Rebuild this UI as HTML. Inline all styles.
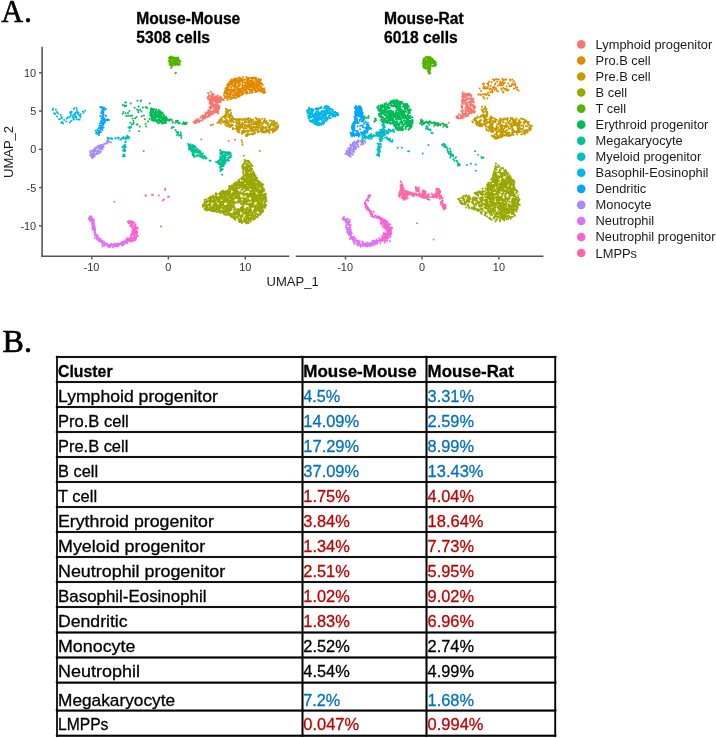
<!DOCTYPE html>
<html><head><meta charset="utf-8"><style>
html,body{margin:0;padding:0;background:#fff;}
body{width:716px;height:738px;overflow:hidden;}
svg{display:block;font-family:"Liberation Sans",sans-serif;filter:blur(0.35px);}
.ser{font-family:"Liberation Serif",serif;}
</style></head><body>
<svg width="716" height="738" viewBox="0 0 716 738">
<text class="ser" transform="translate(1.2,21.8) scale(0.95,1)" x="0" y="0" font-size="32" stroke="#000" stroke-width="0.6">A</text>
<text class="ser" x="24.0" y="21.8" font-size="32" stroke="#000" stroke-width="0.6">.</text>
<text class="ser" x="2.6" y="352.0" font-size="32" stroke="#000" stroke-width="0.7">B.</text>
<line x1="42.1" y1="46.8" x2="42.1" y2="257" stroke="#555555" stroke-width="1.6"/>
<line x1="41.3" y1="256.3" x2="289.3" y2="256.3" stroke="#555555" stroke-width="1.6"/>
<line x1="295.7" y1="256.3" x2="543.4" y2="256.3" stroke="#555555" stroke-width="1.6"/>
<line x1="39" y1="72.8" x2="42" y2="72.8" stroke="#555555" stroke-width="1.4"/>
<text x="36.2" y="76.7" text-anchor="end" fill="#333333" font-size="10.9">10</text>
<line x1="39" y1="111.1" x2="42" y2="111.1" stroke="#555555" stroke-width="1.4"/>
<text x="36.2" y="115.0" text-anchor="end" fill="#333333" font-size="10.9">5</text>
<line x1="39" y1="149.4" x2="42" y2="149.4" stroke="#555555" stroke-width="1.4"/>
<text x="36.2" y="153.3" text-anchor="end" fill="#333333" font-size="10.9">0</text>
<line x1="39" y1="187.6" x2="42" y2="187.6" stroke="#555555" stroke-width="1.4"/>
<text x="36.2" y="191.5" text-anchor="end" fill="#333333" font-size="10.9">-5</text>
<line x1="39" y1="225.8" x2="42" y2="225.8" stroke="#555555" stroke-width="1.4"/>
<text x="36.2" y="229.7" text-anchor="end" fill="#333333" font-size="10.9">-10</text>
<line x1="91.9" y1="256.5" x2="91.9" y2="259.5" stroke="#555555" stroke-width="1.4"/>
<text x="91.5" y="271.1" text-anchor="middle" fill="#333333" font-size="10.9">-10</text>
<line x1="168.4" y1="256.5" x2="168.4" y2="259.5" stroke="#555555" stroke-width="1.4"/>
<text x="168.4" y="271.1" text-anchor="middle" fill="#333333" font-size="10.9">0</text>
<line x1="245.3" y1="256.5" x2="245.3" y2="259.5" stroke="#555555" stroke-width="1.4"/>
<text x="245.3" y="271.1" text-anchor="middle" fill="#333333" font-size="10.9">10</text>
<line x1="345.5" y1="256.5" x2="345.5" y2="259.5" stroke="#555555" stroke-width="1.4"/>
<text x="345.1" y="271.1" text-anchor="middle" fill="#333333" font-size="10.9">-10</text>
<line x1="422.0" y1="256.5" x2="422.0" y2="259.5" stroke="#555555" stroke-width="1.4"/>
<text x="422.0" y="271.1" text-anchor="middle" fill="#333333" font-size="10.9">0</text>
<line x1="498.9" y1="256.5" x2="498.9" y2="259.5" stroke="#555555" stroke-width="1.4"/>
<text x="498.9" y="271.1" text-anchor="middle" fill="#333333" font-size="10.9">10</text>
<text x="266.6" y="285.8" font-size="13" fill="#1a1a1a">UMAP_1</text>
<text transform="translate(13.3,178) rotate(-90)" font-size="13" fill="#1a1a1a">UMAP_2</text>
<text x="136.3" y="24.0" font-weight="bold" font-size="15.6" stroke="#000" stroke-width="0.3">Mouse-Mouse</text>
<text x="136.3" y="42.5" font-weight="bold" font-size="15.6" stroke="#000" stroke-width="0.3">5308 cells</text>
<text x="384.0" y="24.0" font-weight="bold" font-size="15.6" stroke="#000" stroke-width="0.3">Mouse-Rat</text>
<text x="384.0" y="42.5" font-weight="bold" font-size="15.6" stroke="#000" stroke-width="0.3">6018 cells</text>
<g fill="none" stroke-width="2.00" stroke-linecap="round">
<path stroke="#00BC56" d="M130.7 103.4h0M140.5 101.1h0M137.1 109.6h0M122.7 113.7h0M133.7 123.0h0M124.7 105.5h0M139.8 126.5h0M138.3 110.5h0M146.8 107.4h0M125.3 102.4h0M130.3 122.7h0M126.4 115.9h0M140.2 109.8h0M137.4 100.8h0M122.8 105.0h0M141.4 111.4h0M130.4 116.0h0M134.6 107.7h0M144.8 119.3h0M128.3 115.7h0M136.8 124.4h0M142.9 107.4h0M133.5 121.0h0M125.6 113.2h0M143.9 115.6h0M147.3 108.1h0M141.9 116.2h0M138.4 112.2h0M146.2 126.4h0M135.2 118.3h0M145.7 107.3h0M132.6 118.4h0M126.0 102.4h0M124.9 106.2h0M132.7 124.3h0M123.4 112.0h0M137.5 124.6h0M145.6 124.1h0M129.4 111.0h0M131.8 124.6h0M149.7 103.4h0M126.3 105.7h0M128.0 113.1h0M138.7 106.6h0M132.1 115.4h0M149.6 119.0h0M136.5 116.9h0M141.3 100.6h0M148.0 121.6h0M154.3 112.4h0M164.2 119.2h0M159.6 121.2h0M152.7 116.6h0M154.7 114.3h0M153.3 119.4h0M160.0 120.6h0M161.0 117.6h0M166.1 121.2h0M159.9 113.0h0M151.8 113.2h0M162.4 123.2h0M161.3 118.7h0M166.4 120.6h0M157.8 115.3h0M151.9 117.9h0M162.0 122.5h0M152.2 109.9h0M158.6 113.2h0M157.8 120.8h0M151.3 115.2h0M150.3 115.6h0M157.2 121.8h0M163.6 117.4h0M154.2 112.7h0M158.6 114.2h0M161.3 116.0h0M155.7 117.7h0M151.6 108.5h0M157.4 121.6h0M162.2 123.7h0M164.6 117.4h0M156.7 112.0h0M159.5 113.9h0M158.6 114.4h0M151.8 119.8h0M164.0 117.6h0M152.0 117.6h0M165.4 118.7h0M164.5 122.5h0M154.3 117.2h0M156.6 112.5h0M163.3 117.9h0M155.8 116.7h0M166.2 117.1h0M166.0 117.1h0M158.0 116.8h0M160.9 115.6h0M161.1 116.5h0M162.3 123.4h0M150.2 113.0h0M161.3 121.0h0M154.2 114.0h0M154.0 119.4h0M159.3 117.7h0M155.7 117.4h0M159.0 114.0h0M156.1 121.0h0M153.1 116.9h0M163.5 123.2h0M150.3 112.1h0M158.6 123.2h0M157.0 116.7h0M155.8 110.2h0M152.3 112.7h0M162.3 117.3h0M158.9 110.0h0M164.4 121.3h0M163.4 120.5h0M161.1 121.5h0M164.6 123.0h0M155.5 119.0h0M162.0 121.8h0M159.9 112.2h0M154.4 116.7h0M162.2 118.8h0M151.7 112.3h0M163.5 115.4h0M151.9 113.4h0M151.6 118.8h0M151.5 111.7h0M161.6 122.2h0M157.2 115.1h0M150.5 113.3h0M154.2 120.8h0M162.5 120.7h0M159.3 119.3h0M152.2 114.0h0M155.1 112.3h0M155.7 112.3h0M165.1 118.3h0M158.4 113.9h0M157.9 117.1h0M154.5 109.3h0M158.8 120.4h0M152.7 114.8h0M156.7 121.6h0M152.2 118.2h0M163.0 123.0h0M161.6 112.7h0M159.0 112.4h0M157.8 115.4h0M166.0 122.7h0M166.1 118.3h0M164.8 121.3h0M156.5 121.4h0M153.7 120.2h0M158.2 114.5h0M153.4 121.0h0M156.6 114.5h0M160.1 122.5h0M166.5 118.2h0M156.4 109.4h0M151.2 116.3h0M160.2 115.1h0M156.1 114.6h0M160.3 116.7h0M157.5 111.8h0M155.5 115.8h0M159.9 111.1h0M150.9 110.3h0M156.1 120.7h0M163.7 115.0h0M159.4 116.5h0M150.7 108.7h0M161.7 119.1h0M151.2 116.8h0M150.8 115.7h0M160.9 112.3h0M157.8 111.5h0M153.3 110.6h0M164.3 115.2h0M162.5 113.4h0M164.1 117.6h0M161.4 114.2h0M159.8 110.8h0M167.0 118.8h0M159.3 118.3h0M151.8 113.2h0M150.2 115.0h0M165.2 120.7h0M162.6 112.6h0M154.1 119.4h0M155.2 119.7h0M156.1 120.3h0M160.0 121.2h0M159.5 114.1h0M153.6 120.7h0M159.6 120.2h0M154.5 118.7h0M163.4 118.2h0M157.8 119.8h0M159.4 117.6h0M155.4 113.3h0M151.7 113.4h0M162.8 117.2h0M153.0 119.8h0M152.0 120.1h0M152.6 109.2h0M154.4 116.2h0M163.1 119.2h0M159.8 111.9h0M150.2 113.1h0M155.6 110.9h0M157.5 122.6h0M153.7 109.5h0M156.4 109.6h0M153.1 111.8h0M160.1 115.1h0M155.3 116.4h0M163.5 119.7h0M172.9 122.0h0M178.0 120.8h0M176.0 121.0h0M184.5 123.5h0M178.4 123.5h0M184.4 124.3h0M166.8 119.0h0M177.4 120.8h0M183.7 122.2h0M179.8 122.9h0M170.2 119.2h0M186.8 122.8h0M170.0 119.8h0M171.8 120.0h0M168.3 120.2h0M169.5 120.7h0M182.5 123.7h0M183.9 123.7h0M168.6 119.9h0M175.5 122.7h0M185.7 122.8h0M185.9 124.2h0M172.8 122.5h0M170.3 119.5h0M177.4 122.0h0"/>
<path stroke="#F8766D" d="M211.2 96.2h0M217.7 96.6h0M193.5 121.9h0M208.6 96.1h0M208.8 116.4h0M218.0 106.8h0M215.3 106.7h0M202.8 117.1h0M214.5 96.9h0M217.6 98.2h0M196.7 120.6h0M214.6 109.3h0M216.0 107.7h0M209.7 115.8h0M211.2 107.6h0M208.2 113.6h0M221.1 99.7h0M218.0 95.8h0M212.6 96.0h0M199.4 122.0h0M211.5 107.8h0M194.7 123.0h0M217.4 99.7h0M197.3 120.9h0M209.9 113.9h0M213.4 105.1h0M195.0 121.5h0M208.6 99.1h0M215.6 100.7h0M207.8 97.1h0M214.8 109.1h0M217.4 105.3h0M203.1 118.1h0M214.0 111.8h0M210.4 108.4h0M215.3 112.5h0M214.5 112.0h0M213.3 113.7h0M209.6 111.6h0M211.6 113.2h0M212.6 93.5h0M214.9 99.5h0M214.7 98.0h0M207.2 113.3h0M215.8 111.2h0M212.1 93.9h0M215.1 101.2h0M213.0 113.6h0M213.1 100.7h0M219.6 97.8h0M199.1 121.8h0M217.4 107.7h0M199.7 120.2h0M202.3 118.4h0M219.8 100.7h0M208.1 97.5h0M214.8 105.9h0M215.4 112.1h0M212.5 101.1h0M199.0 120.5h0M207.7 98.5h0M215.3 104.7h0M207.9 111.6h0M218.7 98.3h0M219.7 106.6h0M222.0 99.4h0M208.5 113.3h0M199.8 120.9h0M212.2 101.2h0M211.9 113.8h0M208.5 110.1h0M210.8 91.7h0M219.3 106.7h0M207.7 113.1h0M213.3 97.8h0M207.9 98.0h0M217.4 98.8h0M207.7 97.4h0M220.7 102.0h0M198.4 121.4h0M212.7 103.6h0M221.7 98.1h0M203.5 117.8h0M217.5 105.3h0M205.1 117.5h0M220.4 99.7h0M220.6 97.3h0M211.0 101.9h0M214.1 105.7h0M211.4 113.0h0M212.7 95.3h0M218.0 100.8h0M209.8 103.4h0M214.9 97.8h0M197.4 119.8h0M210.1 101.9h0M208.0 98.8h0M217.1 112.4h0M218.8 105.8h0M210.7 111.3h0M212.3 97.9h0M213.1 97.3h0M216.7 109.0h0M212.0 94.3h0M214.6 97.9h0M205.5 117.7h0M217.5 96.5h0M216.4 98.5h0M204.9 118.6h0M217.7 97.3h0M210.8 109.1h0M211.6 101.2h0M205.6 112.5h0M211.9 94.0h0M208.1 93.1h0M220.3 96.7h0M215.5 96.5h0M219.7 100.2h0M217.3 96.0h0M197.6 121.5h0M211.9 102.9h0M219.0 109.2h0M211.7 104.1h0M216.7 99.9h0M203.6 115.9h0M217.4 99.5h0M210.4 112.7h0M211.3 105.3h0M210.5 98.0h0M211.5 106.6h0M196.8 121.5h0M209.7 102.6h0M212.2 105.6h0M200.3 120.4h0M208.0 112.0h0M217.2 97.0h0M215.2 106.3h0M215.1 105.9h0M202.9 115.5h0M214.2 99.9h0M216.5 108.2h0M221.8 98.4h0M215.2 101.9h0M219.2 101.9h0M200.0 120.5h0M211.7 113.6h0M205.9 114.7h0M209.9 101.3h0M195.1 120.6h0M196.0 121.2h0M213.6 111.7h0M203.7 117.6h0M211.7 100.6h0M215.5 98.0h0M218.3 111.2h0M205.9 116.2h0M208.9 98.4h0M217.4 96.9h0M207.5 117.0h0M203.2 118.1h0M213.8 107.4h0M211.6 102.8h0M208.7 115.6h0M215.4 112.1h0M216.0 110.0h0M219.4 99.0h0M208.5 96.6h0M195.9 122.3h0M214.8 105.4h0M204.8 116.8h0M213.6 107.5h0M211.8 106.3h0M204.9 115.2h0M210.0 115.4h0M218.4 113.2h0M212.0 106.0h0M211.7 99.4h0M211.4 104.5h0M216.1 103.9h0M209.0 114.4h0M208.2 111.9h0M217.7 108.1h0M204.6 115.9h0M205.4 113.8h0M217.1 111.8h0M209.2 95.4h0M217.8 102.8h0M218.3 100.0h0M212.6 103.0h0M212.5 99.4h0M197.8 120.0h0M208.7 115.2h0M209.5 99.9h0M211.9 111.8h0M214.3 111.5h0M203.0 119.1h0M208.6 116.1h0M217.6 100.8h0M217.6 104.4h0M211.3 111.5h0M213.7 110.5h0M213.2 98.2h0M212.8 106.1h0M212.5 103.2h0M209.7 99.7h0M217.1 109.9h0M212.1 98.2h0M196.5 122.4h0M214.4 99.2h0M214.8 97.4h0M211.7 114.2h0M197.8 119.0h0M206.0 113.1h0M211.7 104.8h0M204.4 116.6h0M209.8 100.8h0M194.6 122.7h0M210.8 101.3h0M217.0 100.5h0M210.0 100.2h0M220.8 98.9h0M211.0 113.2h0M216.5 106.2h0M216.0 98.9h0M219.4 108.2h0M216.4 96.4h0M210.7 102.5h0M218.8 107.0h0M209.8 99.8h0M216.2 105.1h0M210.7 104.2h0M196.4 122.2h0M212.9 104.0h0M213.1 101.0h0M214.3 97.7h0M199.4 121.4h0M195.7 121.2h0M218.1 111.6h0M217.5 106.7h0M211.6 96.0h0M214.2 109.2h0M197.1 119.4h0M218.0 102.1h0M202.3 120.4h0M196.2 122.8h0M212.8 98.2h0M214.6 100.8h0M217.0 102.3h0M217.8 108.3h0M220.2 98.4h0M209.9 95.8h0M214.1 97.7h0M211.1 107.3h0M211.2 114.1h0M217.1 110.1h0M214.8 104.5h0M217.1 102.2h0M219.0 99.9h0M204.2 115.5h0M221.8 98.6h0M200.3 117.6h0M213.8 97.7h0M210.1 108.2h0M213.9 94.7h0M215.2 96.7h0M218.0 108.3h0M216.1 102.3h0M211.8 103.1h0M208.7 93.6h0M212.0 99.9h0M213.2 100.2h0M211.4 99.4h0M221.3 100.6h0M208.8 96.2h0M218.0 111.0h0M209.9 112.3h0M211.2 106.5h0M218.7 99.1h0M209.5 107.2h0M201.7 116.2h0M210.8 125.0h0M211.5 125.3h0"/>
<path stroke="#E38900" d="M260.5 87.2h0M241.8 94.2h0M229.5 84.8h0M238.1 92.8h0M258.4 89.1h0M255.7 88.1h0M256.0 90.7h0M247.6 86.7h0M249.1 85.8h0M242.4 87.7h0M254.1 83.7h0M239.7 90.0h0M239.4 84.4h0M244.4 87.3h0M230.8 84.0h0M229.1 90.4h0M248.0 78.9h0M262.6 84.5h0M247.3 88.6h0M245.2 89.1h0M252.5 86.0h0M238.3 90.9h0M252.1 89.2h0M227.1 85.7h0M240.2 90.1h0M241.9 91.6h0M230.2 84.3h0M245.0 79.4h0M261.3 86.8h0M229.6 83.7h0M245.0 88.8h0M230.9 81.1h0M250.1 91.1h0M250.4 77.8h0M240.6 95.5h0M236.1 93.2h0M259.3 90.7h0M251.7 81.5h0M244.4 89.9h0M234.3 92.1h0M247.7 86.5h0M255.7 79.3h0M256.2 84.5h0M253.8 85.2h0M230.1 83.1h0M227.1 98.2h0M248.0 85.1h0M242.3 85.9h0M225.2 97.9h0M241.8 91.5h0M258.1 84.0h0M233.3 86.0h0M253.9 82.0h0M236.2 97.5h0M233.3 80.9h0M238.3 81.2h0M247.1 79.5h0M245.9 85.9h0M240.3 78.4h0M228.1 96.4h0M238.0 82.6h0M231.1 83.5h0M251.6 84.9h0M229.6 93.5h0M259.0 79.8h0M257.7 80.6h0M238.1 93.9h0M244.7 82.2h0M242.4 79.9h0M253.4 83.0h0M261.8 90.7h0M238.7 82.6h0M249.1 81.8h0M260.6 79.7h0M245.0 89.7h0M234.5 95.1h0M239.5 92.4h0M247.4 84.2h0M239.7 78.8h0M230.5 97.0h0M236.7 92.5h0M227.5 90.1h0M238.5 88.7h0M235.7 78.4h0M236.3 82.2h0M228.3 93.8h0M235.0 86.4h0M228.5 83.4h0M224.1 92.9h0M251.5 85.1h0M240.7 92.4h0M253.1 82.7h0M259.5 85.1h0M250.0 81.1h0M227.8 98.4h0M229.8 81.5h0M235.9 85.8h0M250.4 81.1h0M259.1 90.3h0M253.8 82.8h0M241.6 93.0h0M259.8 91.2h0M227.6 95.6h0M231.9 98.5h0M255.3 78.8h0M252.9 86.1h0M235.0 78.9h0M250.0 87.5h0M225.2 93.3h0M241.3 88.9h0M255.8 77.8h0M234.1 89.7h0M264.8 91.9h0M246.4 82.7h0M240.6 81.6h0M236.2 80.0h0M233.1 82.5h0M245.1 87.3h0M235.8 97.8h0M228.9 90.1h0M237.2 96.1h0M230.1 92.6h0M248.7 87.7h0M227.8 83.7h0M238.4 81.7h0M231.3 93.4h0M242.2 79.5h0M236.8 87.9h0M238.5 80.8h0M226.4 93.8h0M227.5 88.4h0M241.6 81.3h0M246.3 77.0h0M262.6 92.1h0M251.1 82.8h0M233.5 80.1h0M224.0 95.2h0M259.2 83.8h0M230.8 91.9h0M230.1 95.4h0M236.9 81.2h0M258.5 84.4h0M238.8 89.9h0M238.8 96.5h0M247.3 91.7h0M244.2 88.6h0M229.6 83.9h0M248.0 78.7h0M252.6 80.7h0M241.8 81.3h0M256.9 86.9h0M235.1 92.5h0M245.1 86.8h0M237.5 87.2h0M235.6 87.3h0M247.2 85.1h0M236.8 87.7h0M264.4 91.5h0M252.1 91.2h0M235.7 90.3h0M264.1 88.2h0M250.8 83.9h0M252.2 87.4h0M226.5 92.5h0M238.9 90.6h0M240.8 89.4h0M247.3 86.2h0M261.3 89.8h0M227.7 97.2h0M233.8 79.1h0M245.8 82.8h0M244.0 89.9h0M232.6 90.4h0M227.7 89.0h0M248.3 78.7h0M240.5 78.5h0M246.6 93.7h0M255.6 79.5h0M227.2 96.5h0M239.8 80.9h0M264.4 90.1h0M256.4 80.0h0M256.4 78.2h0M233.1 85.6h0M232.0 83.9h0M253.4 86.9h0M261.3 91.5h0M260.6 90.1h0M230.1 94.5h0M237.6 94.9h0M228.1 85.6h0M254.1 77.8h0M248.9 79.2h0M227.7 98.7h0M252.0 82.8h0M231.2 87.4h0M259.1 90.6h0M227.6 95.8h0M230.8 89.9h0M235.4 93.1h0M239.3 80.2h0M260.7 89.6h0M237.6 80.4h0M230.7 96.2h0M252.2 86.1h0M243.4 80.6h0M259.4 86.1h0M260.6 91.3h0M232.2 98.0h0M248.3 77.8h0M230.1 85.4h0M243.1 90.5h0M239.6 85.2h0M251.9 83.3h0M234.6 88.7h0M234.1 90.3h0M250.2 91.8h0M238.5 83.5h0M263.4 92.9h0M236.0 94.9h0M254.8 88.9h0M250.3 85.1h0M246.6 86.4h0M243.6 85.5h0M233.3 82.4h0M237.9 80.0h0M242.4 87.4h0M247.4 84.0h0M235.9 84.1h0M254.3 89.9h0M262.7 90.6h0M238.3 95.2h0M225.7 88.3h0M261.7 83.3h0M229.9 83.2h0M253.3 82.0h0M240.1 81.5h0M250.9 81.5h0M248.8 78.7h0M237.6 80.0h0M230.9 89.5h0M236.9 94.6h0M250.9 86.4h0M252.2 84.8h0M224.8 91.6h0M237.3 88.5h0M248.7 82.9h0M242.9 77.1h0M262.9 90.2h0M237.1 79.0h0M256.0 78.9h0M258.0 86.8h0M246.1 90.7h0M246.8 92.4h0M248.8 84.6h0M254.9 82.9h0M256.4 84.1h0M242.4 83.4h0M243.4 92.3h0M256.3 85.4h0M255.6 78.9h0M225.4 88.7h0M246.8 81.1h0M256.5 82.5h0M250.3 85.0h0M257.5 87.7h0M227.5 94.2h0M225.6 92.1h0M225.4 90.2h0M263.7 91.7h0M232.5 82.8h0M234.2 87.1h0M232.8 81.6h0M255.7 92.0h0M232.2 90.3h0M229.6 97.3h0M260.4 83.1h0M235.0 84.7h0M229.8 93.0h0M248.7 87.5h0M231.9 97.7h0M238.4 95.3h0M260.2 81.1h0M227.6 99.9h0M229.3 94.2h0M252.4 78.9h0M233.0 95.6h0M252.7 77.7h0M244.7 82.3h0M241.4 79.3h0M223.7 100.3h0M228.0 88.4h0M228.7 87.0h0M230.5 93.0h0M229.2 94.3h0M244.5 79.5h0M238.1 88.6h0M262.6 85.1h0M234.6 81.0h0M240.5 90.0h0M252.6 92.3h0M246.4 89.8h0M240.1 84.3h0M239.6 85.9h0M240.6 80.2h0M233.8 91.3h0M239.1 82.5h0M231.4 79.6h0M252.9 84.5h0M250.8 89.8h0M259.8 88.9h0M233.0 91.7h0M255.0 85.8h0M253.6 86.1h0M245.6 91.3h0M252.1 84.4h0M250.0 89.7h0M232.5 91.3h0M243.3 93.9h0M245.4 88.1h0M232.4 80.2h0M263.0 89.3h0M245.5 89.3h0M258.0 82.5h0M230.3 96.3h0M242.7 92.0h0M239.3 96.5h0M258.2 79.7h0M229.5 82.8h0M227.3 85.3h0M257.6 89.2h0M242.4 78.9h0M252.9 87.4h0M255.7 80.4h0M252.3 85.5h0M245.3 82.4h0M238.9 84.9h0M231.5 90.3h0M253.9 83.3h0M236.8 82.5h0M258.9 79.0h0M231.5 86.8h0M257.1 91.4h0M238.9 77.8h0M242.0 85.5h0M253.7 83.8h0M240.5 92.2h0M257.9 85.2h0M239.5 90.5h0M238.9 92.6h0M237.1 78.5h0M255.5 85.8h0M245.6 88.6h0M242.8 87.8h0M259.2 86.6h0M241.8 88.4h0M240.2 77.8h0M252.2 89.9h0M226.1 96.2h0M255.4 90.2h0M225.2 92.9h0M253.6 88.2h0M225.2 93.2h0M240.9 90.6h0M260.6 80.2h0M237.3 89.1h0M234.7 83.0h0M236.4 82.8h0M260.0 90.0h0M244.9 86.8h0M259.9 82.9h0M246.0 85.7h0M242.9 88.4h0M248.1 85.5h0M257.5 81.5h0M262.6 90.0h0M245.9 86.5h0M247.3 84.5h0M234.6 95.7h0M235.4 93.6h0M257.5 90.8h0M250.5 78.0h0M248.6 81.1h0M262.7 90.1h0M257.5 88.6h0M252.0 92.8h0M235.6 81.8h0M259.1 80.3h0M240.8 92.4h0M252.5 80.5h0M225.3 93.3h0M224.6 96.6h0M235.5 82.3h0M248.0 84.4h0M247.1 80.4h0M262.3 84.5h0M259.2 80.4h0M239.8 77.6h0M239.3 92.0h0M232.5 89.7h0M226.9 87.8h0M254.3 87.0h0M252.2 79.5h0M258.7 79.7h0M263.5 89.3h0M235.4 85.0h0M255.3 88.6h0M248.7 89.6h0M234.5 98.0h0M259.4 82.2h0M251.2 78.0h0M237.2 87.5h0M233.5 94.4h0M230.5 95.5h0M235.7 78.4h0M247.0 79.1h0M248.6 87.7h0M227.0 92.1h0M228.5 90.5h0M238.1 85.7h0M251.5 80.7h0M230.1 99.1h0M237.2 96.8h0M260.6 88.2h0M260.9 79.6h0M244.3 89.5h0M227.9 87.9h0M229.9 89.5h0M244.7 85.5h0M231.4 86.4h0M231.6 79.8h0M233.2 97.5h0M223.5 99.2h0M247.5 93.1h0M232.7 94.6h0M229.5 83.1h0M245.2 83.7h0M247.8 82.3h0M253.6 78.3h0M233.4 91.0h0M249.6 93.2h0M258.1 84.9h0M257.9 87.7h0M240.4 78.9h0M233.4 94.2h0M252.2 80.4h0M237.7 80.1h0M231.4 82.0h0M243.6 88.6h0M255.3 91.9h0M231.4 91.6h0M226.8 93.8h0M237.9 80.6h0M264.6 92.7h0M255.1 80.0h0M248.4 87.1h0M260.5 83.9h0M264.4 89.4h0M233.7 96.7h0M232.8 81.5h0M242.6 82.4h0M239.8 95.4h0M240.4 78.9h0M237.5 90.9h0M258.0 86.7h0M249.0 87.6h0M237.3 81.9h0M238.1 96.8h0M249.6 83.7h0M253.2 87.3h0M228.0 93.0h0M224.6 96.3h0M230.8 83.2h0M232.5 97.9h0M239.9 88.6h0M264.2 88.8h0M258.8 80.6h0M230.4 99.2h0M233.7 85.1h0M227.2 89.9h0M260.1 89.0h0M226.1 91.6h0M238.5 92.5h0M250.2 85.7h0M245.4 92.8h0M262.1 88.6h0M225.3 96.6h0M252.4 90.0h0M242.2 94.6h0M255.3 77.6h0M236.9 80.0h0M229.1 90.7h0M247.8 77.9h0M239.8 94.5h0M250.6 83.5h0M255.8 83.7h0M246.4 86.8h0M265.2 92.2h0M234.8 80.6h0M257.2 85.0h0"/>
<path stroke="#C49A00" d="M225.2 122.6h0M235.0 118.9h0M228.1 116.8h0M236.5 120.4h0M241.0 119.0h0M244.5 131.6h0M256.1 129.9h0M263.6 121.3h0M251.3 126.9h0M267.9 124.0h0M220.8 123.5h0M263.4 127.1h0M242.2 130.7h0M223.4 116.8h0M255.9 127.5h0M264.7 119.2h0M275.0 128.9h0M237.8 119.2h0M249.6 122.7h0M224.8 117.7h0M220.6 119.7h0M247.7 132.0h0M258.0 124.3h0M241.6 124.2h0M265.5 131.6h0M263.4 122.2h0M262.7 131.1h0M260.3 125.3h0M254.0 131.2h0M230.4 110.8h0M225.1 115.9h0M220.2 120.6h0M251.0 130.7h0M255.7 117.7h0M237.1 124.1h0M266.8 123.2h0M218.3 122.3h0M255.7 128.4h0M252.9 119.4h0M248.4 124.6h0M244.7 127.2h0M260.6 120.9h0M248.6 120.4h0M228.7 115.6h0M251.3 127.8h0M277.0 129.1h0M261.4 128.3h0M261.4 125.8h0M232.9 118.1h0M226.7 125.8h0M266.5 120.9h0M245.8 135.8h0M273.2 130.4h0M246.1 131.1h0M251.5 122.4h0M229.5 115.2h0M262.1 118.9h0M267.0 131.7h0M229.8 124.5h0M268.1 130.1h0M271.8 123.1h0M255.3 132.9h0M246.6 126.0h0M229.3 115.0h0M244.9 124.5h0M256.1 127.9h0M245.8 119.4h0M258.4 128.1h0M231.4 126.3h0M259.5 121.4h0M230.7 119.1h0M265.5 131.2h0M255.9 128.9h0M230.2 126.9h0M274.4 126.0h0M226.0 108.7h0M277.0 128.0h0M226.6 122.5h0M251.1 131.1h0M247.8 125.5h0M253.5 130.5h0M268.1 130.8h0M277.2 123.4h0M261.9 131.9h0M259.6 124.9h0M248.9 120.9h0M241.8 125.2h0M262.1 130.4h0M273.3 131.6h0M258.8 131.9h0M243.3 132.7h0M244.0 127.9h0M232.2 116.6h0M222.4 120.6h0M277.5 126.4h0M274.5 129.5h0M232.0 119.7h0M236.9 129.7h0M265.9 123.0h0M236.0 125.7h0M239.3 123.2h0M249.5 126.3h0M250.0 134.4h0M241.8 133.7h0M227.5 120.4h0M259.2 127.5h0M262.9 129.2h0M229.5 115.4h0M276.5 126.1h0M253.3 126.5h0M253.7 127.6h0M223.5 122.0h0M276.8 127.4h0M227.6 111.0h0M235.4 119.6h0M259.4 120.6h0M269.7 130.6h0M257.5 124.6h0M257.1 124.1h0M230.4 110.0h0M239.1 128.4h0M232.2 118.4h0M234.2 118.8h0M228.6 114.3h0M256.4 121.4h0M257.8 131.5h0M245.1 128.1h0M230.9 120.5h0M239.0 121.3h0M274.8 123.7h0M262.8 123.9h0M275.2 122.8h0M274.0 121.1h0M229.3 126.7h0M257.1 122.6h0M262.6 123.2h0M231.1 122.1h0M254.1 126.4h0M275.3 128.9h0M230.6 124.9h0M252.8 134.4h0M241.5 127.1h0M231.0 121.5h0M248.3 134.7h0M247.1 135.9h0M236.5 119.6h0M237.8 126.9h0M232.5 120.9h0M251.4 128.1h0M225.1 114.9h0M225.8 112.0h0M249.0 124.4h0M231.1 112.9h0M252.9 120.8h0M241.9 133.0h0M257.7 132.2h0M242.6 123.0h0M269.3 130.7h0M257.1 122.5h0M257.4 124.6h0M231.2 118.4h0M249.1 127.1h0M255.3 121.4h0M258.3 130.5h0M258.7 128.0h0M276.1 130.1h0M231.0 120.2h0M257.8 129.6h0M229.9 115.6h0M241.8 119.9h0M275.1 124.3h0M238.6 127.9h0M264.2 131.5h0M256.4 125.9h0M267.6 125.0h0M269.3 132.6h0M217.4 123.1h0M233.0 128.0h0M237.4 122.8h0M236.4 119.8h0M226.6 110.7h0M255.3 127.6h0M274.3 123.8h0M259.6 118.9h0M266.1 130.6h0M266.5 130.3h0M257.8 124.0h0M232.6 120.0h0M249.7 128.4h0M230.2 116.3h0M256.3 127.5h0M254.7 133.4h0M229.2 116.9h0M226.3 114.5h0M264.5 131.3h0M236.1 128.3h0M223.9 122.3h0M248.9 118.3h0M261.1 123.0h0M220.9 119.0h0M236.3 121.5h0M260.8 129.7h0M239.6 120.7h0M244.8 126.0h0M224.5 121.2h0M264.4 120.4h0M221.8 119.2h0M226.7 123.0h0M232.6 128.9h0M245.9 134.9h0M245.4 128.2h0M232.4 121.3h0M242.5 131.1h0M270.2 124.2h0M254.2 133.3h0M269.3 131.0h0M233.0 118.4h0M242.0 125.9h0M271.7 129.3h0M261.8 129.3h0M257.3 118.8h0M269.0 131.9h0M274.9 129.0h0M258.6 126.4h0M250.6 120.9h0M237.6 130.0h0M265.2 132.5h0M229.8 117.7h0M245.2 119.4h0M235.8 125.8h0M272.2 121.3h0M272.5 128.7h0M253.0 131.3h0M248.8 121.7h0M242.4 132.8h0M276.1 127.6h0M243.4 128.2h0M249.1 131.1h0M243.5 118.8h0M229.0 116.6h0M237.0 128.6h0M228.1 123.5h0M247.6 126.8h0M273.1 123.6h0M263.7 132.4h0M247.7 133.3h0M248.3 134.2h0M255.8 130.6h0M242.9 125.0h0M242.6 122.5h0M261.1 129.1h0M231.2 115.3h0M254.0 133.4h0M229.1 124.5h0M261.3 129.1h0M260.8 128.0h0M266.1 127.1h0M225.3 121.0h0M237.4 129.6h0M226.5 119.6h0M226.6 114.3h0M236.1 122.3h0M227.9 121.6h0M246.7 134.6h0M227.0 110.2h0M259.5 119.1h0M269.3 128.5h0M238.5 125.8h0M251.0 126.7h0M225.5 118.4h0M269.5 130.3h0M253.2 127.1h0M250.7 119.4h0M227.8 111.4h0M272.3 130.5h0M246.3 122.0h0M238.3 123.0h0M274.3 126.0h0M240.6 125.2h0M239.5 119.0h0M237.2 131.1h0M225.6 114.6h0M262.1 128.3h0M250.8 133.9h0M263.0 132.2h0M270.8 129.2h0M260.6 125.8h0M227.8 125.2h0M243.5 119.1h0M227.7 112.4h0M238.3 128.8h0M220.2 123.0h0M243.8 130.3h0M252.3 120.8h0M271.3 125.0h0M237.5 119.2h0M273.4 123.8h0M240.3 127.5h0M265.4 122.6h0M242.3 126.9h0M251.9 128.5h0M272.7 130.3h0M265.5 131.1h0M278.1 127.4h0M236.3 129.3h0M232.8 125.2h0M274.4 129.3h0M252.2 133.5h0M253.0 120.1h0M270.7 120.5h0M261.9 126.3h0M222.6 122.0h0M243.0 124.2h0M266.8 129.4h0M244.9 132.3h0M256.1 118.7h0M218.6 121.5h0M245.4 121.3h0M261.2 128.5h0M228.0 112.0h0M228.1 122.2h0M274.3 121.4h0M272.9 125.3h0M255.7 123.1h0M269.7 120.6h0M266.6 127.2h0M245.3 131.2h0M251.0 119.5h0M226.9 112.0h0M245.8 122.0h0M233.2 118.5h0M251.0 129.5h0M225.2 124.4h0M224.2 116.1h0M255.7 123.9h0M275.5 127.3h0M255.9 123.4h0M270.2 126.9h0M238.9 125.1h0M268.6 126.9h0M278.2 127.1h0M219.6 120.1h0M242.4 133.4h0M253.2 131.2h0M239.2 126.7h0M278.3 125.6h0M261.7 123.6h0M226.3 112.4h0M253.1 130.5h0M226.5 122.2h0M252.2 123.8h0M242.2 123.4h0M222.3 121.5h0M258.2 131.5h0M244.7 122.2h0M274.0 125.1h0M227.8 110.1h0M221.6 117.5h0M248.4 134.3h0M273.1 127.9h0M269.2 126.3h0M226.2 125.6h0M220.1 122.3h0M262.7 128.2h0M258.1 120.3h0M230.4 119.3h0M228.8 110.6h0M241.4 127.4h0M220.9 123.4h0M222.7 122.2h0M258.2 122.0h0M274.6 130.9h0M259.2 127.7h0M252.8 128.4h0M238.1 127.6h0M239.3 128.1h0M270.3 126.0h0M240.2 126.9h0M238.5 132.6h0M273.0 130.1h0M270.3 124.6h0M276.8 126.2h0M275.5 124.0h0M228.7 122.7h0M239.7 122.4h0M233.8 122.2h0M247.8 119.9h0M264.4 127.8h0M265.1 122.6h0M248.3 118.7h0M234.6 119.4h0M260.6 131.0h0M246.5 128.6h0M229.7 120.8h0M238.9 129.3h0M257.2 127.1h0M256.0 127.5h0M276.3 122.8h0M266.0 128.8h0M246.8 118.5h0M233.3 121.8h0M269.3 132.4h0M243.8 120.0h0M227.9 112.6h0M269.5 133.1h0M264.6 118.7h0M243.8 119.3h0M239.6 129.4h0M237.2 127.2h0M252.9 124.2h0M236.7 126.2h0M253.9 122.4h0M235.9 119.8h0M231.7 124.6h0M266.0 130.8h0M246.3 135.7h0M230.7 125.6h0M264.9 131.7h0M250.6 119.0h0M222.2 121.1h0M239.4 120.3h0M260.2 122.6h0M248.3 122.0h0M239.6 132.2h0M254.7 123.9h0M237.6 119.8h0M257.7 126.7h0M244.3 119.5h0M244.9 131.4h0M239.8 128.7h0M276.2 127.2h0M258.5 122.1h0M227.3 126.2h0M246.6 125.4h0M224.9 116.8h0M258.7 123.4h0M254.9 130.0h0M244.0 131.4h0M251.7 129.2h0M239.1 120.7h0M268.0 122.7h0M243.9 131.4h0M259.3 123.1h0M226.4 116.4h0M272.8 132.5h0M274.1 130.8h0M250.8 125.3h0M260.0 121.1h0M265.4 120.9h0M234.0 129.0h0M259.7 119.3h0M230.4 114.3h0M248.2 122.2h0M238.1 128.6h0M257.4 119.5h0M273.6 121.4h0M248.0 130.2h0M238.5 130.9h0M256.0 121.7h0M239.9 124.3h0M230.0 120.4h0M250.8 125.0h0M241.7 140.5h0M242.2 142.5h0M242.4 144.7h0M259.8 151.0h0M213.0 124.5h0"/>
<path stroke="#53B400" d="M177.0 57.7h0M179.0 59.8h0M174.5 64.5h0M170.0 61.2h0M175.4 58.0h0M171.6 66.9h0M173.8 58.0h0M171.1 63.3h0M171.2 62.0h0M175.8 61.6h0M171.3 56.6h0M178.8 63.2h0M175.8 58.8h0M179.0 59.9h0M178.3 59.0h0M176.3 64.2h0M173.6 62.1h0M169.6 64.1h0M177.8 58.0h0M172.0 57.2h0M172.0 57.2h0M175.2 59.2h0M172.7 61.9h0M178.2 57.5h0M173.0 57.5h0M173.9 60.0h0M175.5 61.6h0M179.7 62.0h0M171.1 61.2h0M180.5 61.2h0M177.4 63.1h0M174.8 63.3h0M171.9 63.1h0M177.0 64.0h0M179.8 62.0h0M170.4 59.9h0M171.4 64.1h0M177.4 64.3h0M169.0 61.6h0M173.0 63.6h0M173.1 57.7h0M177.5 59.7h0M179.1 59.9h0M170.2 65.2h0M173.6 58.3h0M173.9 62.4h0M174.2 57.6h0M175.6 59.9h0M174.4 59.0h0M172.4 57.5h0M169.3 61.7h0M172.3 58.0h0M175.6 61.4h0M171.8 63.1h0M172.7 63.4h0M172.7 65.0h0M169.0 60.8h0M170.4 62.0h0M168.9 58.0h0M171.6 57.1h0M169.9 58.5h0M175.5 57.8h0M179.5 61.3h0M172.0 59.1h0M170.0 56.9h0M177.9 63.4h0M178.2 59.6h0M175.3 58.4h0M174.5 59.6h0M176.4 59.8h0M172.3 64.1h0M175.2 59.0h0M170.2 62.5h0M175.4 65.1h0M173.6 61.3h0M172.1 66.3h0M176.8 58.6h0M179.4 63.1h0M171.0 59.3h0M176.8 58.5h0M174.8 65.0h0M170.0 64.4h0M170.1 62.0h0M177.3 64.7h0M169.3 58.5h0M174.3 60.8h0M177.3 61.1h0M176.2 62.5h0M171.2 68.0h0M178.5 65.0h0M179.1 62.0h0M172.8 60.7h0M179.8 64.5h0M170.9 58.0h0M176.2 58.8h0M173.1 57.4h0M170.7 65.1h0M171.7 66.7h0M172.7 59.4h0M174.4 60.8h0M170.0 65.0h0M176.4 62.4h0M175.4 73.2h0M175.9 72.8h0"/>
<path stroke="#00C094" d="M181.3 135.9h0M180.3 135.2h0M173.7 127.2h0M181.4 138.1h0M179.1 135.4h0M175.5 130.1h0M180.7 134.3h0M171.6 128.2h0M180.9 135.2h0M176.8 132.2h0M178.3 132.2h0M172.2 127.1h0M181.2 136.1h0M180.8 132.5h0M181.4 137.9h0M181.4 138.1h0M179.3 135.2h0M177.0 134.9h0M176.5 131.8h0M178.1 133.5h0M200.0 152.1h0M189.2 149.2h0M196.9 155.9h0M195.0 146.6h0M191.4 150.0h0M199.6 151.9h0M193.2 147.4h0M189.0 149.2h0M200.7 154.6h0M197.8 152.3h0M193.5 156.3h0M188.9 145.6h0M201.6 153.2h0M199.7 153.3h0M198.5 150.5h0M189.1 149.4h0M195.1 149.5h0M194.4 149.4h0M195.6 152.2h0M194.0 146.1h0M195.9 147.6h0M194.4 146.0h0M202.7 156.9h0M202.9 153.5h0M195.0 146.3h0M189.0 146.0h0M193.5 151.9h0M193.1 149.6h0M205.7 158.5h0M193.1 152.5h0M199.2 153.0h0M190.0 147.3h0M191.8 149.6h0M190.4 144.3h0M190.8 147.7h0M194.5 155.1h0M194.7 150.2h0M194.5 155.4h0M190.1 147.8h0M200.3 151.4h0M191.8 145.7h0M193.1 146.3h0M192.4 146.8h0M193.5 155.7h0M202.5 154.1h0M189.8 146.5h0M190.3 149.5h0M199.8 150.8h0M188.8 145.0h0M191.4 150.9h0M196.2 151.6h0M201.3 157.5h0M198.7 155.5h0M189.1 147.1h0M189.8 149.0h0M189.1 148.7h0M197.7 151.6h0M194.7 155.8h0M205.4 157.0h0M197.4 155.6h0M194.8 151.3h0M202.7 155.8h0M193.0 150.9h0M201.6 157.3h0M193.7 154.0h0M194.7 156.9h0M193.9 146.7h0M204.5 155.9h0M197.2 151.6h0M197.5 149.1h0M199.5 156.0h0M195.6 151.7h0M189.5 147.8h0M201.0 156.2h0M191.8 149.7h0M195.5 147.3h0M206.3 158.5h0M201.3 156.3h0M188.0 144.1h0M203.4 158.6h0M191.0 145.8h0M192.6 153.7h0M197.9 152.3h0M192.6 154.7h0M200.5 154.4h0M196.1 150.0h0M196.0 152.7h0M204.3 156.8h0M190.1 146.7h0M193.7 148.0h0M192.7 145.0h0M197.5 154.7h0M206.5 158.2h0M191.9 151.7h0M193.8 152.0h0M205.5 158.4h0M191.7 148.4h0M200.9 153.3h0M220.5 152.7h0M228.4 159.5h0M219.2 160.8h0M221.6 161.7h0M229.3 153.9h0M223.8 162.0h0M222.1 153.6h0M221.6 162.4h0M229.8 153.4h0M224.9 157.5h0M218.6 162.3h0M220.1 156.4h0M222.7 153.1h0M221.4 164.7h0M220.1 166.8h0M225.4 159.4h0M220.9 152.4h0M222.7 159.8h0M221.8 153.6h0M222.5 161.5h0M224.1 156.7h0M218.3 163.2h0M227.3 155.0h0M221.3 169.9h0M222.0 163.7h0M229.6 154.0h0M220.4 170.9h0M222.7 165.7h0M223.6 163.3h0M221.6 170.3h0M220.7 163.0h0M223.9 155.3h0M221.2 160.9h0M221.8 159.1h0M226.7 152.7h0M220.5 151.1h0M221.7 152.0h0M228.9 160.7h0M221.7 166.3h0M220.4 171.0h0M223.1 164.8h0M223.5 166.2h0M220.3 158.5h0M229.9 156.3h0M224.4 158.4h0M225.2 154.0h0M225.2 154.5h0M224.3 158.1h0M230.7 153.3h0M219.0 160.6h0M223.9 160.0h0M225.6 162.2h0M228.1 157.5h0M228.3 152.3h0M225.9 152.4h0M221.1 154.0h0M221.7 157.4h0M220.1 150.0h0M222.4 154.0h0M224.2 152.1h0M220.0 163.0h0M225.3 157.8h0M227.9 153.3h0M220.5 153.9h0M229.0 157.8h0M230.8 155.2h0M224.4 164.1h0M219.3 163.4h0M225.6 160.9h0M218.1 161.1h0M220.5 168.7h0M218.2 162.4h0M216.0 161.8h0M227.9 154.8h0M224.7 161.0h0M220.4 170.0h0M221.3 158.7h0M223.8 165.1h0M218.2 161.9h0M222.1 154.6h0M228.1 154.4h0M226.8 160.2h0M221.9 164.9h0M219.0 164.1h0M222.2 157.3h0M223.7 156.3h0M222.2 157.1h0M223.2 161.1h0M221.2 152.5h0M231.4 155.7h0M220.6 156.5h0M227.4 160.3h0M220.9 158.2h0M221.1 170.5h0M222.1 162.0h0M220.3 150.4h0M227.4 157.7h0M225.7 155.7h0M230.5 157.6h0M221.7 166.5h0M220.6 167.2h0M222.7 168.9h0M222.8 155.2h0M229.5 152.9h0M222.8 159.7h0M223.3 162.8h0M229.7 153.2h0M223.4 162.2h0M222.5 159.8h0M223.8 156.3h0M222.3 155.1h0M222.3 151.9h0M222.4 160.8h0M228.1 153.6h0M221.8 169.6h0M221.2 170.6h0M220.6 165.1h0M223.8 151.7h0M224.5 159.2h0M220.1 167.5h0M226.5 152.2h0M219.0 163.3h0M229.5 152.3h0M224.9 152.2h0M225.1 163.1h0M224.2 162.7h0M223.5 152.1h0M218.3 163.7h0M224.0 157.3h0M218.6 161.8h0M229.4 157.6h0M222.0 162.1h0M217.6 162.2h0M220.0 159.8h0M223.3 156.4h0M222.6 163.2h0M223.3 161.1h0M223.1 157.3h0M220.3 159.1h0M226.4 153.1h0M209.6 160.4h0M210.6 160.8h0M222.1 174.7h0"/>
<path stroke="#00BFC4" d="M115.6 138.0h0M125.7 137.4h0M109.3 138.2h0M112.2 139.1h0M122.2 138.4h0M120.7 139.4h0M128.8 137.1h0M118.1 137.7h0M118.0 138.4h0M129.3 137.6h0M115.4 138.8h0M111.6 138.3h0M118.2 137.7h0M129.1 137.7h0M107.7 139.1h0M123.6 136.9h0M118.8 137.7h0M107.7 137.8h0M121.4 138.8h0M108.2 140.9h0M120.1 139.8h0M110.9 138.6h0M127.4 135.7h0M122.4 138.3h0M118.0 138.1h0M126.3 137.6h0M127.6 138.2h0M123.8 138.4h0M124.7 147.7h0M124.7 156.3h0M128.1 138.5h0M124.3 148.0h0M125.8 138.9h0M123.8 145.4h0M124.0 149.5h0M123.4 155.0h0M123.9 154.3h0M123.8 147.2h0M127.3 137.8h0M122.9 150.5h0M122.4 146.9h0M124.3 155.1h0M124.3 149.9h0M124.9 151.0h0M125.1 144.7h0M124.1 151.0h0M124.4 146.0h0M123.7 149.7h0M122.9 156.3h0M125.9 141.6h0M127.7 138.0h0M123.9 145.9h0M128.2 137.3h0M125.0 150.9h0M125.1 150.0h0M124.3 146.8h0M125.4 138.4h0M125.1 142.3h0M125.8 146.8h0M125.1 151.0h0M129.5 131.1h0M127.2 135.7h0M131.2 127.1h0M130.4 127.8h0M130.1 128.2h0M129.8 127.1h0M143.7 150.9h0M139.1 131.3h0M128.5 127.4h0"/>
<path stroke="#00B6EB" d="M61.6 122.3h0M74.1 118.5h0M77.2 112.1h0M80.4 117.3h0M60.7 114.8h0M68.7 117.4h0M64.2 120.0h0M70.2 116.4h0M74.8 113.5h0M77.9 113.9h0M72.7 117.0h0M78.5 119.3h0M74.3 108.4h0M85.1 110.7h0M71.1 121.0h0M76.4 117.4h0M73.4 119.7h0M58.1 113.4h0M63.1 123.3h0M78.6 112.5h0M54.1 113.2h0M73.4 115.4h0M61.4 117.0h0M57.0 116.6h0M79.2 115.2h0M57.0 111.9h0M66.3 121.4h0M70.7 113.7h0M76.5 107.8h0M75.0 113.9h0M83.5 112.7h0M70.1 112.3h0M74.8 114.8h0M76.1 112.5h0M67.5 117.6h0M76.4 119.4h0M55.8 109.8h0M74.5 113.5h0M82.9 111.4h0M71.7 111.8h0M79.6 119.8h0M66.6 118.5h0M74.3 115.4h0M55.1 113.9h0M73.7 108.7h0M75.4 116.7h0M73.1 115.3h0M70.6 112.2h0M62.0 118.0h0M61.4 122.8h0M59.1 119.3h0M70.9 113.2h0M69.8 122.5h0M62.4 122.2h0M59.9 119.0h0M53.1 108.6h0M76.1 116.4h0M70.9 115.0h0M80.6 114.2h0M72.5 117.5h0M77.0 110.1h0M52.7 110.1h0M74.2 118.6h0M80.4 116.0h0"/>
<path stroke="#06A4FF" d="M103.3 113.1h0M102.3 123.6h0M103.1 113.1h0M102.0 127.1h0M103.0 125.1h0M106.1 115.9h0M103.6 127.6h0M97.6 129.4h0M101.1 129.1h0M98.9 132.8h0M96.2 133.6h0M99.8 130.4h0M100.0 125.7h0M104.7 119.6h0M101.4 118.4h0M105.1 122.2h0M98.5 131.5h0M102.4 120.4h0M102.4 109.5h0M99.1 132.1h0M101.1 113.0h0M99.6 125.4h0M103.7 118.4h0M98.7 134.1h0M104.4 121.3h0M102.6 118.7h0M99.5 125.8h0M96.6 132.4h0M101.5 129.2h0M103.2 109.4h0M105.9 109.0h0M99.5 131.7h0M103.0 112.0h0M105.3 120.2h0M98.4 130.9h0M101.5 122.1h0M101.8 128.2h0M98.4 131.2h0M103.0 118.1h0M102.0 121.0h0M102.3 127.7h0M100.9 121.5h0M101.3 107.0h0M103.2 122.7h0M97.4 133.8h0M102.4 112.6h0M101.8 111.2h0M104.1 107.6h0M103.5 114.8h0M102.5 115.7h0M99.2 132.9h0M102.1 124.0h0M105.0 109.7h0M103.0 109.1h0M103.9 122.8h0M100.0 123.6h0M98.9 132.9h0M103.6 112.1h0M100.8 126.9h0M102.7 118.8h0M105.6 115.5h0M102.3 123.0h0M100.3 128.1h0M103.3 125.3h0M103.9 117.9h0M101.2 125.9h0M102.5 111.6h0M103.1 116.0h0M97.7 130.3h0M97.8 133.8h0M101.6 107.7h0M102.9 107.5h0M99.0 128.0h0M100.3 106.9h0M103.2 110.2h0M102.0 120.6h0M102.3 116.9h0M99.1 134.9h0M97.6 130.0h0M95.7 130.8h0M103.7 123.6h0M102.5 116.1h0M102.1 113.0h0M100.3 115.9h0M102.5 129.9h0M104.0 109.0h0M101.0 131.9h0M102.8 113.7h0M103.0 127.7h0M101.4 123.2h0M104.4 119.0h0M102.6 120.4h0M109.0 119.9h0M105.9 119.7h0M107.6 119.2h0M103.5 119.5h0M107.3 120.6h0M104.7 121.0h0"/>
<path stroke="#A58AFF" d="M102.5 149.4h0M93.4 152.0h0M98.6 146.0h0M97.0 151.2h0M99.2 148.4h0M90.6 155.6h0M102.3 148.6h0M102.3 145.4h0M101.6 147.9h0M95.3 151.2h0M96.9 147.4h0M93.3 155.9h0M99.5 151.4h0M97.8 153.5h0M93.2 155.6h0M90.0 155.3h0M93.2 157.1h0M94.9 150.6h0M99.4 146.0h0M91.0 155.6h0M93.1 157.4h0M99.3 147.1h0M99.8 148.8h0M97.9 153.8h0M94.2 154.5h0M97.7 146.3h0M93.0 150.9h0M102.4 146.2h0M94.1 151.8h0M94.0 150.2h0M94.1 153.3h0M92.1 157.9h0M100.0 151.3h0M101.8 145.9h0M90.4 151.0h0M93.4 152.7h0M95.3 150.7h0M97.3 152.4h0M102.4 148.3h0M91.1 156.0h0M102.8 146.2h0M93.2 150.9h0M99.4 146.6h0M91.0 155.3h0M102.2 145.1h0M98.9 148.5h0M101.4 145.6h0M92.7 156.9h0M100.4 145.1h0M90.9 153.2h0M91.6 153.5h0M99.3 147.6h0M96.4 147.4h0M99.5 152.9h0M100.8 151.5h0M98.1 151.1h0M100.5 151.7h0M93.5 151.5h0M99.9 147.3h0M96.9 152.4h0M97.9 150.7h0M96.9 153.8h0M94.0 149.3h0M96.6 148.5h0M94.9 153.9h0M102.9 146.7h0M94.9 156.3h0M101.2 148.8h0M91.6 155.4h0M95.5 149.2h0M96.2 154.3h0M100.6 146.9h0M92.1 150.9h0M91.4 153.3h0M95.5 147.8h0M99.4 148.9h0M99.6 146.5h0M93.6 150.2h0M90.1 151.9h0M92.0 156.9h0M100.9 148.4h0M103.6 146.7h0M101.2 145.8h0M100.9 151.8h0M101.1 149.0h0M100.0 151.3h0M100.6 147.2h0M91.7 154.3h0M93.2 154.8h0M102.5 149.4h0M106.7 141.5h0M107.9 140.2h0M107.6 142.5h0M103.5 144.5h0M107.3 141.7h0M107.0 143.5h0M105.1 143.7h0M111.0 142.5h0M107.3 143.0h0M107.2 142.1h0M109.4 141.7h0M104.5 143.8h0"/>
<path stroke="#DF70F8" d="M126.2 240.5h0M97.2 235.2h0M93.8 222.5h0M122.8 242.7h0M110.3 245.7h0M115.4 244.0h0M92.0 224.0h0M106.7 244.6h0M92.5 227.2h0M114.0 246.1h0M110.5 245.6h0M116.4 246.2h0M109.0 245.7h0M116.7 244.9h0M90.4 217.6h0M93.4 220.1h0M98.9 238.5h0M94.2 220.1h0M102.1 242.7h0M122.9 242.6h0M125.4 241.7h0M92.8 224.6h0M95.3 228.4h0M125.8 242.7h0M104.3 244.9h0M110.1 245.4h0M89.4 217.7h0M93.1 223.7h0M118.8 245.4h0M102.6 243.6h0M102.6 243.5h0M111.1 245.7h0M96.9 239.1h0M96.4 237.1h0M128.9 240.9h0M92.5 220.5h0M103.7 245.4h0M93.4 222.5h0M104.3 242.3h0M113.0 247.4h0M107.1 244.7h0M102.3 244.0h0M97.5 237.1h0M98.4 239.1h0M127.6 239.9h0M115.6 245.9h0M118.8 244.7h0M113.0 244.5h0M94.0 227.5h0M93.9 227.1h0M94.5 226.0h0M89.5 219.5h0M123.0 245.2h0M126.6 242.8h0M107.3 246.1h0M100.7 238.8h0M121.8 245.3h0M109.4 245.8h0M116.8 245.3h0M102.6 243.3h0M107.3 244.6h0M105.2 243.6h0M127.1 241.2h0M127.5 243.0h0M110.8 244.7h0M100.1 241.3h0M92.4 223.4h0M93.2 226.1h0M123.0 241.7h0M104.4 245.5h0M123.8 244.0h0M100.1 239.6h0M95.0 229.9h0M119.6 244.1h0M91.6 218.8h0M98.7 238.7h0M102.5 246.4h0M97.0 236.0h0M127.0 242.5h0M104.9 243.8h0M93.5 227.5h0M115.9 244.1h0M124.3 241.4h0M104.3 242.9h0M93.5 223.6h0M93.6 226.5h0M127.5 240.6h0M98.7 240.1h0M92.4 219.5h0M94.4 228.5h0M108.8 245.4h0M113.3 245.3h0M106.1 243.5h0M89.8 218.3h0M97.3 235.5h0M128.3 240.4h0M95.4 235.6h0M117.7 243.6h0M102.6 240.6h0M93.0 222.9h0M93.0 229.1h0M99.7 240.5h0M126.8 242.3h0M101.9 241.8h0M92.9 222.2h0M94.6 225.5h0M122.5 243.9h0M100.7 241.5h0M128.8 240.9h0M117.7 245.6h0M96.0 235.0h0M94.3 229.7h0M95.4 233.7h0M110.9 245.3h0M123.4 244.7h0M91.8 219.3h0M101.0 241.7h0M93.8 230.1h0M114.4 244.9h0M95.3 232.2h0M91.4 221.1h0M101.0 240.7h0M127.0 242.0h0M94.5 230.6h0M94.6 226.9h0M103.2 242.2h0M116.6 244.3h0M110.6 245.5h0M126.5 242.6h0M92.9 224.2h0M115.0 243.6h0M110.8 246.4h0M126.1 240.5h0M127.1 240.5h0M118.3 244.7h0M124.8 242.7h0M91.0 221.5h0M110.3 244.7h0M125.5 240.6h0M106.9 243.7h0M92.7 229.1h0M99.2 241.0h0M93.8 223.2h0M94.8 230.9h0M121.8 242.3h0M118.7 243.7h0M99.7 239.1h0M96.4 236.2h0M117.0 245.6h0M113.0 244.9h0M92.6 228.7h0M116.8 245.1h0M94.7 235.2h0M95.9 234.2h0M115.9 245.4h0M124.0 242.2h0M99.0 239.7h0M102.4 244.0h0M103.0 243.2h0M108.5 245.5h0M113.4 245.1h0M120.9 243.0h0M90.0 218.5h0M104.3 244.1h0M102.7 243.2h0M88.8 218.8h0M89.8 220.6h0M92.8 219.9h0M110.2 244.5h0M120.3 244.1h0M108.7 246.6h0M124.1 242.0h0M92.7 222.9h0M124.3 241.7h0M117.8 246.5h0M97.7 237.8h0M102.8 243.2h0M103.7 243.4h0M105.1 244.0h0M107.4 244.0h0M114.4 244.3h0M124.1 243.7h0M97.9 236.3h0M120.2 244.0h0M95.0 231.4h0M109.5 246.4h0M92.3 225.2h0M114.2 245.2h0M97.3 239.6h0M105.2 244.4h0M91.6 221.5h0M100.1 240.6h0M90.6 218.8h0M109.3 246.3h0M94.3 226.0h0M104.9 244.2h0M111.6 244.0h0M108.2 244.9h0M93.3 220.9h0M115.7 244.3h0M125.0 241.0h0M92.7 229.5h0M109.1 247.2h0M99.4 240.2h0M100.4 239.8h0M94.1 229.3h0M112.0 245.3h0M95.0 231.4h0M125.1 242.0h0M105.4 245.1h0M94.6 237.9h0M94.0 223.4h0M93.6 229.0h0M94.2 232.5h0M111.0 245.9h0M90.6 218.5h0M93.2 222.5h0M98.5 240.0h0M97.1 236.3h0M126.5 238.8h0M98.5 239.0h0M107.5 244.5h0M122.8 243.6h0M93.8 225.6h0M93.0 220.0h0M91.4 216.6h0M92.1 220.5h0M89.8 216.5h0M91.4 218.3h0M89.8 220.6h0M90.4 218.7h0M89.7 220.1h0M92.7 218.5h0M90.3 220.5h0M90.9 218.4h0M90.0 216.5h0M90.0 220.4h0M91.7 219.9h0M90.7 217.0h0M92.6 220.3h0M90.6 219.3h0M92.4 219.0h0M114.4 201.8h0"/>
<path stroke="#FB61D7" d="M132.2 230.9h0M135.3 236.3h0M130.5 237.2h0M131.0 235.0h0M131.0 239.8h0M131.7 233.5h0M137.2 232.8h0M135.1 236.7h0M131.6 223.0h0M135.2 225.2h0M132.5 231.6h0M135.8 228.7h0M133.7 232.6h0M135.4 227.0h0M134.6 228.4h0M135.9 231.1h0M137.2 231.8h0M134.3 238.4h0M137.2 228.8h0M135.2 238.4h0M131.4 238.7h0M136.0 232.5h0M134.2 226.9h0M135.7 239.3h0M136.7 234.3h0M131.9 234.3h0M135.4 228.3h0M135.4 236.6h0M131.0 221.2h0M136.6 232.4h0M133.5 235.2h0M133.1 240.0h0M133.9 229.3h0M134.0 229.4h0M133.4 238.4h0M128.1 238.7h0M130.2 225.9h0M134.2 228.1h0M134.5 223.7h0M134.8 223.9h0M131.4 221.7h0M135.5 234.2h0M133.5 231.5h0M134.4 231.2h0M131.3 238.5h0M131.3 225.0h0M130.8 237.5h0M132.3 224.5h0M134.3 235.1h0M136.0 229.0h0M132.0 224.8h0M132.0 240.9h0M128.8 238.7h0M132.7 237.7h0M135.2 236.5h0M137.7 236.0h0M132.4 228.3h0M132.1 237.5h0M137.0 227.4h0M132.9 233.1h0M131.9 238.1h0M135.0 238.1h0M133.0 233.0h0M131.9 223.9h0M136.8 232.5h0M135.4 236.4h0M134.0 240.2h0M129.1 221.1h0M133.0 230.3h0M132.8 226.0h0M127.6 221.7h0M137.0 227.5h0M135.6 230.9h0M135.1 240.0h0M136.7 228.7h0M129.6 221.2h0M128.9 223.5h0M130.7 241.5h0M134.8 229.8h0M130.0 240.9h0M131.5 241.4h0M129.7 221.5h0M136.0 233.3h0M129.9 238.4h0M133.2 240.8h0M137.7 228.6h0M134.8 236.2h0M134.8 236.9h0M128.8 222.5h0M127.8 238.7h0M135.3 229.7h0M133.8 239.0h0M137.2 227.5h0M134.7 234.4h0M136.1 238.0h0M134.0 238.2h0M128.0 240.8h0M130.2 240.6h0M132.5 240.7h0M130.1 239.7h0M135.2 232.7h0M135.5 232.2h0M134.3 223.0h0M134.2 228.0h0M131.1 238.2h0M136.6 236.6h0M133.8 222.2h0M134.7 224.1h0M136.1 230.7h0M131.0 235.6h0M130.9 224.1h0M132.0 223.5h0M132.2 222.6h0M135.2 225.1h0M134.1 234.3h0M133.1 233.7h0M136.5 233.8h0M132.2 231.5h0M127.8 238.6h0M132.0 226.8h0M131.9 221.6h0M127.5 238.3h0M135.6 224.7h0M130.3 222.1h0M135.5 231.4h0M128.1 239.8h0"/>
<path stroke="#FF66A8" d="M145.4 195.5h0M146.2 195.7h0M152.1 194.8h0M152.9 195.0h0M158.8 195.5h0M165.2 188.8h0M165.2 190.0h0M168.9 196.5h0M168.1 196.9h0M163.0 200.5h0M164.0 199.5h0M201.2 139.5h0M228.8 140.9h0M235.0 139.8h0"/>
<path stroke="#99A800" d="M238.1 198.1h0M226.1 207.2h0M252.8 204.4h0M224.8 199.3h0M246.9 189.4h0M236.4 213.8h0M208.5 198.2h0M222.7 208.3h0M248.4 186.5h0M212.1 208.9h0M247.5 196.0h0M250.4 220.7h0M254.3 176.9h0M264.0 197.2h0M252.7 183.6h0M231.9 197.5h0M254.2 186.5h0M242.3 185.2h0M253.8 194.8h0M246.4 165.3h0M211.0 198.1h0M251.5 177.6h0M223.5 193.4h0M259.8 202.8h0M240.5 185.9h0M248.5 188.2h0M248.3 216.1h0M254.8 185.8h0M229.9 198.3h0M250.7 176.3h0M248.0 178.1h0M225.2 192.1h0M250.5 192.2h0M227.3 195.7h0M238.0 194.8h0M228.7 200.0h0M259.0 198.2h0M250.9 184.8h0M223.2 204.1h0M238.9 218.4h0M246.9 218.0h0M209.4 200.9h0M223.5 204.3h0M219.7 206.3h0M248.2 218.4h0M254.5 176.3h0M216.9 207.8h0M232.0 216.4h0M254.3 194.1h0M228.2 194.1h0M212.0 197.1h0M213.3 202.6h0M242.7 165.0h0M225.8 191.3h0M239.3 199.9h0M231.0 216.7h0M252.4 190.6h0M255.0 187.7h0M227.5 200.8h0M204.9 201.4h0M246.5 167.0h0M229.2 214.8h0M219.2 193.8h0M224.6 195.3h0M261.9 204.3h0M258.2 183.4h0M246.2 171.2h0M261.2 183.3h0M263.8 196.2h0M224.3 195.2h0M262.3 204.3h0M255.5 196.2h0M255.9 200.9h0M244.1 179.3h0M251.5 193.6h0M252.1 203.4h0M256.5 204.5h0M260.7 202.9h0M230.3 191.9h0M255.9 198.0h0M218.5 198.8h0M225.1 198.8h0M260.2 186.2h0M256.2 189.9h0M244.0 200.8h0M220.1 207.6h0M254.8 210.9h0M257.2 200.4h0M241.3 187.1h0M255.4 194.1h0M225.0 191.6h0M245.7 213.4h0M244.5 160.5h0M228.4 209.0h0M246.4 194.1h0M247.7 170.5h0M241.1 193.5h0M248.9 167.0h0M265.1 207.8h0M248.8 184.1h0M247.5 204.6h0M230.6 189.8h0M248.4 169.5h0M210.3 197.7h0M215.2 206.3h0M249.9 203.9h0M248.5 194.9h0M262.4 212.3h0M244.6 212.9h0M206.3 205.0h0M245.2 200.4h0M235.3 189.0h0M261.6 184.0h0M251.4 217.3h0M233.9 184.7h0M253.0 175.9h0M220.6 213.1h0M217.4 206.3h0M250.0 194.9h0M246.3 176.6h0M227.7 208.0h0M237.0 217.3h0M243.9 166.9h0M254.7 186.7h0M230.9 216.1h0M223.9 200.2h0M229.5 213.2h0M236.1 190.6h0M247.7 164.1h0M210.4 205.8h0M257.7 186.0h0M251.9 189.4h0M250.6 192.8h0M250.2 191.5h0M239.8 186.8h0M238.9 195.7h0M252.3 176.1h0M248.3 177.9h0M240.7 209.6h0M222.1 195.4h0M250.1 171.2h0M243.2 185.7h0M251.5 206.5h0M226.0 197.7h0M211.7 198.9h0M244.0 175.0h0M245.3 168.7h0M265.0 195.0h0M261.8 202.7h0M216.1 206.8h0M241.9 184.1h0M247.0 208.6h0M246.1 173.8h0M217.6 206.8h0M228.6 205.4h0M258.0 183.3h0M226.2 194.5h0M255.1 218.5h0M210.7 201.6h0M237.5 183.5h0M248.2 173.9h0M241.5 186.6h0M211.3 209.6h0M214.2 211.2h0M251.4 187.9h0M226.2 195.9h0M212.8 208.7h0M238.4 209.7h0M247.6 213.2h0M229.5 187.8h0M260.4 213.3h0M229.6 213.3h0M219.0 200.4h0M213.4 210.3h0M258.6 186.8h0M210.7 196.4h0M248.1 195.7h0M249.0 218.7h0M225.0 197.4h0M239.7 179.4h0M237.5 197.9h0M242.6 216.6h0M241.5 209.3h0M262.3 197.8h0M255.7 195.1h0M233.3 205.6h0M253.5 217.2h0M229.8 194.5h0M252.1 174.8h0M203.9 206.2h0M235.9 209.4h0M240.6 203.2h0M241.1 219.1h0M237.0 182.4h0M246.9 196.2h0M214.7 204.8h0M247.0 183.2h0M209.9 198.0h0M224.1 195.1h0M244.6 159.9h0M256.0 179.6h0M241.1 222.2h0M248.9 218.5h0M252.1 218.7h0M252.0 196.6h0M261.5 187.6h0M254.1 196.4h0M260.9 212.4h0M246.1 178.2h0M239.1 180.0h0M226.0 194.7h0M229.0 210.3h0M231.4 194.7h0M235.8 198.3h0M256.4 180.8h0M241.5 221.0h0M265.0 196.1h0M224.1 201.5h0M249.4 203.5h0M245.8 184.5h0M248.5 182.4h0M265.2 193.6h0M237.7 185.5h0M237.6 212.1h0M236.0 192.7h0M229.1 196.6h0M209.7 208.3h0M231.4 199.8h0M230.0 210.8h0M246.1 167.6h0M250.5 183.6h0M230.2 203.5h0M219.7 199.6h0M240.2 185.5h0M216.3 199.4h0M241.6 207.0h0M246.1 187.7h0M224.1 200.0h0M236.4 197.4h0M245.3 190.8h0M234.0 202.4h0M222.0 191.5h0M229.8 187.6h0M245.8 186.2h0M240.3 198.6h0M235.0 219.2h0M247.8 188.4h0M244.0 208.9h0M220.2 205.2h0M252.0 185.5h0M259.5 184.8h0M259.7 205.1h0M227.8 190.7h0M262.5 205.9h0M257.7 215.9h0M245.2 163.5h0M222.4 197.2h0M245.3 179.0h0M232.6 215.8h0M211.6 200.2h0M227.0 192.4h0M233.9 202.2h0M260.9 187.5h0M261.6 211.0h0M246.8 170.3h0M234.8 207.7h0M246.6 188.1h0M258.7 210.0h0M262.4 209.8h0M256.1 211.6h0M218.0 207.4h0M245.3 188.5h0M239.1 193.7h0M250.2 209.4h0M230.4 209.2h0M231.5 209.7h0M249.8 166.1h0M249.5 181.5h0M254.5 200.9h0M221.6 207.4h0M214.3 211.3h0M241.3 209.0h0M242.0 223.1h0M247.1 189.6h0M253.8 212.3h0M264.6 203.9h0M234.9 185.2h0M247.8 201.5h0M263.1 207.8h0M205.2 209.9h0M250.2 208.5h0M244.9 198.1h0M240.0 221.9h0M235.5 182.6h0M260.7 199.9h0M224.3 201.5h0M259.3 189.5h0M254.0 173.6h0M254.0 198.1h0M246.8 179.8h0M265.0 206.1h0M231.9 185.4h0M232.8 200.9h0M213.5 198.4h0M252.8 185.8h0M216.0 199.7h0M225.9 194.4h0M245.7 180.9h0M225.9 206.1h0M233.6 187.9h0M247.6 193.6h0M234.5 202.8h0M253.4 215.2h0M220.3 196.0h0M249.6 193.9h0M209.3 203.9h0M213.6 205.1h0M258.3 192.9h0M252.9 174.3h0M247.8 184.5h0M258.7 184.1h0M238.5 211.9h0M246.0 169.9h0M256.4 181.0h0M255.9 201.0h0M247.3 194.7h0M263.4 210.6h0M243.4 210.4h0M252.0 193.7h0M259.5 211.8h0M226.3 200.5h0M239.6 201.9h0M220.7 192.9h0M223.7 197.0h0M209.3 199.9h0M215.8 195.4h0M219.4 200.9h0M252.6 214.0h0M237.7 182.4h0M220.9 192.4h0M250.5 180.5h0M227.9 202.8h0M230.3 197.4h0M234.9 207.9h0M246.2 168.0h0M228.7 192.5h0M204.9 209.0h0M263.7 199.6h0M238.7 215.8h0M216.4 198.1h0M261.5 206.1h0M249.6 169.3h0M248.9 174.4h0M261.3 212.4h0M221.1 211.2h0M246.7 186.4h0M248.6 175.4h0M229.8 203.6h0M243.7 168.7h0M260.2 204.0h0M235.4 192.9h0M251.3 195.5h0M265.5 194.1h0M259.2 181.4h0M256.9 201.4h0M251.6 186.4h0M245.8 170.1h0M220.0 199.5h0M224.8 192.0h0M234.6 213.8h0M243.0 165.1h0M245.8 211.6h0M231.3 197.2h0M223.8 212.4h0M246.5 164.8h0M247.7 168.8h0M233.5 201.9h0M249.6 180.7h0M261.3 195.2h0M242.3 209.0h0M243.5 220.7h0M263.9 207.2h0M219.4 205.4h0M239.7 215.1h0M252.2 181.1h0M213.4 202.0h0M244.5 200.5h0M260.0 205.0h0M260.8 199.1h0M248.5 214.2h0M230.8 213.8h0M251.0 168.2h0M250.4 175.9h0M259.6 186.2h0M257.7 186.8h0M257.6 206.4h0M238.9 192.6h0M260.3 208.3h0M230.8 214.2h0M239.5 222.1h0M244.7 218.9h0M221.6 202.4h0M247.3 213.7h0M214.0 209.0h0M251.1 164.1h0M246.0 176.3h0M245.5 161.6h0M262.9 200.5h0M261.3 207.5h0M206.2 207.5h0M259.7 202.4h0M244.2 163.6h0M213.4 207.8h0M220.3 211.1h0M249.8 201.1h0M220.4 193.5h0M252.6 179.5h0M265.6 204.6h0M240.8 200.7h0M252.9 188.8h0M252.8 218.4h0M225.8 210.8h0M224.0 200.0h0M218.8 206.2h0M248.9 213.0h0M216.0 209.1h0M254.4 174.8h0M225.0 198.4h0M219.1 210.8h0M246.4 174.0h0M245.1 185.5h0M244.4 212.6h0M246.1 215.2h0M245.2 209.8h0M256.4 198.0h0M221.2 195.9h0M255.7 177.1h0M260.0 213.3h0M214.7 197.7h0M254.4 215.3h0M247.5 193.9h0M209.7 205.5h0M216.7 193.5h0M237.0 211.8h0M239.1 182.1h0M262.2 210.0h0M233.5 188.7h0M256.5 199.6h0M237.8 192.8h0M259.8 182.5h0M265.3 195.4h0M253.8 189.0h0M259.8 186.8h0M228.5 207.5h0M233.3 187.0h0M255.6 187.1h0M252.1 182.2h0M242.6 179.2h0M209.7 209.9h0M252.3 205.1h0M234.6 213.3h0M252.9 197.7h0M243.0 170.7h0M228.1 204.8h0M247.2 215.4h0M264.3 196.7h0M251.9 172.9h0M235.5 185.5h0M249.2 200.5h0M246.7 200.8h0M261.3 194.0h0M228.5 211.4h0M210.3 198.3h0M243.8 186.0h0M257.5 187.8h0M253.4 185.1h0M243.4 206.2h0M264.0 207.4h0M256.1 216.8h0M230.4 186.4h0M233.4 217.9h0M244.4 220.5h0M257.8 191.5h0M239.5 213.9h0M251.3 194.4h0M238.0 196.6h0M248.1 217.7h0M224.5 211.6h0M260.5 194.7h0M265.5 194.6h0M263.8 204.2h0M211.8 210.7h0M245.0 178.9h0M212.8 200.9h0M248.2 219.4h0M259.6 199.2h0M234.4 207.4h0M252.6 188.5h0M247.0 183.4h0M232.7 214.2h0M217.6 198.2h0M262.7 189.7h0M247.9 174.2h0M261.8 194.6h0M233.4 212.7h0M254.2 217.4h0M235.4 219.8h0M241.8 215.8h0M261.5 196.4h0M253.5 211.6h0M230.9 204.1h0M246.9 188.0h0M235.9 211.8h0M237.8 214.5h0M218.8 211.4h0M240.4 209.6h0M240.1 199.2h0M254.7 184.3h0M248.3 195.1h0M248.6 218.6h0M220.3 196.7h0M243.0 198.4h0M244.5 221.2h0M244.3 203.1h0M220.9 203.6h0M261.2 189.9h0M227.9 203.8h0M258.6 203.9h0M262.1 210.0h0M245.7 173.2h0M225.0 212.7h0M231.1 214.4h0M233.8 183.7h0M207.7 207.3h0M248.3 223.3h0M205.6 204.9h0M214.4 202.1h0M233.5 194.6h0M244.2 202.7h0M246.5 222.1h0M240.3 220.6h0M232.6 195.7h0M247.4 214.9h0M241.3 216.5h0M211.8 210.5h0M229.1 202.0h0M262.8 187.4h0M239.6 186.2h0M248.9 211.1h0M246.5 188.1h0M240.2 185.7h0M236.8 191.4h0M232.0 189.3h0M234.5 190.2h0M209.0 198.3h0M216.5 193.9h0M248.1 160.7h0M260.0 204.1h0M216.8 212.0h0M251.1 191.1h0M260.9 182.7h0M237.3 211.0h0M262.4 192.3h0M239.3 197.3h0M245.3 222.3h0M263.1 189.1h0M239.1 201.4h0M242.1 216.3h0M246.4 169.9h0M243.4 179.1h0M209.8 207.7h0M243.3 194.7h0M239.3 199.5h0M227.5 208.6h0M226.8 211.0h0M250.4 173.1h0M215.9 210.3h0M259.4 205.5h0M228.1 213.7h0M245.4 170.9h0M228.7 207.4h0M231.8 214.6h0M216.0 195.6h0M235.1 217.8h0M223.0 193.6h0M262.9 190.8h0M242.0 182.4h0M224.5 205.9h0M227.9 193.8h0M217.0 200.2h0M251.0 211.4h0M247.6 189.8h0M219.4 205.0h0M209.8 198.7h0M248.1 209.2h0M243.4 168.1h0M243.0 176.6h0M238.6 209.0h0M224.5 201.5h0M241.1 218.1h0M252.4 202.8h0M237.4 216.9h0M241.2 204.0h0M214.7 196.9h0M242.1 166.3h0M234.1 193.7h0M222.7 203.0h0M246.1 176.4h0M263.7 194.2h0M203.6 204.8h0M253.5 184.5h0M259.7 209.0h0M237.2 193.5h0M245.5 169.5h0M246.3 164.3h0M265.0 204.2h0M262.7 210.5h0M223.3 211.8h0M261.6 202.0h0M266.5 200.9h0M242.4 168.0h0M233.0 217.4h0M238.3 200.8h0M205.8 208.3h0M257.1 184.2h0M221.6 193.6h0M249.2 210.5h0M265.7 201.8h0M240.1 197.8h0M261.5 196.2h0M264.3 190.5h0M223.2 190.8h0M209.7 197.5h0M221.5 194.1h0M229.7 196.4h0M206.6 199.2h0M238.9 219.8h0M259.8 199.4h0M231.6 205.2h0M226.3 195.4h0M241.2 184.5h0M224.9 201.9h0M231.1 188.1h0M242.7 216.2h0M214.9 201.5h0M245.1 185.5h0M262.1 202.0h0M244.4 182.3h0M259.4 191.2h0M231.6 204.2h0M265.3 207.0h0M230.7 187.8h0M223.8 211.6h0M248.4 219.7h0M239.4 182.9h0M222.8 212.6h0M247.0 173.1h0M250.2 170.7h0M250.9 164.5h0M214.1 207.5h0M248.2 189.4h0M227.2 207.0h0M242.0 201.7h0M256.5 214.0h0M204.7 205.0h0M244.0 181.1h0M232.6 195.0h0M229.5 188.3h0M249.8 214.9h0M251.6 206.9h0M261.3 209.8h0M237.0 209.5h0M253.7 196.5h0M251.9 195.1h0M239.8 215.6h0M237.9 190.9h0M234.5 191.8h0M206.4 202.0h0M215.3 204.3h0M243.2 173.0h0M232.1 187.0h0M206.4 205.2h0M264.9 194.6h0M228.1 192.8h0M211.6 207.2h0M246.9 166.5h0M247.5 160.8h0M203.5 204.7h0M237.3 216.4h0M246.7 178.7h0M244.8 194.1h0M240.8 219.2h0M239.0 211.7h0M248.8 190.1h0M259.3 207.9h0M248.9 170.6h0M255.8 205.7h0M247.1 183.5h0M219.1 207.0h0M256.1 207.5h0M223.2 197.0h0M222.6 195.0h0M252.5 165.7h0M217.4 207.9h0M254.4 199.4h0M262.5 187.2h0M252.8 180.6h0M248.3 197.9h0M258.2 201.4h0M257.2 200.8h0M251.1 178.7h0M245.2 201.9h0M243.9 200.4h0M216.1 205.4h0M250.1 196.3h0M236.5 194.2h0M237.0 187.0h0M254.5 219.0h0M236.9 212.4h0M245.7 189.8h0M258.5 191.2h0M205.7 203.2h0M211.4 201.6h0M235.7 187.5h0M250.7 192.1h0M238.3 202.6h0M243.2 207.7h0M225.4 209.0h0M210.4 200.0h0M255.0 212.6h0M253.9 197.4h0M258.5 207.1h0M208.6 209.2h0M248.4 162.5h0M232.3 193.5h0M238.1 196.4h0M230.1 206.0h0M250.9 170.2h0M207.1 202.1h0M246.0 221.9h0M206.7 207.9h0M249.4 218.0h0M243.1 169.0h0M244.5 168.1h0M245.4 203.7h0M240.0 184.5h0M237.5 194.7h0M261.5 209.8h0M240.7 184.2h0M238.6 220.5h0M251.8 197.8h0M220.7 203.1h0M254.3 173.1h0M240.9 216.9h0M249.1 169.5h0M239.5 196.9h0M232.3 195.4h0M240.0 185.7h0M234.5 218.5h0M232.4 207.6h0M252.9 194.9h0M259.9 199.4h0M243.8 187.2h0M256.2 188.7h0M213.9 200.1h0M246.3 189.7h0M244.4 186.8h0M239.4 181.7h0M242.5 222.5h0M232.3 186.5h0M255.3 214.4h0M254.1 183.1h0M261.3 191.0h0M257.6 216.9h0M233.6 189.6h0M261.6 211.3h0M209.3 201.4h0M258.5 190.3h0M229.9 201.2h0M246.2 223.6h0M209.6 202.5h0M247.0 168.3h0M226.4 199.6h0M238.4 198.7h0M237.9 198.1h0M246.3 202.0h0M239.4 212.9h0M235.3 212.2h0M237.3 198.2h0M257.1 189.1h0M260.3 205.1h0M228.2 199.3h0M244.0 167.3h0M234.2 214.2h0M245.6 175.3h0M233.8 206.7h0M243.2 172.5h0M252.5 213.2h0M226.8 206.2h0M203.1 204.4h0M253.0 188.9h0M247.9 197.4h0M247.7 218.6h0M242.8 208.5h0M243.3 169.2h0M218.8 197.1h0M250.9 186.7h0M247.1 181.3h0M229.0 197.0h0M202.8 206.8h0M246.8 184.1h0M230.8 202.2h0M246.2 180.9h0M214.9 201.8h0M250.7 207.2h0M266.3 198.7h0M254.6 209.4h0M204.9 209.0h0M243.5 176.9h0M221.9 210.9h0M257.1 214.1h0M249.2 194.7h0M264.3 196.8h0M243.3 173.4h0M204.3 205.1h0M248.3 171.4h0M258.3 196.1h0M209.9 204.7h0M248.8 196.3h0M263.8 190.3h0M244.2 163.4h0M230.0 192.6h0M209.7 204.2h0M223.5 211.8h0M249.5 183.9h0M213.1 208.0h0M229.3 195.0h0M247.0 172.8h0M255.3 198.9h0M246.4 202.8h0M226.4 211.8h0M260.5 193.0h0M265.4 201.7h0M249.7 181.9h0M245.8 185.7h0M250.2 170.0h0M215.1 201.1h0M232.8 216.4h0M255.9 208.3h0M225.1 192.9h0M220.7 195.6h0M247.3 201.4h0M246.7 176.4h0M243.2 188.4h0M216.0 210.2h0M257.2 183.8h0M254.0 179.1h0M260.9 192.9h0M240.4 210.8h0M236.1 191.3h0M248.2 190.2h0M264.9 197.7h0M239.9 192.6h0M242.9 203.8h0M253.7 205.8h0M255.2 181.5h0M253.6 198.1h0M242.3 215.1h0M251.3 204.6h0M222.8 201.7h0M204.4 202.1h0M220.2 195.0h0M248.6 220.6h0M257.6 197.7h0M261.6 205.7h0M263.3 207.0h0M225.7 200.2h0M251.8 181.6h0M212.4 210.9h0M222.2 204.9h0M230.0 205.4h0M245.4 176.3h0M234.3 217.0h0M247.3 187.8h0M230.7 198.3h0M241.2 220.1h0M204.5 208.7h0M248.6 209.6h0M252.2 168.8h0M230.5 194.5h0M218.5 201.6h0M239.9 220.8h0M226.4 214.5h0M255.3 216.0h0M253.2 171.2h0M247.0 164.6h0M245.9 174.0h0M256.5 213.9h0M232.4 206.4h0M244.1 199.3h0M245.4 187.2h0M221.0 194.4h0M208.1 204.8h0M225.2 206.6h0M205.3 206.1h0M228.3 207.4h0M238.3 185.1h0M265.0 206.5h0M255.5 184.4h0M245.2 167.1h0M234.2 185.8h0M242.3 197.9h0M231.3 209.6h0M248.9 222.7h0M235.5 197.6h0M252.1 174.5h0M247.1 207.9h0M253.9 172.7h0M258.9 200.9h0M263.2 195.5h0M213.0 195.3h0M245.4 184.6h0M217.3 205.1h0M210.1 204.5h0M248.6 217.7h0M226.2 206.9h0M242.6 178.2h0M229.0 186.0h0M237.4 202.6h0M216.3 203.0h0M228.5 197.1h0M228.6 192.4h0M256.9 178.7h0M253.3 187.0h0M245.5 179.2h0M210.7 197.1h0M214.6 208.3h0M261.5 193.3h0M205.6 205.5h0M247.5 204.5h0M255.4 194.9h0M247.5 167.8h0M243.8 182.6h0M250.4 183.7h0M257.9 180.8h0M236.0 196.7h0M235.9 188.4h0M233.4 202.9h0M247.6 169.6h0M261.8 186.3h0M248.4 165.3h0M243.7 188.5h0M211.7 199.1h0M242.6 185.9h0M232.7 200.5h0M240.6 199.7h0M207.1 206.5h0M242.2 212.0h0M205.0 208.9h0M253.5 182.6h0M247.0 221.7h0M230.8 186.2h0M226.9 198.8h0M211.7 209.2h0M258.4 194.8h0M261.7 208.0h0M244.5 209.6h0M263.7 189.2h0M248.7 213.0h0M252.4 200.9h0M263.8 191.0h0M258.3 201.0h0M238.7 214.7h0M233.8 212.4h0M214.3 209.9h0M232.2 205.7h0M236.0 214.3h0M247.0 184.4h0M235.9 184.8h0M218.5 211.8h0M246.6 175.6h0M246.7 219.1h0M255.2 196.5h0M241.9 179.3h0M209.5 200.4h0M228.5 190.0h0M258.5 207.7h0M254.6 210.7h0M249.4 215.6h0M237.1 216.9h0M255.2 210.8h0M216.7 196.3h0M230.6 207.2h0M251.4 204.5h0M223.4 192.3h0M260.3 214.3h0M251.3 207.2h0M260.9 185.6h0M228.1 209.1h0M238.0 201.5h0M236.9 189.1h0M260.8 191.0h0M247.5 222.7h0M250.6 174.9h0M246.6 173.1h0M223.8 211.0h0M233.4 194.5h0M262.2 188.5h0M247.0 188.2h0M214.5 202.1h0M264.7 198.2h0M244.5 198.5h0M241.4 219.5h0M258.5 191.1h0M221.3 197.5h0M233.2 198.9h0M226.8 205.4h0M206.9 208.7h0M235.2 194.4h0M246.4 208.8h0M252.4 189.4h0M259.8 213.1h0M234.4 214.3h0M241.2 189.7h0M242.5 215.2h0M233.7 191.7h0M247.2 172.8h0M240.6 192.0h0M221.5 191.7h0M213.8 201.1h0M245.5 175.4h0M254.7 190.5h0M219.5 197.7h0M229.1 188.6h0M246.3 199.2h0M232.7 214.7h0M259.1 186.0h0M256.7 195.9h0M262.0 186.7h0M253.6 217.4h0M262.8 206.8h0M263.0 211.5h0M250.2 163.4h0M244.1 204.1h0M253.5 186.6h0M222.7 198.2h0M248.4 187.4h0M248.4 196.6h0M254.6 206.6h0M230.6 200.5h0M235.7 202.4h0M242.3 187.2h0M256.1 194.9h0M247.2 212.4h0M247.2 216.7h0M231.6 204.5h0M259.4 191.1h0M255.2 177.7h0M252.7 203.1h0M234.2 209.1h0M251.1 203.7h0M247.6 204.3h0M221.8 191.9h0M222.1 193.1h0M236.3 185.8h0M253.7 192.4h0M224.8 214.1h0M240.9 208.2h0M235.0 185.7h0M248.7 169.9h0M258.0 210.2h0M227.9 210.3h0M237.3 201.8h0M217.7 209.4h0M252.6 176.4h0M251.7 214.3h0M213.0 206.5h0M225.0 209.8h0M243.5 184.4h0M246.3 211.9h0M232.5 205.3h0M237.2 188.6h0M234.8 213.5h0M209.7 206.0h0M230.9 198.6h0M245.8 168.1h0M257.0 183.7h0M242.4 183.0h0M249.3 179.8h0M229.4 194.0h0M264.6 203.0h0M244.0 218.5h0M243.6 164.5h0M251.1 187.6h0M227.1 195.7h0M231.0 208.7h0M225.2 192.8h0M220.2 204.1h0M265.1 201.0h0M264.3 194.1h0M238.0 213.3h0M262.7 209.9h0M224.5 197.7h0M239.2 179.9h0M263.3 198.3h0M248.6 162.6h0M258.1 208.6h0M263.4 207.8h0M207.7 201.3h0M252.4 178.6h0M239.7 215.3h0M243.3 212.4h0M216.7 209.2h0M239.4 195.7h0M248.0 214.5h0M253.7 187.4h0M219.2 209.4h0M251.6 212.7h0M204.7 199.7h0M210.9 209.6h0M203.6 204.1h0M232.9 193.0h0M257.1 178.0h0M226.0 198.1h0M246.6 214.8h0M218.6 198.4h0M250.4 181.8h0M242.8 186.1h0M266.1 205.3h0M253.7 200.2h0M238.0 217.9h0M245.6 201.4h0M262.7 189.1h0M248.9 190.0h0M214.9 203.9h0M251.2 213.2h0M253.6 206.6h0M222.8 196.7h0M255.5 175.6h0M233.5 201.5h0M253.2 219.7h0M236.2 191.3h0M239.2 198.5h0M249.5 219.9h0M222.8 209.3h0M257.2 200.1h0M235.0 196.9h0M254.0 175.1h0M243.0 206.3h0M238.5 182.7h0M235.3 202.7h0M230.5 207.1h0M250.6 208.0h0M225.3 207.8h0M256.1 184.9h0M238.6 181.0h0M214.7 204.0h0M206.2 201.5h0M242.0 184.9h0M253.2 184.8h0M252.6 199.5h0M223.2 202.1h0M244.2 204.3h0M247.6 201.3h0M224.5 211.5h0M256.4 210.6h0M240.1 186.5h0M238.2 191.9h0M239.0 180.4h0M254.9 193.2h0M217.5 197.4h0M252.5 191.8h0M223.2 194.7h0M246.8 171.5h0M259.5 186.1h0M229.3 193.1h0M251.3 170.8h0M241.8 177.8h0M243.4 192.5h0M247.6 211.6h0M235.4 184.2h0M230.5 194.7h0M251.3 215.6h0M240.0 193.7h0M214.6 209.4h0M245.6 168.5h0M239.7 215.9h0M257.0 184.0h0M225.9 193.9h0M257.2 217.2h0M219.2 198.4h0M255.5 211.5h0M231.6 185.7h0M211.3 211.0h0M251.2 173.8h0M245.4 217.1h0M223.2 205.0h0M252.0 182.1h0M210.4 203.2h0M246.5 198.9h0M260.8 183.6h0M235.2 188.8h0M257.5 181.0h0M255.4 207.5h0M253.2 204.3h0M223.7 212.6h0M257.4 214.8h0M249.6 206.4h0M258.2 194.9h0M259.3 211.7h0M229.9 201.8h0M233.7 190.5h0M233.8 205.9h0M214.2 210.9h0M260.2 207.3h0M249.3 210.8h0M236.0 214.2h0M213.5 204.8h0M248.1 219.0h0M229.0 189.4h0M249.8 208.0h0M264.9 193.7h0M242.0 193.8h0M235.1 188.3h0M266.0 197.2h0M231.4 189.3h0M223.9 196.9h0M229.1 202.3h0M238.3 193.9h0M250.1 180.7h0M223.7 201.3h0M247.8 213.2h0M263.9 195.5h0M205.3 202.5h0M225.2 198.7h0M251.6 182.8h0M219.6 201.8h0M222.3 191.7h0M260.2 214.7h0M217.5 209.8h0M246.9 170.4h0M253.3 215.3h0M254.9 182.1h0M255.1 176.5h0M255.2 208.9h0M236.6 194.3h0M221.2 197.5h0M205.3 206.2h0M263.9 189.1h0M232.2 197.4h0M246.9 207.7h0M246.8 167.9h0M235.0 217.0h0M252.6 203.0h0M263.3 184.4h0M225.7 215.1h0M228.9 211.0h0M215.7 194.6h0M250.8 206.0h0M247.1 165.5h0M255.2 196.1h0M229.1 215.0h0M235.6 190.8h0M243.3 193.0h0M261.0 187.0h0M234.7 219.0h0M228.0 214.6h0M206.7 205.3h0M259.9 210.7h0M235.9 217.5h0M248.3 199.9h0M246.1 208.9h0M217.1 199.9h0M253.8 175.2h0M243.6 203.1h0M243.2 179.3h0M232.5 201.7h0M244.5 201.6h0M256.9 197.9h0M245.9 222.5h0M240.1 215.9h0M244.7 181.6h0M248.1 177.2h0M252.4 175.6h0M251.0 194.7h0M242.8 165.9h0M242.9 210.7h0M246.5 182.2h0M205.9 203.3h0M216.7 205.0h0M231.7 195.1h0M243.1 167.8h0M250.7 217.6h0M242.4 179.4h0M243.8 191.8h0M250.0 177.9h0M209.7 202.6h0M231.6 194.9h0M261.0 209.5h0M253.0 197.0h0M215.0 201.6h0M243.4 166.5h0M221.7 205.9h0M250.0 187.5h0M255.6 207.2h0M235.3 196.2h0M229.2 196.2h0M238.4 180.3h0M243.0 212.5h0M217.0 197.6h0M250.3 168.4h0M220.5 192.5h0M215.0 197.1h0M246.1 200.9h0M252.4 199.8h0M236.3 185.0h0M250.2 170.3h0M250.3 209.6h0M261.8 193.1h0M250.5 210.6h0M254.9 198.7h0M260.0 207.6h0M253.5 204.5h0M221.0 203.8h0M257.7 195.4h0M234.1 189.9h0M238.7 210.3h0M265.8 201.2h0M247.8 189.3h0M233.8 196.5h0M228.5 197.9h0M229.0 191.8h0M233.6 213.9h0M260.0 197.3h0M251.2 179.2h0M211.3 208.9h0M261.4 201.0h0M252.0 196.6h0M250.9 221.6h0M245.1 212.0h0M246.0 161.4h0M244.8 186.0h0M254.5 180.6h0M234.7 214.0h0M251.8 195.5h0M249.2 177.1h0M251.6 183.2h0M213.5 211.5h0M240.4 184.7h0M235.7 217.9h0M233.3 196.0h0M251.2 166.5h0M246.5 200.0h0M250.5 212.4h0M262.2 185.2h0M215.7 193.5h0M254.4 189.0h0M256.8 188.5h0M247.7 175.0h0M235.4 190.0h0M265.5 199.2h0M223.3 213.6h0M251.5 206.5h0M255.0 183.7h0M248.8 204.3h0M238.8 199.3h0M232.2 187.4h0M233.0 198.8h0M256.9 181.4h0M238.2 184.8h0M213.4 205.0h0M250.4 187.7h0M262.4 201.3h0M249.7 211.3h0M253.6 185.3h0M246.3 173.3h0M262.1 207.6h0M262.1 212.4h0M248.4 166.6h0M228.7 202.8h0M245.9 216.4h0M253.5 202.4h0M244.1 178.6h0M220.2 208.6h0M251.4 218.3h0M244.1 200.1h0M257.9 203.1h0M249.4 215.6h0M256.3 191.6h0M229.5 191.8h0M240.6 208.1h0M247.8 166.4h0M252.1 177.5h0M249.9 174.5h0M232.6 194.5h0M233.6 190.2h0M261.7 184.6h0M250.4 169.8h0M250.3 169.7h0M265.9 194.3h0M253.3 206.3h0M243.3 214.3h0M249.8 205.4h0M221.1 194.1h0M245.4 198.3h0M264.3 202.4h0M250.9 218.6h0M214.8 200.3h0M220.0 201.3h0M239.5 188.1h0M249.5 166.6h0M254.7 209.6h0M243.1 192.7h0M224.5 214.3h0M235.7 182.3h0M258.6 205.5h0M223.0 201.5h0M244.0 188.2h0M236.4 189.1h0M228.7 196.6h0M229.1 209.9h0M264.5 205.5h0M217.5 207.0h0M237.8 202.6h0M242.3 212.0h0M226.2 201.5h0M221.4 198.2h0M241.3 210.8h0M253.1 187.5h0M261.9 202.6h0M256.6 208.6h0M238.5 187.9h0M260.8 205.6h0M247.8 161.8h0M256.8 195.2h0M243.9 200.4h0M253.0 213.1h0M244.3 162.8h0M254.0 176.3h0M206.9 201.0h0M234.0 199.1h0M252.2 195.4h0M227.0 214.5h0M230.4 186.6h0M261.6 210.6h0M245.2 194.7h0M225.2 197.8h0M255.2 195.7h0M251.4 200.3h0M210.7 203.8h0M214.5 204.5h0M253.4 204.4h0M207.2 210.6h0M243.7 182.2h0M238.8 191.9h0M219.2 194.2h0M202.8 205.9h0M230.4 197.9h0M246.4 209.4h0M223.5 208.1h0M225.5 209.8h0M235.0 196.6h0M206.3 209.8h0M211.1 209.8h0M247.7 180.9h0M222.9 204.8h0M242.3 189.7h0M242.3 204.5h0M239.4 210.3h0M232.2 217.3h0M213.1 196.5h0M220.7 194.6h0M251.5 180.9h0M238.5 197.5h0M216.7 194.0h0M250.6 181.1h0M241.7 181.7h0M251.5 196.7h0M232.8 190.0h0M215.5 193.5h0M255.3 179.3h0M265.7 196.6h0M250.7 203.4h0M221.0 204.4h0M241.4 178.3h0M249.2 205.0h0M258.1 204.1h0M208.1 210.0h0M244.7 167.9h0M258.2 191.5h0M249.3 219.2h0M257.6 199.2h0M216.2 204.2h0M247.6 213.0h0M234.9 215.1h0M245.0 211.9h0M227.5 208.5h0M253.7 210.5h0M251.6 197.8h0M223.9 206.3h0M206.8 207.3h0M229.3 208.7h0M240.2 182.8h0M222.7 192.1h0M243.4 172.3h0M261.6 193.7h0M247.6 221.8h0M243.6 186.1h0M213.2 201.7h0M248.9 214.7h0M258.4 195.5h0M258.7 182.5h0M255.5 187.7h0M253.4 200.6h0M245.5 212.5h0M219.2 194.1h0M258.6 215.1h0M254.5 206.6h0M245.0 213.3h0M234.1 203.9h0M231.7 197.2h0M258.5 195.3h0M224.0 193.1h0M250.5 220.5h0M245.9 220.3h0M231.6 201.7h0M226.9 207.2h0M223.0 196.9h0M253.9 202.2h0M252.3 203.3h0M260.1 184.9h0M216.3 209.5h0M225.1 197.6h0M222.6 199.6h0M225.1 197.7h0M254.0 191.5h0M249.6 185.3h0M226.4 191.1h0M233.9 210.6h0M253.4 185.5h0M251.9 198.1h0M259.3 200.9h0M235.0 218.2h0M265.5 197.2h0M246.2 193.5h0M231.3 196.9h0M227.2 192.0h0M218.9 202.0h0M223.9 192.5h0M243.9 191.7h0M223.1 203.4h0M224.4 213.6h0M235.7 183.1h0M263.1 199.6h0M247.8 187.3h0M243.5 212.8h0M228.4 211.5h0M235.1 215.4h0M235.1 184.7h0M210.1 199.0h0M259.2 194.9h0M224.1 191.8h0M252.4 186.1h0M238.6 192.2h0M249.7 193.5h0M237.4 192.8h0M225.5 201.1h0M219.0 206.4h0M253.6 194.1h0M261.6 186.0h0M226.6 208.9h0M252.1 187.4h0M231.0 198.8h0M241.7 184.1h0M245.8 188.3h0M224.4 207.2h0M243.6 184.7h0M262.3 206.6h0M254.1 212.6h0M219.2 211.9h0M233.1 203.1h0M246.0 211.1h0M245.0 175.3h0M257.4 197.3h0M246.7 203.9h0M261.5 212.8h0M218.7 207.7h0M225.0 208.1h0M238.2 196.7h0M248.9 180.9h0M243.5 195.7h0M233.3 193.0h0M254.8 185.8h0M251.7 197.6h0M259.8 195.8h0M229.2 196.3h0M230.3 191.4h0M227.7 213.1h0M234.5 219.2h0M245.8 220.9h0M255.1 195.2h0M206.8 209.7h0M234.8 183.4h0M248.1 180.3h0M204.5 204.6h0M262.1 211.0h0M225.2 194.2h0M217.8 201.5h0M260.0 192.5h0M263.3 206.4h0M260.1 193.4h0M251.3 209.8h0M245.4 174.7h0M219.6 193.3h0M220.3 202.6h0M258.5 189.3h0M221.4 201.8h0M259.6 212.2h0M251.7 178.5h0M248.9 160.9h0M255.2 178.2h0M254.8 208.3h0M253.5 203.7h0M234.0 201.7h0M258.4 204.2h0M238.1 193.7h0M230.1 215.4h0M249.9 209.2h0M212.9 206.1h0M231.4 216.7h0M261.4 198.8h0M226.1 193.9h0M249.3 161.8h0M234.1 201.4h0M253.0 206.4h0M243.0 201.2h0M209.3 205.6h0M213.2 197.0h0M262.1 212.0h0M246.0 222.8h0M220.8 206.3h0M255.6 206.6h0M253.1 216.2h0M231.6 187.4h0M253.4 191.5h0M218.0 199.2h0M230.5 208.7h0M258.5 210.7h0M247.8 173.5h0M219.6 203.9h0M245.1 200.5h0M255.4 184.8h0M221.7 191.6h0M204.5 205.4h0M222.7 204.1h0M237.3 196.0h0M227.6 192.1h0M253.0 195.8h0M232.4 185.5h0M240.6 220.1h0M216.0 211.5h0M249.3 207.2h0M245.5 160.5h0M226.2 191.3h0M242.7 188.8h0M222.9 190.9h0M246.4 174.8h0M221.3 206.4h0M244.5 179.4h0M220.6 205.7h0M161.0 226.5h0M243.8 155.8h0"/>
<path stroke="#53B400" d="M431.8 60.6h0M430.3 72.9h0M427.1 61.6h0M429.9 63.0h0M429.7 61.0h0M425.2 67.6h0M423.8 60.6h0M424.5 61.4h0M434.5 65.9h0M428.9 62.4h0M429.6 70.7h0M427.4 58.8h0M429.0 73.5h0M427.8 61.5h0M432.5 62.2h0M425.4 64.6h0M428.3 57.9h0M427.4 58.7h0M424.3 59.7h0M423.2 66.4h0M425.0 60.0h0M423.1 60.8h0M424.5 67.9h0M434.2 61.6h0M426.1 65.6h0M428.0 71.0h0M430.6 63.6h0M428.5 70.6h0M434.1 61.8h0M428.7 73.3h0M433.4 61.9h0M427.8 66.9h0M431.7 59.4h0M430.0 57.0h0M425.1 65.5h0M427.6 69.0h0M424.1 65.9h0M428.2 59.9h0M435.1 62.7h0M430.1 67.2h0M432.4 65.9h0M429.1 73.0h0M429.2 69.1h0M429.8 73.5h0M423.3 61.5h0M426.3 60.9h0M428.7 65.5h0M427.4 64.7h0M426.6 58.0h0M434.6 63.7h0M431.5 61.8h0M424.0 60.4h0M430.4 68.9h0M425.0 59.7h0M428.5 71.9h0M423.7 58.7h0M433.8 60.4h0M426.0 64.7h0M423.8 67.0h0M432.0 65.8h0M427.6 57.1h0M433.1 61.5h0M430.0 63.4h0M430.1 67.6h0M426.3 64.3h0M427.1 62.0h0M429.8 65.2h0M428.0 61.9h0M431.2 58.3h0M424.8 63.2h0M425.0 58.2h0M433.2 65.4h0M424.4 65.8h0M428.4 60.2h0M425.7 57.3h0M429.8 69.2h0M425.6 61.4h0M430.4 61.4h0M427.3 61.0h0M433.2 62.1h0M435.3 61.9h0M433.4 62.2h0M427.1 64.7h0M425.4 67.7h0M425.6 64.7h0M425.3 68.1h0M428.1 62.7h0M435.3 62.5h0M423.4 65.2h0M428.1 65.3h0M425.7 63.5h0M426.8 68.2h0M428.0 70.0h0M433.4 60.2h0M433.6 62.8h0M429.3 63.4h0M424.3 64.1h0M435.9 62.6h0M436.1 64.5h0M433.8 65.2h0M432.8 59.5h0M427.5 59.5h0M427.6 58.2h0M435.1 64.2h0M428.7 67.5h0M426.0 56.9h0M434.9 66.2h0M423.7 61.9h0M429.3 72.2h0M430.6 64.8h0M427.6 59.8h0M429.9 58.8h0M425.7 68.5h0M428.6 59.6h0M430.2 65.1h0M425.5 65.4h0M430.3 62.3h0M435.4 64.9h0M428.0 66.5h0M425.9 67.7h0M424.3 66.3h0M429.7 68.8h0M425.6 62.3h0M423.8 67.5h0M427.9 59.2h0M431.2 63.5h0M429.9 60.3h0M429.8 57.8h0M424.7 65.3h0M431.4 58.4h0M429.3 66.5h0M429.9 61.6h0M425.4 61.9h0M424.6 60.1h0M422.7 63.6h0M430.2 68.5h0M425.3 67.6h0M430.0 73.5h0M428.0 68.1h0M433.2 63.0h0M429.1 66.5h0M424.2 66.2h0M428.5 68.4h0M423.5 61.6h0M429.9 70.6h0M435.6 63.6h0M434.2 63.0h0M425.9 65.7h0M429.4 58.8h0M424.8 67.7h0M429.9 60.2h0M434.9 61.3h0M426.1 64.5h0M428.0 62.9h0M431.1 58.0h0M429.9 63.7h0M432.0 62.4h0M426.8 57.6h0M429.4 58.9h0M428.4 57.2h0M430.0 65.7h0M430.5 58.3h0M429.8 59.0h0M425.5 67.3h0M427.2 61.9h0M427.4 67.8h0M427.4 62.5h0M433.1 63.3h0M432.3 62.2h0M432.6 58.9h0M429.4 58.8h0M429.3 72.1h0M428.5 68.9h0M429.3 59.7h0M429.8 71.8h0M426.9 61.5h0M430.2 66.1h0M431.0 63.5h0M428.3 57.6h0"/>
<path stroke="#E38900" d="M492.5 92.3h0M485.0 86.9h0M485.8 94.2h0M484.3 88.8h0M490.4 92.1h0M495.6 83.3h0M513.9 88.8h0M507.4 90.5h0M510.0 80.0h0M501.6 83.1h0M498.6 79.4h0M489.7 88.4h0M518.6 90.6h0M511.6 85.8h0M482.8 84.0h0M506.0 89.4h0M496.3 88.4h0M505.9 88.9h0M511.9 84.4h0M479.9 94.5h0M506.2 79.7h0M517.1 87.3h0M496.9 79.2h0M483.9 94.5h0M507.3 89.5h0M499.9 85.0h0M510.5 80.5h0M494.8 87.4h0M484.6 88.0h0M509.8 79.5h0M492.9 79.6h0M506.5 86.6h0M503.4 84.7h0M483.9 86.2h0M486.9 88.2h0M488.1 92.8h0M509.2 86.0h0M490.7 85.8h0M515.5 87.8h0M512.5 84.0h0M487.5 87.2h0M494.9 84.5h0M486.3 95.0h0M505.5 89.3h0M515.3 85.1h0M504.9 82.8h0M504.6 88.7h0M502.3 78.7h0M487.4 83.5h0M499.4 84.1h0M493.4 88.0h0M501.3 85.1h0M492.2 89.6h0M504.1 80.1h0M492.6 91.0h0M508.3 90.1h0M503.3 83.2h0M501.8 85.2h0M491.7 82.2h0M490.5 88.4h0M480.5 94.9h0M488.9 95.4h0M487.5 88.3h0M506.6 90.1h0M497.8 85.8h0M494.3 87.1h0M490.4 92.2h0M482.3 94.3h0M487.6 93.7h0M513.7 84.4h0M517.2 89.6h0M496.8 90.4h0M503.3 79.7h0M500.3 81.4h0M495.3 79.3h0M489.6 89.6h0M484.6 87.9h0M498.0 91.5h0M489.3 81.5h0M497.2 81.4h0M501.2 85.8h0M513.4 81.5h0M499.9 83.4h0M501.1 88.5h0M503.6 91.8h0M484.8 94.2h0M481.2 91.0h0M483.3 87.9h0M484.2 98.4h0M484.0 83.8h0M488.1 82.9h0M483.3 83.6h0M483.2 97.1h0M503.1 92.6h0M493.0 87.5h0M503.3 88.1h0M488.2 84.2h0M505.9 79.2h0M512.3 79.4h0M485.4 88.4h0M491.3 91.8h0M514.1 81.3h0M508.3 83.5h0M494.3 80.6h0M515.3 83.6h0M494.8 89.7h0M487.3 98.4h0M478.2 94.6h0M510.0 86.2h0M489.3 95.3h0M502.8 82.0h0M501.9 90.1h0M479.7 88.5h0M502.7 81.5h0M515.3 85.4h0M501.2 84.2h0M493.7 87.4h0M488.4 86.1h0"/>
<path stroke="#F8766D" d="M461.9 117.8h0M461.6 116.5h0M471.9 110.3h0M465.4 111.5h0M457.4 116.1h0M470.3 110.8h0M464.8 97.6h0M467.3 94.1h0M467.5 105.5h0M462.3 94.3h0M464.2 114.8h0M471.0 111.1h0M462.2 96.7h0M465.4 101.8h0M462.2 107.4h0M466.2 113.9h0M463.2 96.0h0M461.8 105.5h0M463.9 100.0h0M471.8 111.6h0M474.7 106.7h0M467.9 108.1h0M473.3 105.7h0M471.6 113.1h0M462.0 108.0h0M465.2 96.6h0M463.8 117.6h0M462.9 95.7h0M470.0 104.8h0M468.4 95.6h0M466.7 104.1h0M467.7 104.8h0M463.2 95.4h0M466.8 97.6h0M462.9 110.9h0M469.9 113.4h0M470.2 101.1h0M469.6 113.4h0M470.3 108.2h0M464.4 93.5h0M465.2 95.2h0M462.1 112.6h0M467.9 116.0h0M473.5 111.4h0M471.1 109.0h0M467.2 95.4h0M466.2 116.3h0M464.2 114.7h0M470.7 105.2h0M465.3 102.7h0M463.5 101.6h0M465.6 107.9h0M468.8 107.5h0M466.0 106.0h0M462.1 106.4h0M462.1 108.2h0M462.3 103.5h0M465.3 108.6h0M462.6 98.7h0M465.4 116.3h0M474.9 111.5h0M468.6 95.8h0M470.7 99.3h0M467.3 98.4h0M466.4 102.7h0M473.8 106.1h0M471.6 99.0h0M466.3 106.2h0M462.4 103.2h0M462.8 110.3h0M467.8 111.2h0M465.4 115.4h0M473.4 107.7h0M465.2 104.0h0M465.8 112.5h0M469.6 94.7h0M471.2 96.8h0M470.1 113.0h0M466.8 94.1h0M471.5 101.4h0M471.5 102.3h0M465.3 110.5h0M470.0 109.4h0M471.9 112.2h0M468.8 108.0h0M469.4 112.2h0M465.6 99.9h0M463.2 96.3h0M472.3 106.0h0M467.2 95.0h0M460.9 116.7h0M469.2 93.5h0M473.5 110.3h0M464.2 113.7h0M468.6 114.0h0M473.3 101.4h0M473.3 101.5h0M472.9 101.0h0M467.3 108.8h0M463.1 103.7h0M470.4 95.3h0M474.2 111.1h0M466.6 107.6h0M468.7 95.0h0M465.7 116.4h0M465.0 100.3h0M463.5 98.0h0M458.9 114.3h0M472.1 104.4h0M470.1 106.9h0M466.9 113.9h0M469.7 102.3h0M472.7 112.3h0M463.8 94.6h0M464.8 94.5h0M460.6 115.2h0M471.2 101.8h0M458.2 117.0h0M474.4 112.5h0M469.9 110.4h0M461.6 107.0h0M470.7 104.0h0M462.5 113.0h0M469.0 110.1h0M465.2 94.1h0M470.9 112.2h0M468.3 98.8h0M473.8 102.5h0M461.4 111.0h0M462.8 114.7h0M461.7 116.0h0M474.9 106.6h0M470.8 94.7h0M462.5 99.9h0M472.6 100.9h0M463.1 115.4h0M468.4 102.7h0M466.1 110.4h0M472.5 110.4h0M462.1 102.4h0M466.3 95.3h0M468.9 102.3h0M468.3 109.8h0M457.8 116.4h0M462.5 96.8h0M467.9 115.4h0M462.9 114.4h0M473.6 107.5h0M473.5 98.9h0M468.4 109.3h0M461.4 106.0h0M472.1 104.9h0M458.6 118.5h0M473.7 105.3h0M462.6 92.3h0M462.4 118.3h0M471.4 96.1h0M469.2 94.5h0M465.2 113.5h0M473.1 106.4h0M467.8 106.6h0M469.4 98.2h0M469.6 113.3h0M465.0 113.7h0M463.2 95.1h0M472.1 111.1h0M470.2 112.8h0M460.2 118.0h0M466.8 99.3h0M472.4 98.8h0M458.7 118.6h0M473.1 101.1h0M467.1 99.8h0M474.3 108.5h0M462.0 100.5h0M462.1 100.9h0M475.0 107.6h0M468.8 112.0h0M417.1 223.3h0M433.6 239.6h0M456.4 117.1h0M457.0 118.0h0M434.0 126.2h0M443.1 126.9h0M448.7 122.7h0"/>
<path stroke="#C49A00" d="M528.7 122.0h0M496.5 133.2h0M488.2 121.9h0M489.8 129.3h0M493.7 121.5h0M496.7 131.6h0M504.7 118.4h0M525.0 120.2h0M492.4 129.9h0M515.7 124.1h0M513.6 134.7h0M507.0 118.2h0M484.1 116.7h0M521.7 134.2h0M495.3 119.1h0M484.1 120.3h0M481.0 115.8h0M506.8 133.3h0M500.2 124.2h0M490.7 127.0h0M523.7 119.1h0M492.6 131.1h0M502.4 125.4h0M512.8 133.3h0M519.0 131.5h0M496.0 134.1h0M499.5 130.1h0M512.5 126.3h0M493.2 136.8h0M493.8 118.3h0M510.1 121.5h0M530.2 130.0h0M509.9 124.5h0M526.1 121.8h0M483.6 117.5h0M515.8 131.8h0M484.7 118.4h0M495.6 137.4h0M515.8 122.9h0M476.8 121.2h0M514.1 123.7h0M495.7 130.3h0M486.5 129.0h0M497.2 137.8h0M526.3 120.4h0M482.2 106.7h0M485.0 118.5h0M513.2 129.9h0M500.9 131.4h0M522.1 125.3h0M487.3 112.1h0M524.2 123.4h0M525.8 126.0h0M492.3 117.4h0M478.2 124.0h0M487.2 116.2h0M495.1 121.5h0M493.1 123.6h0M503.1 134.8h0M504.6 127.9h0M512.5 118.0h0M523.3 119.2h0M496.8 132.0h0M489.7 128.4h0M519.5 127.9h0M481.6 109.6h0M517.7 125.9h0M493.7 136.9h0M483.8 121.3h0M491.0 125.2h0M492.4 131.9h0M512.7 128.3h0M491.6 135.7h0M477.5 116.2h0M524.3 134.2h0M508.9 123.2h0M478.1 125.1h0M529.5 127.8h0M499.9 136.4h0M482.7 111.5h0M518.7 121.3h0M484.7 123.7h0M482.2 124.9h0M486.4 109.3h0M513.3 122.4h0M504.9 132.0h0M485.1 115.2h0M502.9 130.2h0M528.6 125.3h0M507.4 119.9h0M491.5 118.1h0M495.1 136.6h0M502.3 132.8h0M518.7 128.4h0M510.6 128.4h0M485.8 119.0h0M515.2 125.2h0M472.3 121.6h0M496.9 132.3h0M506.5 127.0h0M510.6 124.8h0M514.9 131.9h0M490.3 126.6h0M484.7 117.3h0M504.4 132.3h0M501.5 126.9h0M498.9 137.9h0M512.8 119.5h0M473.7 119.5h0M491.4 130.0h0M506.1 124.1h0M490.7 121.1h0M504.6 135.6h0M532.0 125.9h0M475.9 122.9h0M489.5 118.9h0M509.0 133.6h0M507.4 134.9h0M485.3 125.2h0M486.0 123.2h0M528.0 122.7h0M481.9 123.9h0M482.0 106.8h0M518.4 123.4h0M521.0 131.8h0M494.4 134.8h0M497.5 128.0h0M506.2 132.5h0M492.1 120.9h0M512.1 130.3h0M502.3 136.3h0M516.3 124.1h0M503.8 122.2h0M515.8 120.6h0M497.9 127.4h0M483.9 111.5h0M502.8 121.9h0M503.3 119.6h0M494.3 121.7h0M492.1 129.1h0M511.8 133.3h0M528.3 123.9h0M522.2 125.2h0M496.5 134.3h0M519.3 124.5h0M499.2 130.9h0M511.4 118.5h0M496.5 128.2h0M499.1 131.3h0M473.0 122.6h0M519.2 120.1h0M479.5 123.2h0M510.2 121.5h0M476.0 118.0h0M500.7 128.3h0M509.9 123.9h0M514.5 121.6h0M484.0 108.9h0M525.3 132.6h0M531.0 128.3h0M498.0 136.2h0M475.7 120.7h0M524.6 123.6h0M520.4 131.5h0M506.0 119.5h0M506.4 135.7h0M474.7 119.0h0M485.6 117.1h0M492.6 132.3h0M508.0 121.8h0M476.0 121.2h0M501.5 135.4h0M497.3 134.4h0M486.5 129.9h0M488.6 131.1h0M498.0 138.0h0M519.5 126.3h0M477.0 122.8h0M509.2 135.9h0M486.1 121.1h0M500.6 136.2h0M515.7 125.4h0M502.1 128.4h0M491.4 119.1h0M502.6 131.9h0M501.2 124.6h0M505.9 127.0h0M512.8 130.9h0M488.1 126.7h0M486.9 123.6h0M526.5 130.0h0M481.3 124.8h0M483.9 109.2h0M491.2 129.0h0M508.0 132.9h0M521.2 128.7h0M492.0 128.6h0M519.8 122.6h0M521.2 134.5h0M527.7 123.7h0M507.5 129.7h0M506.0 125.9h0M492.6 124.6h0M515.1 122.0h0M517.8 123.3h0M484.1 115.8h0M490.7 117.8h0M478.7 121.5h0M475.7 120.3h0M480.1 121.4h0M502.6 133.0h0M490.2 124.4h0M514.1 130.7h0M480.5 126.2h0M486.6 108.9h0M500.7 131.7h0M491.3 123.7h0M527.4 132.4h0M477.6 122.7h0M501.7 120.3h0M516.2 124.3h0M497.3 134.9h0M484.3 123.1h0M483.8 124.5h0M476.8 122.4h0M516.2 118.5h0M499.0 130.3h0M489.6 121.6h0M527.8 131.7h0M500.0 120.8h0M497.3 135.1h0M501.4 130.1h0M502.7 135.8h0M520.5 128.4h0M477.6 117.5h0M510.0 134.8h0M494.7 129.0h0M508.0 135.7h0M476.6 125.0h0M525.4 133.6h0M502.1 134.0h0M507.5 134.8h0M506.6 130.4h0M499.0 122.9h0M514.5 120.6h0M502.3 132.3h0M488.6 127.5h0M503.7 119.8h0M482.6 115.3h0M527.7 122.1h0M478.2 125.0h0M482.2 110.0h0M500.7 134.7h0M519.7 123.0h0M485.6 117.2h0M509.8 120.7h0M491.0 118.4h0M494.0 121.1h0M524.3 132.5h0M524.5 121.2h0M523.4 128.0h0M491.6 125.9h0M491.9 132.1h0M489.7 123.1h0M490.8 116.5h0M506.1 133.9h0M520.9 118.5h0M496.4 138.8h0M487.0 119.7h0M529.1 127.6h0M497.7 137.8h0M512.7 131.5h0M520.8 122.5h0M522.2 129.4h0M495.1 138.3h0M498.1 124.4h0M513.9 123.4h0M502.4 127.9h0M491.0 131.0h0M484.3 117.1h0M508.3 133.0h0M516.6 132.7h0M498.2 131.8h0M493.9 136.5h0M524.2 130.6h0M518.7 132.4h0M504.0 118.4h0M517.8 127.7h0M485.3 108.1h0M521.5 125.5h0M487.4 115.1h0M496.8 119.7h0M508.7 126.8h0M524.3 132.8h0M518.6 125.1h0M511.4 125.7h0M499.9 118.8h0M526.6 121.8h0M491.5 118.9h0M501.9 126.1h0M517.7 129.3h0M528.0 129.9h0M488.9 122.6h0M507.4 125.6h0M500.5 126.1h0M529.9 127.1h0M511.8 135.3h0M474.3 120.2h0M492.4 126.2h0M485.2 106.9h0M506.4 127.1h0M500.0 126.6h0M505.3 126.2h0M510.8 118.1h0M508.0 118.6h0M516.8 122.7h0M476.1 120.3h0M516.5 119.5h0M529.9 128.4h0M485.6 119.6h0M513.3 122.5h0M480.0 124.3h0M487.0 113.8h0M490.9 131.2h0M495.2 121.9h0M486.1 110.5h0M503.7 132.5h0M493.0 127.6h0M488.2 127.3h0M513.0 120.8h0M509.4 132.5h0M526.0 122.0h0M489.3 129.1h0M485.0 120.5h0M524.2 130.5h0M495.1 138.6h0M485.6 126.1h0M500.3 122.3h0M510.5 119.5h0M519.5 126.4h0M487.0 112.5h0M511.4 123.9h0M481.3 119.9h0M489.6 126.3h0M479.7 117.2h0M485.0 106.8h0M502.9 125.9h0M505.1 126.7h0M486.1 126.7h0M493.6 131.0h0M496.7 126.2h0M513.3 120.0h0M500.3 123.0h0M492.4 123.7h0M508.9 133.3h0M514.6 124.0h0M523.5 131.2h0M487.9 130.5h0M482.1 126.3h0M519.4 129.8h0M504.2 131.6h0M484.2 121.4h0M491.1 129.9h0M503.7 129.6h0M505.8 132.1h0M501.9 130.5h0M525.7 130.3h0M482.8 116.0h0M495.6 122.3h0M486.3 115.2h0M483.7 112.5h0M501.9 127.0h0M501.2 137.2h0M478.7 125.5h0M501.6 119.2h0M521.8 118.9h0M496.4 130.0h0M492.7 123.2h0M497.1 128.5h0M486.3 112.5h0M498.8 131.5h0M517.4 126.8h0M507.1 125.7h0M508.6 135.1h0M518.7 122.0h0M485.9 110.8h0M497.7 128.2h0M523.3 126.0h0M513.1 125.3h0M489.3 119.3h0M518.8 132.4h0M530.4 129.7h0M496.0 128.8h0M488.5 130.8h0M489.2 127.4h0M486.4 121.5h0M479.9 122.4h0M484.6 120.4h0M477.1 124.5h0M502.6 136.6h0M500.9 120.4h0M491.9 126.4h0M530.5 125.2h0M492.7 128.7h0M504.4 125.8h0M475.4 117.8h0M516.5 119.1h0M480.7 116.7h0M512.3 122.4h0M517.4 130.8h0M481.7 115.8h0M514.3 119.7h0M519.2 130.2h0M510.0 135.6h0M519.1 121.5h0M494.8 138.5h0M519.8 123.7h0M483.3 114.4h0M494.7 122.0h0M480.6 123.4h0M508.3 123.1h0M523.1 132.4h0M480.0 120.4h0M511.2 127.1h0M490.6 125.2h0M526.5 131.0h0M495.7 122.0h0M491.4 130.7h0M517.1 134.4h0M527.0 126.5h0M528.9 129.2h0M506.2 123.3h0M490.0 118.3h0M497.1 136.0h0M505.0 134.7h0M479.8 122.6h0M493.6 128.0h0M505.9 130.8h0M499.3 136.0h0M507.5 132.4h0M487.4 113.0h0M519.4 130.8h0M514.7 125.1h0M490.3 122.6h0M479.2 125.9h0M492.9 136.3h0M509.0 128.5h0M523.6 122.2h0M496.3 127.2h0M483.9 116.6h0M519.4 125.8h0M519.7 129.7h0M517.2 123.1h0M530.2 130.2h0M502.9 126.0h0M512.5 133.3h0M495.3 119.5h0M497.2 124.2h0M499.0 129.7h0M485.6 123.7h0M516.9 132.3h0M477.5 117.7h0M520.1 121.6h0M489.8 119.4h0M513.1 132.8h0M485.8 111.1h0M478.9 124.8h0M506.6 125.4h0M500.4 133.8h0M500.2 135.2h0M498.4 121.3h0M517.0 125.2h0"/>
<path stroke="#00B6EB" d="M325.6 107.2h0M316.3 124.4h0M319.8 114.2h0M315.7 122.0h0M323.3 115.9h0M332.7 116.6h0M309.9 110.0h0M329.7 108.9h0M326.2 114.3h0M318.3 108.6h0M324.4 118.9h0M308.0 115.8h0M311.5 112.6h0M310.2 113.1h0M311.9 121.4h0M328.6 106.9h0M320.1 116.4h0M312.9 109.3h0M317.7 116.5h0M315.6 116.6h0M335.6 115.5h0M319.2 119.8h0M335.7 112.8h0M318.2 111.9h0M311.6 112.2h0M326.4 119.5h0M316.8 123.3h0M326.7 118.3h0M316.0 117.6h0M317.1 114.1h0M337.1 115.1h0M313.0 114.4h0M314.2 120.4h0M313.7 120.4h0M321.8 114.5h0M326.0 110.3h0M317.2 109.0h0M308.9 111.5h0M310.6 116.8h0M333.5 114.2h0M324.1 118.3h0M325.4 118.1h0M316.9 109.3h0M321.6 111.2h0M323.0 111.3h0M319.7 108.0h0M324.7 112.4h0M307.0 110.5h0M320.3 124.6h0M314.0 122.8h0M321.0 113.1h0M319.5 116.5h0M317.2 118.4h0M320.4 117.9h0M311.7 116.6h0M315.0 113.7h0M324.5 114.0h0M314.8 117.0h0M317.1 120.5h0M323.4 123.1h0M338.4 114.4h0M325.4 106.2h0M324.9 114.6h0M307.5 113.0h0M317.1 121.8h0M333.0 116.0h0M308.6 118.0h0M318.4 116.7h0M333.9 111.9h0M323.1 121.3h0M324.1 117.3h0M309.5 114.8h0M331.9 113.3h0M312.6 121.5h0M309.0 107.8h0M327.7 112.9h0M317.6 124.5h0M314.7 114.5h0M326.1 110.2h0M332.7 114.3h0M337.7 113.5h0M319.4 114.6h0M326.4 106.9h0M311.9 112.8h0M330.1 113.0h0M318.2 114.7h0M326.0 120.5h0M326.2 117.4h0M329.4 117.9h0M333.4 116.6h0M317.3 109.6h0M316.4 113.9h0M317.3 117.1h0M326.5 113.0h0M321.9 120.1h0M318.6 122.8h0M313.9 119.5h0M318.2 124.3h0M316.1 120.8h0M324.1 114.6h0M327.7 118.9h0M317.0 117.9h0M320.7 118.6h0M328.7 108.3h0M315.6 117.7h0M335.0 114.8h0M317.4 113.9h0M323.5 123.8h0M309.9 115.2h0M331.9 110.3h0M321.0 113.7h0M320.8 107.7h0M309.0 113.3h0M311.9 112.1h0M318.1 123.1h0M332.1 115.7h0M326.4 114.7h0M309.8 118.1h0M326.7 107.5h0M322.3 111.1h0M319.5 118.5h0M315.6 113.1h0M321.8 114.0h0M318.6 118.6h0M325.5 107.7h0M321.4 124.7h0M317.0 118.5h0M337.4 112.9h0M323.3 112.3h0M316.2 115.1h0M327.9 117.6h0M309.8 120.7h0M321.6 107.7h0M319.0 125.0h0M316.5 108.6h0M308.6 110.3h0M328.9 106.8h0M315.5 108.9h0M315.2 120.3h0M326.8 107.0h0M327.3 112.3h0M322.5 122.2h0M311.0 111.7h0M320.5 112.6h0M324.1 119.5h0M316.1 120.3h0M322.0 118.2h0M321.5 119.5h0M309.5 116.3h0M320.1 123.8h0M315.8 112.2h0M311.9 122.1h0M329.7 110.7h0M329.4 111.1h0M335.2 114.6h0M335.4 116.5h0M310.8 121.6h0M311.6 108.9h0M320.0 117.2h0M322.2 117.0h0M319.2 108.2h0M312.2 110.1h0M321.8 118.3h0M310.2 116.6h0M322.1 116.1h0M328.1 110.5h0M309.1 117.9h0M313.7 117.0h0M329.5 113.5h0M322.4 121.2h0M317.9 120.8h0M311.3 116.2h0M309.4 117.3h0M312.4 116.5h0M320.4 119.2h0M324.0 114.3h0M317.7 115.6h0M326.4 113.0h0M322.2 117.1h0M333.2 111.8h0M330.4 114.3h0M309.0 109.1h0M321.3 108.0h0M326.7 120.8h0M313.8 121.5h0M310.7 109.1h0M329.9 115.4h0M324.0 108.2h0M310.8 113.9h0M323.5 114.5h0M317.7 118.0h0M319.3 118.5h0M316.1 116.8h0M317.0 111.6h0M331.0 108.7h0M313.1 115.5h0M316.0 116.5h0M322.6 123.0h0M320.0 119.0h0M337.7 115.0h0M315.5 119.2h0M336.7 113.1h0M315.8 116.5h0M315.4 117.9h0M314.1 121.8h0M318.0 114.6h0M309.2 116.5h0M312.1 110.8h0M313.3 120.6h0M323.3 112.3h0M325.1 117.7h0M324.4 111.2h0M332.1 110.8h0M332.8 109.8h0M312.5 111.4h0M330.3 111.8h0M320.0 123.6h0M315.0 123.7h0M324.9 106.5h0M319.6 115.4h0M309.7 114.2h0M321.3 111.4h0M319.7 115.5h0M330.6 117.9h0M316.7 108.2h0M313.6 117.1h0M320.5 112.5h0M310.8 120.9h0M319.4 112.7h0M322.5 111.7h0M333.4 115.8h0M319.3 116.1h0M326.7 106.1h0M337.9 115.3h0M327.7 106.5h0M329.0 113.1h0M323.6 121.9h0M309.9 108.9h0M325.4 117.4h0M329.5 110.2h0M308.5 116.3h0M324.1 123.1h0M314.6 120.8h0M312.3 116.2h0M327.0 107.9h0M318.7 123.7h0M309.5 109.0h0M330.6 114.4h0M315.8 116.9h0M324.5 110.8h0M313.0 122.0h0M317.5 113.6h0M329.1 115.5h0M318.0 125.2h0M323.9 120.0h0M322.9 123.7h0M315.0 118.3h0M329.2 116.1h0M313.3 110.4h0M325.8 106.2h0M313.8 119.2h0M312.1 114.0h0M337.7 113.9h0M312.3 120.1h0M317.5 115.8h0M309.5 114.4h0M318.4 113.2h0M320.2 113.3h0M317.6 119.9h0M326.0 111.0h0M314.3 118.8h0M327.4 110.2h0M307.3 111.6h0M327.4 111.7h0M326.4 117.4h0M307.6 111.8h0M333.3 113.6h0M320.1 123.2h0M320.9 114.1h0M309.9 114.6h0M324.9 113.7h0M335.9 113.6h0M315.7 109.4h0M314.3 123.7h0M335.3 111.9h0M325.5 113.6h0M308.4 110.2h0M324.5 121.4h0M323.3 123.7h0M318.5 116.5h0M322.2 122.9h0M325.3 115.4h0M318.8 125.5h0M321.3 106.7h0M330.4 113.3h0M327.9 108.5h0M311.8 112.9h0M314.6 116.3h0M329.7 118.0h0M320.6 123.2h0M318.2 109.4h0M334.4 116.1h0M309.5 119.9h0M320.6 117.7h0M337.6 113.2h0M313.7 121.5h0M311.7 117.3h0M314.2 115.3h0M326.3 109.6h0M320.2 124.1h0"/>
<path stroke="#06A4FF" d="M364.1 134.9h0M357.1 115.7h0M356.1 118.9h0M366.5 124.4h0M361.5 111.9h0M361.9 116.8h0M360.5 111.5h0M357.5 126.3h0M362.0 111.9h0M368.2 126.5h0M362.5 121.0h0M357.5 122.6h0M354.3 136.0h0M360.3 114.3h0M354.6 134.0h0M357.6 108.0h0M364.2 123.7h0M369.1 127.3h0M368.6 128.2h0M362.7 115.0h0M367.8 130.3h0M355.9 121.8h0M354.3 130.4h0M365.8 128.2h0M355.8 111.5h0M361.9 121.0h0M356.0 134.9h0M363.8 120.0h0M362.6 126.9h0M358.7 136.5h0M358.6 123.0h0M357.7 111.1h0M357.3 118.8h0M357.7 108.7h0M354.0 129.6h0M365.1 130.5h0M357.8 132.3h0M360.1 125.7h0M362.7 125.4h0M356.8 108.0h0M354.4 127.1h0M355.3 123.5h0M354.5 127.5h0M355.9 135.0h0M367.1 130.9h0M367.9 128.7h0M358.7 135.8h0M357.2 108.3h0M354.3 127.3h0M353.1 133.0h0M359.2 114.4h0M363.3 132.7h0M367.3 126.0h0M353.5 130.8h0M366.8 129.3h0M365.2 130.9h0M361.0 112.2h0M356.5 131.4h0M357.5 130.9h0M367.8 125.4h0M357.2 119.1h0M357.3 122.2h0M357.4 123.1h0M361.7 113.7h0M360.6 115.4h0M359.7 115.7h0M362.0 125.4h0M360.1 107.9h0M359.7 121.0h0M356.5 115.7h0M353.3 135.2h0M364.6 130.8h0M368.8 128.3h0M359.7 119.8h0M365.9 127.6h0M360.3 113.2h0M356.6 120.6h0M360.1 129.2h0M364.0 123.3h0M367.8 128.0h0M356.5 135.4h0M363.8 127.4h0M361.3 114.5h0M351.3 135.5h0M353.5 122.9h0M351.1 134.6h0M356.2 130.9h0M354.0 125.3h0M355.7 117.7h0M355.5 117.4h0M350.6 132.6h0M355.0 123.1h0M357.2 118.4h0M353.3 125.5h0M352.5 126.9h0M354.4 117.0h0M354.4 128.2h0M357.2 120.9h0M351.6 136.0h0M354.4 125.9h0M352.6 123.9h0M356.8 120.6h0M356.9 118.7h0M353.8 122.3h0M353.3 134.8h0M352.0 126.0h0M356.8 107.6h0M353.1 132.9h0M355.4 118.2h0M352.1 129.1h0M358.5 116.0h0M351.9 136.3h0M353.8 124.0h0M357.5 111.8h0M356.8 112.9h0M357.3 108.0h0M353.9 128.0h0M354.4 126.0h0M353.4 131.8h0M352.4 133.1h0M352.8 133.1h0M355.7 121.8h0M355.3 117.4h0M355.3 120.9h0M356.1 121.9h0M356.0 110.4h0M355.1 118.6h0M356.2 115.7h0M357.1 108.5h0M355.8 109.1h0M356.3 114.6h0M353.6 128.9h0M355.0 121.6h0M352.1 134.6h0M352.9 130.5h0M356.9 109.7h0M351.9 127.5h0M355.7 122.2h0M355.2 121.9h0M355.0 119.8h0M355.0 114.1h0M357.0 114.7h0M354.1 122.0h0M354.3 129.0h0M355.4 119.4h0M356.7 114.4h0M360.9 115.3h0M360.4 115.6h0M356.6 113.6h0M359.3 108.7h0M359.5 113.0h0M358.0 113.9h0M356.2 109.3h0M361.0 110.4h0M355.0 112.0h0M356.7 108.9h0M361.2 108.9h0M362.6 113.0h0M355.6 115.7h0M356.1 108.4h0M361.7 116.4h0M358.3 111.8h0M357.7 108.7h0M361.1 107.5h0M359.0 107.5h0M358.9 116.0h0M359.2 115.3h0M356.9 111.7h0M357.5 113.0h0M360.1 109.4h0M358.3 114.3h0M356.4 109.2h0M360.3 115.9h0M355.7 113.4h0M355.9 106.1h0M354.8 107.7h0M355.5 110.9h0M361.2 114.8h0M357.4 112.8h0M357.6 108.9h0M357.4 109.9h0M362.2 113.8h0M357.2 112.0h0M357.2 112.9h0M361.4 110.1h0M356.8 113.3h0M356.0 111.4h0M357.7 108.5h0M355.8 113.2h0M359.1 106.8h0M356.8 108.1h0M359.2 107.4h0M358.7 106.7h0M359.3 112.8h0M359.9 112.1h0M358.8 106.3h0M360.2 106.6h0M357.0 111.0h0M361.3 112.7h0M361.1 109.2h0M361.8 110.1h0M361.4 108.8h0M356.8 107.0h0M361.4 113.5h0M359.9 110.0h0M358.3 114.4h0M359.8 106.6h0M356.8 115.5h0M360.3 116.7h0M357.4 107.2h0M358.6 110.8h0M358.6 116.2h0M360.9 109.7h0M359.6 113.4h0M356.9 111.8h0M361.0 107.8h0M357.0 110.0h0M359.8 110.9h0M362.8 112.5h0M357.1 107.5h0M359.4 111.2h0M359.3 109.6h0M362.1 113.7h0M355.1 108.2h0M357.6 115.1h0M355.5 107.1h0M356.0 110.7h0M367.0 130.7h0M359.7 135.3h0M363.7 132.4h0M359.4 133.9h0M356.6 133.7h0M363.0 133.5h0M364.5 133.5h0M361.4 133.5h0M362.7 133.3h0M351.5 134.8h0M361.1 132.3h0M364.5 132.6h0M352.5 135.1h0M357.6 135.1h0M369.6 129.0h0M363.7 131.7h0M366.9 131.0h0M358.4 133.1h0M367.5 132.6h0M368.5 128.6h0M365.2 132.4h0M368.2 128.4h0M362.0 132.7h0M359.1 134.3h0M352.4 134.3h0M367.7 127.1h0M363.4 134.4h0M364.1 131.5h0M352.8 134.4h0M357.2 133.4h0M357.7 132.3h0M354.1 133.8h0M365.5 133.6h0M354.7 134.0h0M363.9 133.5h0M369.4 128.4h0M358.8 134.5h0M350.8 133.8h0M362.1 133.2h0M353.8 135.2h0M363.6 133.1h0M366.3 132.4h0M358.3 134.1h0M361.0 115.0h0M363.8 118.9h0M361.6 119.7h0M359.2 108.2h0M367.7 125.7h0M368.7 124.9h0M362.0 121.4h0M365.7 122.0h0M367.9 122.8h0M360.3 111.8h0M361.0 116.9h0M371.3 128.4h0M360.7 113.1h0M361.3 113.7h0M361.3 114.2h0M367.0 127.2h0M360.8 117.4h0M367.0 124.3h0M370.1 128.0h0M360.4 113.7h0M369.1 128.0h0M362.2 118.6h0M362.3 115.3h0M359.9 109.6h0M360.2 119.4h0M367.7 127.5h0M363.6 121.1h0M360.7 113.2h0M363.0 116.7h0M362.1 117.9h0M367.9 127.4h0M365.8 122.3h0M360.4 109.2h0M361.9 112.9h0M368.0 125.4h0M360.7 113.2h0"/>
<path stroke="#A58AFF" d="M362.5 141.6h0M351.8 154.4h0M350.4 149.4h0M349.6 155.6h0M348.2 153.5h0M349.1 149.8h0M363.0 141.5h0M351.7 150.2h0M365.3 142.5h0M363.4 143.4h0M361.3 140.7h0M354.5 146.1h0M349.4 152.0h0M350.6 156.7h0M346.4 152.3h0M353.7 144.2h0M364.7 141.3h0M351.1 148.9h0M352.2 153.5h0M357.3 142.6h0M354.1 142.9h0M356.8 142.2h0M353.0 142.7h0M349.6 148.8h0M355.7 142.8h0M347.3 151.7h0M355.9 148.9h0M357.3 144.4h0M353.0 144.9h0M357.4 142.6h0M355.3 147.3h0M357.5 142.1h0M349.8 155.0h0M351.8 145.2h0M355.4 148.7h0M353.0 151.6h0M361.9 140.4h0M353.5 148.7h0M362.0 141.4h0M353.4 151.2h0M361.8 143.9h0M348.7 154.1h0M360.9 141.2h0M354.3 141.8h0M346.7 150.5h0M349.8 147.9h0M354.6 142.2h0M354.2 149.7h0M350.9 146.9h0M349.6 153.7h0M362.6 144.3h0M354.9 142.6h0M352.9 146.2h0M358.6 142.3h0M352.9 154.5h0M352.4 145.2h0M355.0 148.2h0M356.6 141.7h0M357.1 144.9h0M350.7 151.9h0M351.9 146.6h0M361.4 142.1h0M363.3 143.9h0M348.2 148.2h0M345.5 154.0h0M358.4 147.0h0M352.4 144.9h0M353.2 148.9h0M349.4 150.6h0M355.0 144.8h0M355.4 148.9h0M347.1 152.0h0M357.1 144.1h0M358.8 140.8h0M349.0 155.7h0M358.2 145.6h0M352.8 143.9h0M356.3 147.1h0M351.5 153.7h0M350.4 145.3h0M351.9 154.4h0M358.1 140.6h0M361.9 143.0h0M361.1 144.5h0M357.8 144.9h0M362.5 141.6h0M353.6 147.0h0M354.9 146.5h0M349.3 150.0h0M354.4 143.9h0M349.0 151.7h0M349.7 152.4h0M351.9 149.7h0M349.8 156.0h0M350.0 151.7h0M347.5 154.8h0M357.8 141.2h0M351.4 145.9h0M350.0 153.7h0M363.0 140.9h0M346.2 153.2h0M351.4 145.2h0M348.6 150.4h0M358.2 140.3h0M354.2 142.5h0M346.1 153.6h0M364.6 141.1h0M354.2 152.1h0M350.6 146.8h0M353.0 143.5h0M350.7 144.5h0"/>
<path stroke="#00BC56" d="M394.7 101.5h0M396.3 118.5h0M404.0 116.8h0M404.4 105.0h0M407.0 106.4h0M389.3 118.7h0M406.3 122.2h0M388.8 105.5h0M383.8 106.8h0M399.7 107.1h0M397.3 123.8h0M408.9 123.2h0M388.7 122.5h0M411.3 120.2h0M379.8 116.4h0M394.0 100.2h0M407.8 114.6h0M396.3 105.4h0M400.5 104.3h0M396.3 114.8h0M402.1 121.9h0M410.3 127.7h0M407.3 104.3h0M392.9 121.8h0M398.2 103.1h0M385.1 106.7h0M391.5 123.1h0M398.8 112.3h0M390.5 114.1h0M391.2 123.2h0M396.9 113.5h0M398.2 124.2h0M394.0 120.5h0M387.1 120.9h0M385.1 108.6h0M410.7 121.5h0M400.0 109.1h0M397.6 109.1h0M384.7 119.9h0M400.8 110.9h0M389.2 119.5h0M408.7 120.3h0M396.6 128.9h0M380.7 110.8h0M379.8 109.2h0M393.5 113.7h0M389.4 122.9h0M410.6 117.8h0M399.1 119.0h0M402.0 103.6h0M398.2 118.6h0M397.5 121.6h0M410.8 125.8h0M382.6 122.3h0M402.9 116.2h0M393.2 111.6h0M390.5 112.4h0M396.0 119.4h0M409.9 112.9h0M404.5 107.6h0M389.7 112.4h0M398.5 108.0h0M407.7 109.4h0M393.3 112.4h0M397.2 107.2h0M411.8 125.7h0M399.1 103.5h0M391.9 115.2h0M402.7 114.5h0M403.8 105.3h0M401.2 112.5h0M385.6 119.0h0M406.7 108.4h0M402.0 128.2h0M405.7 115.7h0M405.8 127.2h0M389.2 111.3h0M399.4 105.4h0M383.1 111.4h0M392.3 123.6h0M386.3 121.3h0M378.6 110.6h0M388.4 104.2h0M395.9 110.6h0M387.2 108.4h0M405.0 111.6h0M401.6 121.7h0M406.5 125.7h0M401.6 115.8h0M380.5 112.2h0M409.0 129.1h0M401.6 129.0h0M389.0 117.0h0M395.5 102.2h0M381.2 110.6h0M395.1 100.6h0M404.8 109.0h0M403.4 106.3h0M405.8 104.5h0M382.4 105.0h0M387.0 113.5h0M396.3 126.5h0M384.3 110.2h0M403.8 115.4h0M389.7 118.1h0M389.9 110.9h0M401.8 101.7h0M380.5 105.3h0M392.2 112.6h0M393.9 121.3h0M403.3 126.2h0M388.8 117.4h0M390.5 120.2h0M397.1 118.0h0M386.5 122.0h0M379.1 115.5h0M380.0 116.7h0M399.5 128.3h0M396.3 129.1h0M407.3 124.1h0M398.6 110.7h0M403.6 112.7h0M408.2 116.4h0M390.1 111.7h0M393.7 120.6h0M386.5 118.1h0M406.3 103.7h0M397.9 108.0h0M404.8 107.9h0M400.5 113.0h0M398.7 116.8h0M393.0 122.7h0M379.3 115.7h0M404.4 122.9h0M402.4 110.4h0M395.9 117.4h0M392.9 115.0h0M407.5 122.1h0M398.6 114.7h0M401.4 120.1h0M386.1 113.5h0M392.7 117.6h0M408.9 113.2h0M391.8 101.3h0M396.9 121.4h0M396.4 108.0h0M408.6 122.9h0M392.2 102.6h0M397.8 116.9h0M404.0 103.8h0M398.0 105.2h0M389.4 110.5h0M395.7 103.9h0M400.0 119.3h0M393.7 100.7h0M397.5 123.9h0M406.8 121.9h0M412.4 117.3h0M388.5 110.4h0M400.3 122.3h0M399.7 101.9h0M386.9 112.5h0M404.1 118.4h0M402.7 129.5h0M401.3 123.5h0M387.0 122.5h0M408.4 121.3h0M390.8 118.0h0M390.2 114.3h0M407.3 118.4h0M409.3 126.5h0M405.9 121.0h0M400.1 105.1h0M409.0 111.3h0M393.9 100.6h0M384.1 122.5h0M392.9 120.7h0M400.2 104.6h0M400.3 103.3h0M404.2 124.7h0M399.1 105.7h0M406.6 123.8h0M389.4 111.6h0M388.2 122.2h0M394.7 113.5h0M392.7 111.8h0M389.7 114.6h0M380.8 108.2h0M396.8 113.9h0M378.9 113.9h0M408.8 106.4h0M378.5 105.7h0M392.7 117.9h0M400.9 127.4h0M384.7 105.6h0M403.0 129.3h0M407.7 123.7h0M385.6 114.9h0M384.2 114.5h0M393.8 102.8h0M383.4 120.0h0M393.4 113.9h0M410.7 127.4h0M397.0 119.0h0M398.9 114.6h0M378.5 108.9h0M399.7 117.8h0M377.2 107.2h0M404.1 114.3h0M393.2 120.0h0M408.2 112.6h0M399.3 125.2h0M397.6 112.9h0M399.5 102.5h0M395.4 113.3h0M399.7 112.8h0M391.2 116.3h0M404.4 105.5h0M400.7 117.8h0M380.1 115.9h0M398.1 115.3h0M384.2 112.7h0M387.8 122.5h0M385.9 118.4h0M389.5 108.0h0M407.2 121.4h0M398.1 113.8h0M383.9 111.3h0M411.5 127.1h0M397.0 124.7h0M396.9 122.5h0M410.7 121.9h0M406.9 118.2h0M382.1 107.6h0M391.2 118.1h0M399.7 115.3h0M389.8 118.7h0M402.0 130.0h0M405.6 126.9h0M382.4 111.3h0M395.7 101.1h0M401.7 128.3h0M382.4 106.8h0M384.7 107.4h0M397.1 100.5h0M399.3 124.5h0M387.3 120.2h0M385.9 121.4h0M389.3 103.3h0M380.7 108.0h0M402.6 130.0h0M407.2 124.5h0M392.1 111.5h0M402.2 111.8h0M398.5 125.8h0M381.3 113.2h0M391.2 111.8h0M398.8 106.8h0M381.8 116.5h0M394.1 116.5h0M407.6 107.7h0M396.7 104.8h0M394.7 102.1h0M381.0 117.1h0M403.6 117.0h0M407.0 126.2h0M393.6 101.9h0M389.2 107.7h0M403.6 111.2h0M392.3 113.6h0M387.4 123.1h0M394.0 104.5h0M395.1 100.4h0M390.4 123.7h0M390.4 103.7h0M398.0 114.4h0M394.5 101.6h0M402.6 112.9h0M392.8 119.6h0M379.6 108.8h0M397.5 117.9h0M407.8 110.2h0M377.9 108.3h0M406.9 116.7h0M390.5 113.0h0M407.2 108.5h0M392.6 119.8h0M388.8 114.8h0M409.0 125.6h0M410.3 115.8h0M391.8 105.0h0M403.0 117.9h0M380.9 115.9h0M386.3 107.2h0M409.3 110.2h0M383.3 105.7h0M386.1 109.8h0M399.1 119.2h0M400.5 117.9h0M388.0 116.0h0M401.6 114.4h0M398.0 116.8h0M411.4 121.7h0M399.9 117.4h0M399.5 110.0h0M388.2 108.0h0M385.9 112.6h0M381.1 109.3h0M390.0 103.4h0M398.5 130.2h0M402.1 123.1h0M405.4 108.3h0M383.9 113.4h0M395.1 116.8h0M393.2 106.4h0M398.6 128.9h0M409.9 117.4h0M405.4 128.8h0M402.6 114.3h0M397.1 114.9h0M378.0 107.5h0M403.0 129.0h0M401.2 126.8h0M406.7 119.3h0M390.0 114.2h0M382.0 118.7h0M402.0 114.0h0M394.1 121.5h0M397.5 116.6h0M389.0 111.6h0M404.1 112.2h0M394.6 103.2h0M386.1 122.1h0M409.3 116.7h0M389.1 118.7h0M392.5 100.7h0M396.3 111.3h0M395.6 127.9h0M385.9 111.7h0M399.1 127.3h0M399.0 123.4h0M389.4 107.4h0M408.0 119.6h0M401.7 127.1h0M380.7 106.2h0M410.7 110.2h0M402.6 111.6h0M387.9 117.6h0M389.7 110.8h0M405.5 108.1h0M407.6 125.8h0M407.3 115.8h0M406.2 106.8h0M381.2 114.2h0M409.3 126.2h0M400.3 115.9h0M389.6 112.6h0M404.5 106.5h0M409.9 128.7h0M387.3 116.2h0M408.1 116.2h0M382.4 116.7h0M387.4 120.3h0M411.9 122.9h0M389.7 115.9h0M400.4 107.5h0M395.1 115.6h0M382.0 121.6h0M383.2 120.2h0M410.2 118.0h0M408.8 118.0h0M391.7 114.7h0M406.3 124.6h0M395.9 118.1h0M387.5 105.1h0M396.3 104.0h0M398.7 105.8h0M393.3 115.6h0M393.0 106.2h0M408.1 122.3h0M391.0 117.7h0M407.7 119.7h0M378.5 108.8h0M411.1 117.6h0M383.3 117.7h0M399.1 124.0h0M403.9 121.1h0M386.9 107.1h0M381.9 108.2h0M388.6 112.8h0M383.2 120.6h0M406.1 116.8h0M392.5 106.2h0M405.6 104.6h0M384.5 110.0h0M405.9 116.4h0M408.5 129.8h0M409.7 124.8h0M396.0 125.8h0M398.6 116.5h0M404.7 114.9h0M401.5 109.4h0M390.9 110.6h0M395.0 126.2h0M397.5 104.6h0M406.3 111.7h0M409.2 112.5h0M388.2 119.3h0M394.9 114.9h0M402.1 102.0h0M390.1 115.2h0M393.9 103.2h0M407.9 107.6h0M405.6 118.1h0M407.8 114.9h0M412.5 123.5h0M407.4 124.4h0M390.2 113.8h0M386.0 122.1h0M397.3 106.5h0M398.4 127.7h0M410.5 123.8h0M387.3 117.3h0M400.3 127.8h0M380.1 113.8h0M405.3 105.0h0M379.6 116.3h0M401.6 102.6h0M390.1 110.5h0M383.6 111.0h0M393.9 106.3h0M402.2 115.5h0M402.2 118.5h0M408.3 124.9h0M410.5 122.8h0M393.8 102.8h0M411.8 123.8h0M409.0 109.7h0M390.5 102.8h0M379.1 110.7h0M411.2 122.8h0M391.7 111.3h0M407.6 106.1h0M386.5 114.8h0M392.6 113.4h0M381.2 116.8h0M389.1 103.6h0M399.8 128.0h0M399.9 114.2h0M388.6 107.9h0M400.0 106.8h0M400.1 118.2h0M401.4 102.3h0M390.5 120.2h0M396.1 116.8h0M392.7 120.4h0M398.2 110.3h0M385.1 118.5h0M397.4 100.7h0M400.6 113.2h0M403.9 120.8h0M402.1 114.6h0M400.5 107.0h0M394.8 115.7h0M407.8 106.3h0M411.0 120.4h0M412.5 119.9h0M381.8 117.7h0M410.9 117.4h0M412.7 121.1h0M381.3 117.0h0M402.4 114.5h0M389.8 113.1h0M383.5 110.4h0M390.9 101.2h0M409.5 120.8h0M397.5 115.1h0M402.4 116.2h0M393.4 116.5h0M398.1 113.2h0M409.9 127.3h0M405.3 122.8h0M391.6 102.0h0M406.6 108.5h0M386.3 116.0h0M401.0 121.6h0M409.6 122.1h0M397.4 127.8h0M400.3 130.0h0M394.7 102.3h0M402.8 114.8h0M397.1 102.0h0M396.0 112.5h0M402.1 111.9h0M396.6 121.5h0M387.7 122.5h0M385.1 115.2h0M396.3 111.7h0M395.8 124.5h0M396.7 103.2h0M382.0 112.5h0M398.6 118.7h0M409.9 111.0h0M387.4 106.2h0M394.1 124.7h0M394.4 125.9h0M407.7 124.9h0M397.8 102.9h0M394.8 103.8h0M395.3 102.6h0M387.7 111.2h0M393.4 122.6h0M391.6 118.7h0M403.2 126.6h0M393.8 105.4h0M393.1 102.7h0M384.4 103.7h0M393.9 123.0h0M387.8 120.4h0M403.7 105.9h0M382.7 113.5h0M394.2 102.2h0M398.7 128.6h0M397.5 129.7h0M403.6 104.8h0M390.5 117.4h0M384.8 119.1h0M403.3 106.2h0M405.8 129.0h0M403.9 113.6h0M384.3 106.4h0M396.4 110.7h0M384.3 122.0h0M384.7 108.5h0M405.4 110.8h0M399.5 111.4h0M379.5 110.8h0M402.4 123.9h0M393.4 117.4h0M397.0 100.1h0M393.4 119.2h0M398.0 107.8h0M394.8 123.1h0M402.3 124.4h0M408.1 118.7h0M389.9 121.2h0M379.7 116.5h0M395.1 125.0h0M404.6 113.5h0M408.4 122.5h0M387.8 116.4h0M401.4 128.4h0M395.9 107.1h0M384.8 111.4h0M403.2 129.5h0M392.0 102.7h0M390.2 102.2h0M406.3 106.6h0M385.5 122.4h0M391.9 120.3h0M395.4 126.3h0M389.8 113.5h0M402.6 106.6h0M404.2 120.5h0M411.4 123.5h0M397.8 101.4h0M406.1 104.5h0M405.7 126.5h0M382.6 117.4h0M412.6 122.8h0M410.1 124.8h0M389.9 118.0h0M410.1 109.3h0M390.9 115.9h0M398.1 116.3h0M391.0 105.7h0M393.0 118.2h0M388.7 119.9h0M384.5 119.6h0M393.2 101.5h0M380.3 107.0h0M383.1 117.8h0M386.5 111.3h0M385.7 104.6h0M386.4 103.0h0M395.5 105.8h0M394.5 115.3h0M385.5 111.5h0M380.2 113.9h0M387.4 117.7h0M388.2 116.4h0M380.7 120.1h0M407.6 104.8h0M405.3 110.0h0M389.9 119.1h0M391.3 105.3h0M378.0 107.5h0M388.6 122.4h0M397.4 118.4h0M400.9 112.5h0M400.6 101.7h0M393.3 114.1h0M393.3 123.6h0M399.1 101.4h0M395.1 124.8h0M409.9 109.7h0M410.1 110.1h0M406.4 126.4h0M385.3 119.7h0M395.1 122.3h0M383.4 109.9h0M395.3 116.5h0M366.8 117.7h0M364.5 118.3h0M374.9 118.4h0M375.9 120.5h0M364.0 116.4h0M375.8 119.0h0M364.9 118.6h0M368.6 117.7h0M364.7 116.4h0M368.5 116.1h0M375.0 120.5h0M374.4 121.7h0M439.6 124.5h0M421.0 120.5h0M431.5 123.0h0M435.9 122.9h0M429.3 125.1h0M424.9 122.7h0M443.4 123.6h0M438.0 123.1h0M434.7 125.0h0M434.9 123.0h0M420.1 123.5h0M440.9 124.4h0M426.1 121.6h0M424.1 123.7h0M436.2 124.6h0M434.7 123.8h0M433.9 122.3h0M428.4 122.3h0M445.0 125.1h0M442.6 123.4h0M446.7 124.7h0M428.4 123.1h0M437.3 123.7h0M437.7 125.7h0M423.2 123.4h0M424.1 122.6h0M446.5 126.8h0M437.1 124.9h0M440.2 124.9h0M421.6 121.9h0M438.1 123.3h0M430.8 122.2h0M422.6 122.3h0M422.7 120.8h0M447.4 126.8h0M426.4 122.2h0M447.1 127.2h0M446.1 124.4h0M444.0 125.1h0M428.2 122.6h0M427.5 123.1h0M421.2 119.4h0M434.9 124.8h0M429.7 122.5h0M426.5 121.8h0M438.5 124.9h0M420.9 122.6h0M444.8 125.8h0M429.4 121.6h0M420.9 122.1h0M430.0 122.5h0M422.7 124.2h0M440.5 124.2h0M434.8 123.8h0M430.1 121.4h0M440.6 125.0h0M433.0 122.9h0M438.4 124.1h0M428.0 199.3h0"/>
<path stroke="#00BFC4" d="M368.7 136.6h0M367.5 137.5h0M366.2 136.3h0M371.2 135.7h0M379.1 132.4h0M373.9 135.0h0M376.6 135.4h0M371.5 138.9h0M363.9 135.4h0M367.5 137.2h0M375.5 135.8h0M368.4 136.5h0M364.5 136.6h0M376.0 133.0h0M378.3 134.5h0M369.5 135.6h0M362.5 138.7h0M371.3 136.5h0M379.5 133.9h0M370.8 134.5h0M371.0 136.4h0M370.4 134.6h0M371.2 137.1h0M377.0 132.3h0M368.4 135.5h0M371.7 137.2h0M378.2 135.4h0M371.3 135.5h0M369.3 138.7h0M365.6 138.8h0M367.9 137.9h0M362.3 140.2h0M371.2 133.9h0M369.4 135.9h0M373.0 136.6h0M373.6 135.8h0M378.4 132.4h0M369.8 135.8h0M369.4 135.4h0M371.3 135.2h0M366.3 136.4h0M368.6 136.8h0M369.8 137.0h0M375.1 135.7h0M378.1 133.7h0M362.3 136.7h0M377.1 133.7h0M362.1 135.1h0M376.2 135.3h0M371.5 137.4h0M368.1 138.0h0M373.4 136.2h0M365.5 137.8h0M363.4 138.4h0M372.0 135.9h0M364.8 136.1h0M368.0 137.2h0M378.2 132.8h0M380.6 136.2h0M373.7 136.1h0M364.5 137.2h0M380.0 132.8h0M381.6 140.3h0M383.5 134.6h0M380.1 139.5h0M377.5 143.4h0M379.5 152.2h0M378.6 150.7h0M378.5 155.6h0M378.2 153.7h0M382.1 134.0h0M378.4 152.3h0M380.8 135.9h0M379.6 147.3h0M379.1 150.5h0M380.1 138.3h0M380.2 147.5h0M379.0 154.2h0M381.8 135.1h0M378.6 147.6h0M379.8 148.1h0M381.0 139.8h0M380.1 151.4h0M381.5 138.2h0M379.7 146.5h0M381.3 134.3h0M378.3 151.1h0M380.8 141.5h0M380.8 137.7h0M377.5 154.4h0M377.4 149.7h0M381.4 140.3h0M379.0 155.5h0M381.7 136.5h0M378.0 149.3h0M382.6 138.6h0M380.4 137.7h0M380.7 134.2h0M379.1 143.9h0M376.7 154.9h0M380.9 135.6h0M380.6 138.7h0M378.6 145.0h0M378.2 153.8h0M377.6 149.0h0M379.5 146.9h0M381.8 137.7h0M378.1 136.2h0M380.6 137.2h0M380.8 144.6h0M378.7 153.4h0M379.4 139.0h0M380.8 147.1h0M378.0 147.1h0M380.6 134.7h0M380.2 133.8h0M382.0 133.9h0M381.5 139.4h0M380.1 141.4h0M380.9 144.0h0M380.8 134.0h0M380.7 146.7h0M379.7 150.1h0M379.1 156.2h0M379.7 148.2h0M393.5 130.7h0M382.2 132.4h0M387.5 132.1h0M383.6 133.3h0M383.1 131.9h0M393.0 129.4h0M388.1 133.4h0M388.2 132.0h0M386.6 132.6h0M382.3 132.9h0M394.2 131.9h0M382.0 132.8h0M384.9 131.2h0M390.0 130.0h0M390.4 131.3h0M388.6 129.2h0M388.5 130.3h0M390.6 130.9h0M384.8 135.0h0M388.6 131.9h0M393.2 130.4h0M393.5 129.5h0M386.5 130.9h0M387.3 132.0h0M393.8 130.2h0M388.3 132.8h0M385.9 133.8h0M392.3 131.2h0M382.1 132.1h0M391.0 130.8h0M384.4 134.1h0M383.3 132.3h0M383.0 123.5h0M383.4 126.8h0M382.7 129.2h0M384.2 125.7h0M384.9 127.5h0M384.5 126.7h0M383.1 132.0h0M381.3 129.9h0M383.1 128.3h0M382.2 124.9h0M380.1 129.9h0M383.3 126.1h0M383.6 132.3h0M383.4 134.0h0M383.3 132.7h0M381.9 133.3h0M383.1 131.1h0M382.6 129.2h0M382.6 130.3h0M382.6 129.4h0M384.0 133.8h0M383.8 125.0h0M384.6 129.8h0M381.4 131.7h0M382.3 129.3h0M383.5 127.6h0M388.9 140.5h0M389.5 140.3h0M390.8 141.4h0M383.4 133.4h0M389.2 138.8h0M383.9 134.6h0M384.9 137.5h0M386.8 138.5h0M392.3 141.7h0M382.8 135.5h0M392.5 140.1h0M381.5 134.1h0M390.9 141.3h0M384.8 134.8h0M387.6 138.9h0M387.1 137.8h0M392.2 141.8h0M383.0 134.4h0M386.6 137.2h0M387.2 138.7h0M390.1 138.7h0M384.1 134.1h0M383.2 136.1h0M380.6 133.8h0M379.6 136.1h0M380.0 135.1h0M381.0 133.5h0M381.1 134.1h0M380.3 133.9h0M382.2 131.3h0M381.2 136.0h0M381.1 134.4h0M379.0 132.8h0M380.2 135.5h0M381.4 133.2h0M380.0 132.2h0M379.3 133.8h0M381.2 133.7h0M381.0 134.4h0M380.5 131.6h0M381.9 132.5h0M381.4 133.0h0M379.6 136.2h0M379.7 135.9h0M383.2 133.6h0M382.5 132.9h0M380.9 134.9h0M384.1 132.5h0M379.6 133.7h0M382.9 131.9h0"/>
<path stroke="#00C094" d="M422.0 125.0h0M422.2 124.0h0M427.2 128.9h0M430.5 129.5h0M427.7 128.2h0M427.5 127.4h0M426.7 127.3h0M427.0 126.3h0M426.9 127.3h0M427.2 127.0h0M426.4 126.4h0M428.9 129.5h0M430.4 130.5h0M422.0 124.6h0M426.0 128.4h0M451.7 155.2h0M452.9 154.8h0M457.8 163.8h0M451.0 153.5h0M445.2 145.1h0M444.6 146.2h0M455.5 157.8h0M450.6 151.8h0M444.4 147.1h0M456.0 157.3h0M453.6 159.2h0M453.4 159.3h0M458.1 165.7h0M448.6 152.4h0M442.7 144.6h0M443.8 143.8h0M450.0 148.7h0M447.6 149.7h0M442.1 144.9h0M456.7 160.8h0M444.2 144.2h0M452.9 156.0h0M459.8 164.6h0M451.6 155.8h0M445.7 147.2h0M450.6 151.0h0M447.7 149.0h0M449.6 153.7h0M442.6 145.6h0M457.9 164.9h0M446.1 146.7h0M449.0 151.9h0M450.2 157.4h0M459.9 164.9h0M453.3 155.7h0M446.9 147.5h0M457.5 162.0h0M459.0 164.1h0M454.5 160.8h0M447.5 150.6h0M453.6 159.1h0M449.1 154.0h0M452.5 155.1h0M451.1 153.8h0M451.0 155.7h0M450.3 154.2h0M456.7 161.1h0M447.9 152.0h0M459.8 165.1h0M466.8 165.1h0M471.0 163.7h0M475.8 164.4h0M475.8 170.7h0M475.1 151.2h0M478.0 154.7h0M482.1 158.2h0M483.5 157.5h0M481.5 157.0h0M397.7 147.8h0M401.9 147.8h0M408.2 151.3h0M409.0 151.2h0M422.8 153.4h0M428.4 145.0h0M432.6 133.2h0M431.5 133.0h0"/>
<path stroke="#99A800" d="M505.3 216.7h0M507.6 188.5h0M500.4 220.0h0M510.4 184.1h0M511.2 209.1h0M497.5 213.7h0M471.8 201.9h0M506.3 193.6h0M508.5 203.9h0M473.2 202.3h0M504.2 201.0h0M486.2 206.9h0M505.0 217.7h0M509.1 192.0h0M477.5 194.5h0M513.1 180.5h0M517.1 206.1h0M496.1 202.9h0M492.1 215.0h0M474.3 209.4h0M501.5 187.3h0M512.9 204.8h0M510.9 195.4h0M514.4 214.5h0M489.7 188.6h0M507.6 192.5h0M477.2 198.3h0M502.3 200.2h0M507.7 177.0h0M492.1 202.1h0M516.5 211.4h0M472.8 203.2h0M481.5 199.8h0M507.7 178.8h0M498.0 208.3h0M512.5 208.7h0M513.7 196.4h0M477.4 210.2h0M493.6 209.8h0M491.3 190.3h0M518.4 201.3h0M497.1 179.9h0M495.5 221.6h0M516.2 189.9h0M516.4 193.2h0M478.4 196.0h0M513.6 212.7h0M488.2 193.3h0M503.8 173.0h0M484.0 204.3h0M495.5 215.3h0M502.2 167.9h0M469.2 208.2h0M501.4 207.2h0M518.1 202.3h0M503.8 199.3h0M493.2 177.8h0M518.8 204.4h0M506.6 183.4h0M491.4 197.3h0M503.7 193.2h0M472.2 207.9h0M499.0 200.0h0M511.6 184.6h0M517.6 206.6h0M487.4 201.4h0M490.8 209.3h0M512.0 213.7h0M500.0 199.9h0M464.9 202.1h0M510.6 186.3h0M513.8 214.6h0M503.1 187.1h0M466.9 200.2h0M495.0 167.9h0M496.3 167.6h0M492.5 197.7h0M505.8 186.3h0M498.2 202.6h0M489.1 218.1h0M487.5 205.7h0M487.3 188.8h0M501.3 198.0h0M498.6 202.4h0M507.3 198.1h0M504.0 209.4h0M462.1 203.3h0M510.7 178.3h0M489.0 192.0h0M494.1 175.1h0M481.7 213.7h0M474.8 197.6h0M502.2 173.1h0M516.7 190.6h0M466.8 201.8h0M475.5 199.1h0M505.5 171.6h0M484.6 191.5h0M496.6 176.6h0M503.5 179.3h0M501.4 196.9h0M501.7 168.6h0M501.5 184.4h0M472.8 199.6h0M474.2 204.8h0M500.0 212.3h0M492.5 209.0h0M493.2 211.8h0M510.2 186.5h0M509.4 181.2h0M494.3 203.7h0M501.8 206.1h0M501.9 178.0h0M511.3 207.0h0M510.2 179.5h0M510.5 194.1h0M497.6 214.5h0M480.9 194.0h0M489.7 198.0h0M462.9 197.2h0M499.8 213.1h0M500.8 212.6h0M499.5 171.4h0M510.1 193.2h0M485.4 213.9h0M502.4 202.4h0M508.8 193.2h0M481.0 204.3h0M468.5 206.2h0M478.8 203.8h0M517.5 191.8h0M485.8 193.4h0M498.4 206.2h0M476.2 204.3h0M468.8 195.8h0M462.7 197.2h0M498.7 198.2h0M495.3 180.8h0M513.9 204.7h0M514.0 181.9h0M504.6 210.3h0M468.3 200.4h0M519.8 205.0h0M482.1 201.5h0M490.4 201.5h0M493.9 217.7h0M505.1 186.1h0M505.0 203.5h0M473.8 203.9h0M493.5 173.3h0M493.0 195.2h0M490.3 211.7h0M501.6 216.3h0M484.5 215.1h0M519.5 199.3h0M489.4 195.0h0M503.5 186.9h0M495.6 166.1h0M475.0 207.4h0M492.0 208.7h0M487.3 199.6h0M498.2 165.3h0M489.9 205.9h0M506.7 178.2h0M487.3 196.3h0M506.4 201.8h0M502.6 215.8h0M501.6 210.2h0M502.2 185.2h0M507.5 177.6h0M509.0 204.4h0M503.3 190.2h0M507.7 191.2h0M462.6 203.8h0M489.0 193.2h0M477.6 202.9h0M506.6 187.0h0M487.0 193.7h0M510.1 183.2h0M492.6 181.8h0M484.7 204.2h0M487.1 184.5h0M489.7 217.4h0M481.5 202.1h0M489.9 210.6h0M490.5 219.3h0M498.8 199.9h0M463.2 199.9h0M501.7 204.4h0M494.8 183.0h0M498.2 195.0h0M500.0 183.8h0M469.4 197.9h0M509.6 185.2h0M464.6 202.0h0M482.5 188.8h0M508.9 217.4h0M517.5 205.1h0M490.4 214.7h0M513.4 194.6h0M511.6 203.2h0M492.0 185.7h0M504.5 219.1h0M510.1 183.0h0M492.2 186.8h0M499.5 206.2h0M487.2 186.6h0M498.5 201.3h0M464.5 203.4h0M480.0 206.3h0M495.2 215.1h0M509.6 204.9h0M500.4 188.8h0M496.0 163.7h0M504.1 175.5h0M480.9 199.7h0M509.3 198.1h0M501.8 206.2h0M508.8 189.3h0M505.7 186.4h0M467.5 198.9h0M515.9 211.1h0M500.3 205.2h0M515.1 189.9h0M511.5 180.9h0M483.1 191.5h0M488.2 193.9h0M502.5 194.5h0M504.1 175.3h0M487.6 190.7h0M478.6 191.2h0M465.5 196.9h0M498.3 195.3h0M507.1 213.4h0M498.0 189.8h0M469.4 201.8h0M518.3 203.5h0M492.1 193.7h0M481.8 192.8h0M502.4 182.7h0M500.5 173.9h0M493.9 190.9h0M506.0 217.6h0M476.1 198.1h0M484.9 194.4h0M478.0 194.1h0M496.4 197.1h0M477.3 200.9h0M509.6 206.8h0M517.5 191.5h0M505.7 201.6h0M480.8 206.5h0M501.9 180.2h0M488.7 204.0h0M508.1 188.2h0M487.6 192.5h0M511.4 217.1h0M506.4 213.0h0M512.5 205.8h0M493.9 200.6h0M510.6 192.5h0M504.3 179.9h0M488.2 206.2h0M476.7 203.6h0M490.1 195.2h0M493.3 186.9h0M505.9 170.9h0M508.7 199.4h0M506.7 219.2h0M510.7 206.1h0M506.1 187.8h0M498.3 172.3h0M518.3 197.8h0M498.0 184.2h0M500.3 218.2h0M506.1 171.2h0M493.9 171.4h0M516.8 208.8h0M471.5 208.4h0M487.2 188.7h0M511.3 193.3h0M466.5 195.2h0M490.3 194.3h0M488.1 196.1h0M514.2 203.2h0M499.4 186.6h0M517.6 207.4h0M466.2 207.4h0M503.1 214.5h0M494.8 207.1h0M498.8 200.5h0M496.5 174.6h0M506.2 171.7h0M504.2 191.2h0M496.2 214.7h0M483.2 197.7h0M496.0 214.7h0M513.5 201.5h0M494.7 169.4h0M479.9 201.5h0M497.3 212.8h0M496.3 186.2h0M497.2 219.3h0M487.9 187.4h0M516.2 208.8h0M488.2 184.9h0M468.0 204.6h0M512.9 186.0h0M508.1 219.0h0M471.8 207.4h0M506.0 199.0h0M501.4 208.3h0M481.6 212.2h0M475.9 194.1h0M486.6 193.9h0M501.4 214.4h0M485.9 208.6h0M499.6 177.1h0M494.7 216.4h0M507.1 183.8h0M516.6 197.8h0M479.9 192.4h0M490.1 213.1h0M476.6 210.0h0M501.3 199.3h0M501.3 214.3h0M507.9 199.4h0M484.8 194.7h0M491.2 203.5h0M481.0 209.0h0M502.0 189.1h0M511.2 189.3h0M469.2 199.9h0M467.6 205.5h0M499.8 212.4h0M496.5 169.8h0M505.7 193.8h0M485.4 215.6h0M501.2 210.3h0M492.0 188.3h0M481.7 197.4h0M504.6 172.1h0M485.6 201.6h0M496.5 192.7h0M517.2 209.2h0M495.4 203.4h0M495.2 214.4h0M493.9 200.5h0M505.1 208.8h0M495.0 175.0h0M508.9 211.5h0M510.2 205.5h0M494.8 207.7h0M501.3 186.3h0M473.1 198.5h0M498.3 199.7h0M505.9 206.9h0M496.5 203.0h0M512.2 195.3h0M499.8 189.1h0M506.7 191.2h0M482.7 191.0h0M502.8 210.2h0M492.0 214.3h0M465.5 201.9h0M508.5 217.0h0M512.8 209.8h0M513.9 196.6h0M506.7 183.9h0M504.9 216.6h0M493.2 177.9h0M490.9 199.4h0M503.3 181.7h0M481.7 198.3h0M472.4 202.3h0M485.5 199.6h0M499.7 166.8h0M481.6 204.6h0M513.5 200.5h0M489.0 211.8h0M502.3 195.0h0M499.9 170.3h0M463.2 200.0h0M470.7 198.7h0M504.8 207.4h0M505.0 195.8h0M480.4 193.9h0M505.3 182.3h0M463.4 195.9h0M468.8 200.7h0M495.4 209.8h0M494.4 190.6h0M509.1 204.7h0M509.7 175.2h0M496.8 199.9h0M489.5 188.1h0M494.0 199.8h0M510.8 205.9h0M479.7 204.5h0M496.4 183.2h0M491.5 185.4h0M477.4 195.2h0M482.8 203.3h0M473.9 209.5h0M483.3 191.8h0M489.1 198.5h0M510.8 193.4h0M494.7 189.2h0M478.4 192.4h0M478.1 194.3h0M481.2 209.2h0M481.7 200.2h0M469.4 200.8h0M506.8 180.4h0M509.8 211.9h0M494.3 218.5h0M489.3 189.9h0M498.2 192.2h0M496.7 175.0h0M492.6 209.5h0M495.2 194.1h0M459.6 198.5h0M476.3 192.5h0M499.2 213.5h0M504.8 184.7h0M503.0 190.7h0M468.9 201.9h0M497.2 182.4h0M499.9 169.4h0M484.2 207.8h0M503.8 204.4h0M483.0 200.3h0M463.0 198.0h0M485.3 188.2h0M503.8 186.0h0M479.5 204.6h0M513.8 195.5h0M508.9 207.2h0M505.6 169.9h0M492.1 209.8h0M503.9 181.2h0M491.4 194.2h0M481.3 208.7h0M502.4 208.5h0M496.4 191.6h0M508.6 199.5h0M501.5 212.8h0M490.4 192.5h0M486.9 202.7h0M500.6 216.0h0M500.8 197.0h0M511.5 212.0h0M499.3 209.6h0M505.7 182.7h0M467.7 197.0h0M481.1 211.8h0M498.9 208.6h0M495.0 176.1h0M459.5 200.6h0M509.6 209.5h0M487.7 211.0h0M504.1 212.0h0M487.3 198.1h0M514.8 194.9h0M516.4 192.0h0M512.1 199.8h0M461.8 203.9h0M495.6 181.9h0M495.3 172.4h0M515.2 202.3h0M504.5 212.6h0M493.8 198.5h0M505.0 196.3h0M479.4 206.4h0M495.5 168.4h0M506.1 171.0h0M473.3 198.5h0M505.2 204.6h0M463.8 200.0h0M508.2 173.1h0M489.6 196.9h0M495.1 175.7h0M501.1 196.4h0M499.5 187.6h0M491.7 203.5h0M467.8 200.9h0M464.6 204.2h0M494.6 171.3h0M503.2 187.9h0M502.0 211.4h0M475.9 203.4h0M481.7 201.1h0M499.9 214.7h0M482.1 209.0h0M472.3 202.4h0M495.5 194.5h0M482.3 205.6h0M500.7 169.5h0M515.1 200.4h0M482.6 197.6h0M479.3 210.4h0M509.9 217.3h0M473.3 209.0h0M461.7 197.8h0M479.7 198.4h0M479.4 202.3h0M503.1 217.7h0M468.4 197.0h0M507.8 173.3h0M509.5 180.8h0M485.7 205.1h0M462.1 202.5h0M510.7 218.7h0M493.5 204.4h0M460.1 202.2h0M486.3 190.3h0M486.8 213.1h0M489.2 184.8h0M482.3 209.6h0M491.8 186.9h0M494.6 186.4h0M482.7 193.7h0M488.1 205.0h0M506.9 184.7h0M497.5 217.3h0M504.1 183.8h0M505.7 210.6h0M508.6 210.9h0M478.2 195.8h0M482.1 206.2h0M477.3 192.5h0M499.1 191.8h0M503.1 168.2h0M507.9 177.4h0M499.9 220.0h0M478.3 209.8h0M511.5 210.6h0M514.1 182.2h0M473.8 206.8h0M511.1 179.2h0M509.3 205.6h0M491.8 219.8h0M514.5 181.2h0M503.5 216.9h0M476.4 199.3h0M487.1 216.5h0M472.8 200.4h0M498.4 210.9h0M506.7 210.1h0M465.3 195.8h0M476.7 198.8h0M501.2 208.2h0M496.3 219.9h0M484.7 200.1h0M514.8 205.7h0M506.2 193.6h0M502.0 214.5h0M485.2 211.9h0M486.0 207.3h0M508.5 216.1h0M509.2 210.3h0M514.6 189.0h0M506.9 206.1h0M495.8 163.6h0M489.5 182.7h0M498.1 188.0h0M512.4 181.5h0M458.2 198.9h0M512.7 216.8h0M499.3 191.3h0M501.9 188.3h0M482.0 199.7h0M480.4 197.8h0M505.8 209.5h0M493.6 217.7h0M493.7 184.8h0M503.6 187.6h0M512.9 188.3h0M487.8 204.4h0M488.3 183.0h0M506.4 216.3h0M512.4 179.7h0M487.5 199.1h0M519.2 200.2h0M486.4 204.5h0M474.2 208.6h0M502.6 215.1h0M492.0 196.3h0M496.7 204.8h0M503.2 187.6h0M492.4 196.7h0M488.9 196.1h0M475.9 194.3h0M485.0 205.6h0M494.1 174.8h0M467.8 197.9h0M493.2 199.7h0M507.9 212.6h0M489.1 189.3h0M489.8 187.1h0M496.1 184.7h0M478.6 209.4h0M500.8 210.3h0M509.4 177.5h0M490.6 205.3h0M508.7 178.1h0M506.6 216.8h0M469.1 208.0h0M508.4 182.2h0M474.2 199.7h0M476.0 205.3h0M497.0 192.5h0M505.6 190.6h0M494.8 172.3h0M508.9 205.7h0M510.5 177.1h0M475.5 200.4h0M494.1 211.0h0M465.0 204.5h0M510.6 179.8h0M469.4 206.9h0M488.7 207.7h0M511.3 211.4h0M487.0 200.4h0M506.2 177.8h0M507.2 174.4h0M469.7 197.2h0M507.4 216.6h0M513.5 206.2h0M498.6 208.0h0M488.5 186.9h0M489.1 195.6h0M491.8 191.6h0M508.2 199.8h0M491.3 182.5h0M515.0 215.7h0M510.8 178.0h0M498.5 176.1h0M513.0 179.7h0M479.0 202.1h0M511.5 184.5h0M490.5 219.1h0M497.3 194.4h0M511.5 190.5h0M510.0 185.4h0M513.3 183.9h0M493.8 174.0h0M490.4 204.6h0M502.4 178.8h0M497.9 167.3h0M461.3 203.8h0M488.4 184.0h0M473.3 197.5h0M464.4 200.1h0M504.6 174.3h0M479.4 205.8h0M504.1 170.6h0M505.5 173.0h0M517.0 205.7h0M478.0 210.9h0M502.2 181.3h0M483.2 210.5h0M500.3 208.7h0M504.4 220.4h0M480.1 191.8h0M498.4 177.0h0M496.2 179.9h0M511.3 191.4h0M495.6 173.2h0M485.1 199.8h0M504.2 182.7h0M495.7 166.4h0M510.2 207.1h0M495.1 210.4h0M460.8 201.0h0M487.8 201.4h0M467.3 201.5h0M477.8 209.5h0M493.4 173.8h0M505.8 197.2h0M479.0 206.2h0M475.9 209.0h0M495.4 179.7h0M473.2 203.7h0M515.3 198.8h0M496.4 198.8h0M501.4 217.9h0M496.5 202.3h0M465.8 203.6h0M491.5 194.8h0M474.6 193.0h0M502.2 215.0h0M516.3 203.6h0M498.7 178.8h0M482.2 194.9h0M510.4 184.1h0M479.7 209.4h0M501.9 176.7h0M493.4 197.9h0M475.9 200.8h0M490.8 187.1h0M500.4 173.9h0M514.0 193.6h0M490.9 198.4h0M499.8 221.2h0M492.1 206.6h0M493.7 217.8h0M490.1 201.0h0M480.6 212.7h0M472.2 202.0h0M492.3 185.3h0M485.3 201.3h0M507.6 180.0h0M511.7 180.2h0M497.8 187.4h0M502.5 174.9h0M489.2 189.6h0M511.7 179.9h0M469.3 200.0h0M496.1 220.0h0M497.6 187.5h0M513.9 182.5h0M490.3 219.3h0M481.4 192.3h0M488.9 187.2h0M507.7 174.1h0M493.1 194.5h0M505.0 199.1h0M510.3 190.8h0M514.2 209.2h0M501.5 196.5h0M463.8 204.0h0M502.9 175.9h0M494.8 189.4h0M464.3 199.2h0M499.3 200.4h0M484.2 194.7h0M486.5 205.5h0M501.0 189.0h0M502.8 184.9h0M502.9 219.3h0M505.9 173.6h0M473.0 202.5h0M511.7 208.2h0M493.3 175.0h0M513.7 185.5h0M500.4 204.6h0M482.3 196.9h0M506.0 193.9h0M477.6 209.3h0M513.3 202.2h0M500.6 209.2h0M515.7 202.4h0M508.0 210.1h0M510.0 193.5h0M501.1 184.3h0M511.5 207.0h0M498.1 192.4h0M510.6 208.3h0M490.7 186.6h0M490.9 187.7h0M491.2 179.6h0M505.9 191.6h0M508.8 213.2h0M503.5 215.6h0M506.6 208.5h0M486.1 194.0h0M502.9 209.1h0M498.4 178.0h0M506.5 216.9h0M511.8 203.8h0M490.5 194.5h0M488.1 197.2h0M512.9 209.7h0M497.0 185.5h0M516.5 204.4h0M502.2 202.7h0M503.1 207.5h0M489.8 194.8h0M490.3 208.4h0M490.9 193.3h0M492.5 189.0h0M514.7 187.4h0M504.3 205.6h0M509.8 184.5h0M496.0 216.7h0M508.8 199.6h0M496.0 178.2h0M499.6 203.2h0M488.0 198.0h0M487.3 202.3h0M502.5 213.0h0M502.9 203.1h0M513.2 200.5h0M504.1 211.1h0M507.7 181.7h0M502.7 215.8h0M505.9 212.6h0M496.7 192.5h0M508.4 181.3h0M497.7 199.3h0M504.4 182.2h0M501.3 200.2h0M512.7 192.6h0M512.1 192.8h0M505.9 194.2h0M509.1 178.9h0M501.7 199.3h0M487.8 194.9h0M514.3 205.9h0M500.4 186.7h0M494.4 184.5h0M511.5 188.8h0M496.0 212.3h0M506.2 203.1h0M503.8 189.8h0M496.6 214.4h0M499.6 208.3h0M489.7 211.7h0M504.5 173.4h0M493.1 205.2h0M488.7 206.4h0M498.8 201.9h0M508.4 208.2h0M506.8 216.3h0M499.4 196.8h0M487.2 208.8h0M490.7 189.8h0M501.8 175.1h0M508.6 187.4h0M513.4 212.2h0M504.7 212.7h0M511.9 188.3h0M509.5 177.4h0M493.8 187.5h0M504.0 210.3h0M498.7 216.4h0M501.8 183.4h0M498.3 203.7h0M510.2 195.2h0M489.9 195.3h0M511.2 212.8h0M487.7 188.9h0M505.4 216.6h0M486.5 199.6h0M491.7 201.4h0M495.0 172.7h0M501.2 177.4h0M490.6 200.7h0M512.6 192.3h0M500.4 190.0h0M507.8 191.4h0M507.8 209.0h0M486.3 196.7h0M496.2 194.4h0M492.8 176.2h0M500.5 176.8h0M517.5 199.8h0M504.9 190.0h0M489.6 207.1h0M512.8 198.4h0M496.3 181.4h0M491.5 212.0h0M495.2 190.8h0M515.2 210.0h0M493.5 181.9h0M504.5 195.7h0M502.3 187.8h0M487.1 194.2h0M508.0 212.7h0M507.4 199.1h0M502.4 200.1h0M487.8 191.0h0M509.8 187.2h0M500.3 172.2h0M506.3 185.3h0M513.1 190.5h0M512.6 198.7h0M501.8 209.1h0M514.8 199.7h0M493.0 196.9h0M501.9 173.6h0M514.0 207.2h0M506.4 210.7h0M504.6 175.3h0M498.3 197.6h0M504.3 207.8h0M515.9 206.8h0M493.7 181.6h0M500.2 173.3h0M502.3 183.4h0M492.6 189.2h0M506.5 197.5h0M506.5 182.3h0M493.6 198.5h0M493.8 210.4h0M496.2 172.5h0M497.8 190.5h0M496.5 182.1h0M503.2 201.8h0M506.7 211.7h0M498.2 194.4h0M514.6 204.9h0M496.7 184.7h0M510.8 182.3h0M495.5 197.2h0M504.6 214.7h0M505.6 198.4h0M499.5 197.3h0M493.7 195.6h0M513.7 198.7h0M501.2 182.8h0M496.4 182.5h0M493.3 208.7h0M506.2 208.6h0M505.3 183.7h0M505.8 185.6h0M498.6 190.1h0M499.1 204.1h0M517.3 200.7h0M492.5 194.7h0M492.9 186.0h0M506.9 187.3h0M513.8 211.9h0M489.7 202.1h0M513.7 201.8h0M494.1 174.7h0M510.0 206.4h0M499.9 202.8h0M508.7 215.7h0M493.9 208.5h0M485.8 205.1h0M491.9 208.7h0M501.6 208.7h0M498.5 192.3h0M493.5 199.9h0M490.5 193.6h0M498.7 217.3h0M497.7 212.9h0M511.5 191.8h0M501.4 186.2h0M491.2 199.5h0M500.9 175.0h0M502.2 179.3h0M507.3 188.2h0M504.0 190.2h0M501.6 190.8h0M508.3 187.2h0M511.6 205.9h0M494.1 191.0h0M497.7 180.5h0M505.7 214.7h0M495.9 215.8h0M512.9 191.0h0M492.8 191.8h0M511.3 190.7h0M493.2 202.1h0M499.9 205.9h0M516.9 208.4h0M509.9 206.1h0M494.0 179.6h0M489.1 185.8h0M494.0 207.3h0M502.0 190.1h0M497.5 206.2h0M501.6 173.9h0M496.2 212.8h0M495.1 197.6h0M508.5 182.0h0M489.0 187.4h0M508.4 187.0h0M507.7 199.9h0M497.2 197.0h0M503.5 179.4h0M517.6 200.5h0M503.7 181.3h0M512.0 180.8h0M503.2 192.9h0M507.6 201.2h0M497.7 189.6h0M497.2 217.1h0M502.6 216.6h0M517.2 202.6h0M508.6 209.7h0M496.9 178.6h0M499.8 183.8h0M504.9 184.1h0M494.2 202.9h0M488.3 209.8h0M505.3 204.6h0M502.3 190.0h0M489.7 207.9h0M497.9 207.4h0M505.1 180.3h0M512.3 210.2h0M514.8 202.5h0M495.5 210.0h0M492.8 193.5h0M508.2 177.2h0M495.5 184.1h0M490.3 200.5h0M505.4 214.9h0M486.4 201.8h0M495.7 174.3h0M507.5 189.1h0M501.5 198.5h0M511.4 189.9h0M514.4 187.7h0M489.1 212.5h0M511.1 189.1h0M492.7 211.3h0M494.6 177.6h0M491.1 202.6h0M505.1 175.6h0M515.7 196.6h0M504.4 185.7h0M491.7 179.8h0M511.8 194.6h0M509.7 187.7h0M514.5 206.1h0M493.9 195.5h0M490.7 209.5h0M491.2 184.0h0M501.7 183.0h0M509.5 189.2h0M491.1 206.2h0M512.8 188.5h0M514.7 188.3h0M491.2 199.9h0M503.3 199.5h0M509.7 202.1h0M488.1 194.8h0M511.4 182.8h0M504.7 200.2h0M501.0 203.3h0M506.2 204.2h0M502.4 173.7h0M511.2 206.3h0M492.4 179.9h0M513.0 188.9h0M501.7 185.2h0M493.2 177.9h0M502.6 208.9h0M511.7 212.4h0M507.3 180.6h0M507.3 190.4h0M494.1 181.1h0M493.9 213.0h0M499.3 204.2h0M490.4 185.8h0M496.8 182.1h0M502.2 189.2h0M518.0 195.5h0M499.7 185.5h0M500.0 187.0h0M513.8 207.3h0M511.7 213.9h0M497.9 192.9h0M493.7 208.3h0M506.4 205.2h0M510.4 206.2h0M505.2 187.4h0M502.0 198.0h0M507.3 175.8h0M511.8 190.5h0M509.1 209.4h0M499.5 199.9h0M498.2 194.9h0M505.5 179.6h0M513.8 210.1h0M495.7 207.3h0M507.3 182.1h0M506.0 185.7h0M499.6 180.9h0M496.1 216.1h0M503.4 206.1h0M507.0 177.6h0M513.4 191.9h0M514.0 182.8h0M487.9 203.9h0M508.6 176.4h0M509.8 198.1h0M513.2 182.2h0M500.9 202.9h0M500.0 193.0h0M500.5 209.3h0M513.2 188.6h0M488.0 197.5h0M493.2 203.9h0M499.4 209.2h0M509.9 195.7h0M491.6 203.8h0M499.6 184.9h0M496.6 200.4h0M511.6 181.3h0M516.5 207.3h0M494.7 177.3h0M516.3 200.0h0M509.1 197.0h0M493.3 210.4h0M513.1 207.3h0M512.0 202.9h0M493.6 194.8h0M503.7 175.6h0M489.9 194.2h0M489.6 201.6h0M504.2 215.1h0M502.8 202.2h0M510.2 193.2h0M511.4 212.5h0M507.9 183.7h0M497.7 179.5h0M513.8 186.7h0M510.1 192.4h0M495.2 205.3h0M504.5 205.0h0M516.6 199.1h0M498.2 199.3h0M513.8 205.3h0M505.4 198.2h0M500.4 198.4h0M499.2 186.6h0M511.7 195.6h0M515.6 198.8h0M486.6 207.7h0M512.7 210.2h0M499.2 196.9h0M513.6 202.6h0M513.3 211.3h0M502.5 183.9h0M508.3 213.4h0M491.7 178.5h0M492.0 190.9h0M486.2 201.2h0M490.8 212.7h0M505.0 184.5h0M488.3 198.4h0M514.3 190.1h0M486.6 193.2h0M514.4 183.9h0M515.3 205.0h0M488.0 190.5h0M490.0 199.9h0M485.2 196.7h0M513.2 201.5h0M493.1 180.8h0M505.8 185.6h0M514.3 184.2h0M496.7 188.8h0M509.4 195.0h0M485.7 203.0h0M497.8 181.8h0M504.4 182.7h0M513.8 209.3h0M506.4 193.7h0M490.2 210.9h0M496.6 183.7h0M505.8 207.7h0M515.4 209.5h0M513.2 194.7h0M505.2 199.4h0M502.3 199.7h0M502.0 193.7h0M511.9 201.0h0M510.0 188.0h0M505.4 187.7h0M507.7 201.3h0M497.1 178.2h0M490.8 205.1h0M492.2 199.5h0"/>
<path stroke="#DF70F8" d="M354.6 243.9h0M363.3 245.7h0M380.4 243.6h0M373.0 243.2h0M366.0 245.6h0M348.4 231.9h0M347.0 219.2h0M354.1 237.0h0M347.7 231.7h0M363.5 244.8h0M357.4 243.9h0M360.8 246.8h0M359.0 243.6h0M361.1 245.9h0M345.8 219.3h0M352.6 239.2h0M357.9 245.1h0M349.0 233.9h0M348.8 230.9h0M348.1 222.2h0M354.1 240.9h0M349.8 230.1h0M348.1 233.6h0M345.8 219.2h0M361.8 245.2h0M350.5 233.9h0M344.9 220.5h0M366.1 245.6h0M353.9 237.4h0M349.1 224.7h0M369.8 245.3h0M366.9 244.5h0M353.2 240.1h0M353.9 242.6h0M349.1 223.5h0M354.1 237.6h0M352.4 238.2h0M369.3 245.1h0M348.5 223.7h0M376.7 241.6h0M348.1 224.3h0M350.3 235.0h0M352.0 237.9h0M374.8 242.8h0M349.3 232.7h0M370.7 243.0h0M350.7 235.8h0M354.9 240.3h0M375.1 241.8h0M372.5 243.6h0M349.5 232.3h0M375.2 244.1h0M347.0 229.7h0M359.6 241.7h0M358.8 243.5h0M370.6 246.0h0M350.3 233.7h0M345.6 219.5h0M379.1 240.8h0M343.0 218.2h0M351.8 236.7h0M373.4 243.1h0M347.7 230.3h0M352.5 237.5h0M348.9 233.0h0M353.1 239.3h0M349.4 233.3h0M357.1 243.3h0M371.2 243.6h0M372.5 241.0h0M373.8 241.5h0M347.5 222.1h0M356.3 242.6h0M370.0 243.6h0M365.3 245.9h0M350.6 235.6h0M347.4 228.1h0M367.5 246.4h0M377.2 243.8h0M374.9 242.3h0M348.7 231.7h0M378.0 241.0h0M345.8 222.0h0M375.0 242.9h0M377.6 240.6h0M357.8 240.5h0M368.0 244.8h0M377.3 241.2h0M367.4 243.8h0M349.8 221.7h0M349.1 231.4h0M348.8 231.6h0M347.0 219.9h0M348.5 225.0h0M368.2 246.0h0M363.2 244.2h0M348.7 222.9h0M357.4 245.2h0M376.6 240.1h0M349.3 229.3h0M367.5 245.2h0M348.1 232.6h0M349.8 239.0h0M343.0 219.3h0M364.8 245.0h0M351.8 238.7h0M348.6 229.8h0M356.1 240.5h0M355.7 238.8h0M366.8 244.7h0M352.5 237.3h0M379.1 238.3h0M349.5 229.8h0M350.7 229.7h0M354.1 240.8h0M374.7 242.9h0M353.9 238.3h0M358.8 241.4h0M358.4 243.1h0M363.0 242.3h0M362.4 245.5h0M376.8 242.3h0M350.4 225.2h0M380.5 241.2h0M343.9 218.6h0M374.8 242.5h0M377.5 240.8h0M344.2 220.0h0M349.1 231.3h0M359.0 244.6h0M342.5 218.3h0M358.4 243.8h0M350.2 235.6h0M351.8 233.0h0M363.8 243.6h0M349.0 234.9h0M357.9 243.0h0M349.6 232.7h0M346.0 226.0h0M346.2 222.3h0M349.0 221.3h0M376.3 243.3h0M349.4 228.3h0M374.8 241.0h0M347.2 221.5h0M343.2 218.4h0M349.3 221.3h0M372.6 243.3h0M368.8 244.5h0M373.4 240.4h0M349.9 227.1h0M353.1 240.0h0M371.5 243.6h0M349.7 233.2h0M380.3 240.6h0M353.4 241.8h0M360.3 245.2h0M350.6 233.9h0M372.3 245.2h0M349.7 220.0h0M371.2 244.5h0M365.9 246.2h0M362.8 244.3h0M359.1 244.0h0M345.9 227.8h0M350.9 231.4h0M377.3 241.1h0M351.3 238.0h0M353.8 237.4h0M349.1 228.1h0M367.8 242.5h0M353.5 240.5h0M360.5 245.1h0M369.4 244.8h0M356.3 240.7h0M379.6 240.6h0M350.4 227.6h0M350.6 237.3h0M350.8 225.2h0M349.1 224.9h0M367.8 243.1h0M360.0 243.9h0M377.6 242.7h0M359.7 241.3h0M375.6 242.5h0M358.6 242.0h0M374.1 241.5h0M347.0 227.6h0M351.0 234.6h0M364.9 245.1h0M379.9 240.0h0M347.1 232.1h0M346.1 219.7h0M351.4 237.3h0M362.3 245.0h0M344.0 217.1h0M355.3 239.9h0M362.3 243.5h0M357.7 240.8h0M347.8 218.7h0M374.2 245.1h0M369.5 245.0h0M359.6 245.3h0M366.6 245.2h0M372.0 242.9h0M351.0 231.4h0M362.3 241.4h0M365.8 243.2h0M376.4 240.9h0M350.2 233.6h0M346.5 224.1h0"/>
<path stroke="#FB61D7" d="M386.4 237.1h0M376.7 217.1h0M372.2 214.8h0M369.9 212.1h0M367.0 199.2h0M381.2 220.2h0M378.9 218.6h0M365.6 206.6h0M382.8 240.1h0M382.5 218.7h0M366.3 204.9h0M370.1 196.0h0M366.9 208.9h0M374.9 215.7h0M379.7 217.5h0M372.2 214.9h0M392.2 227.9h0M390.6 228.6h0M388.8 235.3h0M390.8 230.6h0M383.0 238.5h0M389.2 225.1h0M368.1 200.7h0M369.2 196.6h0M367.9 209.7h0M387.3 224.3h0M382.0 219.4h0M368.8 195.4h0M383.8 220.9h0M386.6 234.7h0M369.2 196.7h0M376.9 217.0h0M371.3 216.1h0M371.2 211.9h0M365.2 203.4h0M369.3 195.4h0M381.9 238.3h0M385.7 236.1h0M384.4 219.6h0M389.5 233.8h0M380.4 219.0h0M373.8 211.8h0M368.2 201.1h0M369.6 210.8h0M367.9 207.8h0M371.0 211.8h0M388.6 233.6h0M377.2 217.0h0M370.8 212.1h0M382.7 220.7h0M385.1 238.0h0M390.9 232.0h0M385.4 220.7h0M377.7 217.0h0M381.0 220.2h0M389.3 232.0h0M372.2 214.8h0M377.7 216.2h0M375.4 215.5h0M381.9 240.0h0M386.6 222.6h0M377.4 216.8h0M374.3 217.3h0M368.1 196.4h0M385.1 220.8h0M382.4 237.6h0M366.3 200.5h0M369.5 195.2h0M371.4 214.1h0M377.8 217.8h0M388.4 223.8h0M365.9 205.0h0M384.6 238.0h0M365.5 204.6h0M383.2 237.8h0M381.0 240.3h0M365.9 207.5h0M369.1 209.2h0M377.3 217.2h0M367.3 206.5h0M376.4 217.3h0M376.8 217.7h0M370.6 214.0h0M370.2 211.5h0M384.4 220.9h0M387.5 221.9h0M384.6 239.2h0M389.9 232.6h0M390.5 236.2h0M370.1 195.2h0M365.0 202.3h0M370.6 213.3h0M381.2 240.0h0M368.1 210.1h0M387.3 235.7h0M382.9 239.2h0M364.8 203.4h0M386.5 236.8h0M383.8 220.6h0M372.0 213.8h0M388.4 224.6h0M368.7 196.5h0M370.7 213.5h0M381.6 238.2h0M365.9 204.3h0M382.7 238.3h0M380.4 239.9h0M390.3 224.3h0M382.2 240.7h0M365.4 204.7h0M387.6 233.3h0M372.6 214.1h0M368.4 198.2h0M389.3 233.1h0M381.8 219.4h0M391.0 229.7h0M389.8 227.5h0M381.3 218.2h0M372.8 216.8h0M386.6 221.2h0M379.1 216.5h0M390.9 231.3h0M370.4 210.8h0M385.0 220.8h0M370.5 213.1h0M381.0 218.1h0M382.7 221.9h0M388.7 226.9h0M382.7 220.3h0M390.9 232.3h0M386.0 238.8h0M388.6 230.8h0M384.6 236.2h0M384.1 238.9h0M385.2 228.2h0M387.1 230.0h0M386.9 227.6h0M389.6 232.0h0M389.1 231.3h0M387.4 230.2h0M384.3 221.8h0M383.7 234.3h0M383.4 224.2h0M383.9 222.0h0M385.0 237.3h0M386.4 235.3h0M388.1 238.6h0M383.1 222.2h0M386.0 234.9h0M380.8 223.2h0M385.0 224.9h0M384.6 236.3h0M381.8 239.2h0M384.5 221.6h0M385.8 228.0h0M385.8 236.7h0M387.2 228.2h0M382.9 240.4h0M380.9 222.6h0M386.0 233.4h0M385.0 227.4h0M384.8 226.8h0M381.0 223.0h0M383.1 221.1h0M384.9 221.4h0M388.7 230.5h0M387.3 231.8h0M388.7 227.3h0M382.5 221.0h0M385.4 220.8h0M387.5 226.2h0M384.9 233.5h0M388.4 234.6h0M382.5 220.6h0M385.0 224.0h0M390.0 241.3h0M388.8 231.7h0M385.4 241.1h0M387.7 227.2h0M380.7 222.6h0M385.2 236.2h0M385.8 237.7h0M390.2 237.0h0M381.1 223.9h0M387.4 234.5h0M383.4 224.7h0M384.0 227.7h0M388.7 227.6h0M381.6 222.4h0M384.6 224.4h0M387.1 229.4h0M387.4 228.3h0M392.1 227.9h0M387.2 240.5h0M382.5 226.3h0M386.5 230.1h0M389.0 235.3h0M386.2 226.3h0M384.7 242.5h0M388.9 229.8h0M391.5 233.7h0M389.8 233.6h0M386.1 226.1h0M383.8 236.6h0M384.0 240.3h0M385.6 237.6h0M387.9 229.4h0M390.2 234.0h0M382.3 235.9h0M389.4 233.7h0M383.7 223.1h0M386.4 238.1h0M391.4 227.4h0M387.7 237.3h0M390.4 227.5h0M385.2 234.4h0M387.7 224.7h0M385.5 225.6h0M385.5 237.3h0M384.0 222.9h0M390.1 237.0h0M387.9 232.2h0M388.9 234.0h0M382.9 222.6h0M384.1 237.5h0M381.8 238.6h0M384.1 238.6h0M385.4 222.1h0M383.9 238.7h0M386.5 237.6h0M388.2 233.8h0M383.8 233.1h0M387.9 237.5h0M390.0 229.5h0M385.9 225.4h0M382.4 237.2h0M391.4 233.9h0M384.2 224.4h0M385.9 237.8h0M383.5 238.2h0M384.5 227.1h0M387.2 234.4h0M387.5 225.9h0M386.6 224.3h0M390.5 236.2h0M387.7 224.5h0"/>
<path stroke="#FF66A8" d="M405.1 191.3h0M400.6 181.4h0M403.0 198.4h0M400.4 185.5h0M403.2 197.3h0M401.0 187.4h0M404.9 193.2h0M400.5 191.8h0M401.7 185.3h0M401.2 182.2h0M403.9 190.2h0M404.1 194.5h0M403.3 195.6h0M400.7 186.3h0M406.1 193.8h0M405.1 199.4h0M404.1 195.4h0M400.7 194.8h0M405.2 198.4h0M404.7 193.9h0M400.4 193.4h0M402.5 186.2h0M403.7 196.1h0M403.5 198.8h0M406.0 191.1h0M399.8 192.4h0M402.0 191.5h0M404.1 197.8h0M401.5 189.4h0M403.0 197.0h0M404.4 198.2h0M402.9 185.8h0M405.1 198.4h0M399.4 194.3h0M402.9 198.0h0M407.1 191.6h0M400.5 193.5h0M398.8 195.7h0M402.2 184.2h0M400.0 191.2h0M405.0 199.1h0M405.1 194.6h0M401.3 190.4h0M403.7 188.6h0M400.8 186.9h0M403.2 195.7h0M400.6 187.4h0M402.2 187.8h0M405.8 193.1h0M404.5 193.1h0M404.2 199.8h0M401.9 194.4h0M403.1 196.9h0M402.1 198.3h0M402.3 188.8h0M399.9 195.5h0M405.2 195.8h0M401.6 184.7h0M402.1 194.7h0M401.8 197.2h0M400.5 189.7h0M401.7 187.8h0M401.9 188.8h0M403.3 197.9h0M403.0 193.6h0M405.2 197.3h0M401.7 192.8h0M400.1 194.6h0M406.6 198.1h0M399.6 196.7h0M404.1 193.7h0M402.6 190.1h0M400.0 195.7h0M403.7 195.6h0M399.8 193.8h0M400.4 192.6h0M404.2 193.7h0M399.7 192.8h0M404.9 199.0h0M406.5 196.4h0M405.0 197.6h0M401.4 190.5h0M402.3 192.8h0M402.9 191.9h0M403.5 193.1h0M402.8 191.3h0M404.6 195.5h0M404.1 190.5h0M400.5 185.3h0M399.2 193.9h0M400.1 192.5h0M400.6 190.4h0M402.1 197.0h0M400.2 192.2h0M409.8 194.0h0M436.6 194.5h0M416.7 195.0h0M436.3 194.3h0M431.8 193.5h0M409.7 194.2h0M419.1 193.7h0M412.2 193.8h0M415.3 193.8h0M438.6 193.2h0M436.9 195.2h0M419.2 191.7h0M432.1 196.3h0M434.5 195.0h0M416.1 194.0h0M420.2 195.6h0M425.5 196.2h0M434.3 194.3h0M428.5 196.8h0M427.7 196.1h0M433.8 195.4h0M424.0 193.3h0M416.2 194.4h0M423.8 194.9h0M422.2 195.2h0M426.5 195.7h0M413.2 194.2h0M423.3 194.6h0M414.8 193.6h0M407.9 191.9h0M406.0 195.2h0M437.0 196.8h0M421.3 195.5h0M413.6 194.7h0M427.3 196.7h0M428.3 196.4h0M412.3 193.4h0M422.9 197.8h0M436.2 194.3h0M428.1 196.9h0M439.4 194.1h0M424.6 196.8h0M407.8 193.2h0M410.8 194.5h0M421.3 193.7h0M429.4 194.2h0M430.1 197.3h0M421.7 193.6h0M424.2 196.2h0M419.8 196.4h0M438.9 195.3h0M435.2 194.6h0M426.6 196.5h0M413.6 194.9h0M421.5 196.9h0M439.0 196.2h0M434.5 196.8h0M425.0 194.6h0M412.0 194.9h0M426.1 196.4h0M425.3 195.6h0M410.4 194.2h0M423.6 195.6h0M412.6 192.9h0M436.9 193.1h0M412.9 194.8h0M426.0 197.4h0M408.8 192.0h0M438.7 195.6h0M423.5 196.0h0M438.7 195.7h0M426.6 198.6h0M429.5 199.7h0M409.7 194.0h0M418.5 194.7h0M439.2 193.4h0M435.3 194.6h0M410.3 193.0h0M415.5 194.4h0M436.4 192.2h0M418.6 195.5h0M411.1 194.6h0M432.8 195.2h0M421.6 194.1h0M437.2 196.6h0M435.5 195.7h0M438.9 193.1h0M424.6 195.5h0M413.2 194.7h0M410.7 192.2h0M407.2 194.7h0M408.7 192.8h0M414.0 196.0h0M433.6 197.2h0M424.0 195.0h0M416.1 193.6h0M437.0 197.7h0M439.4 195.2h0M435.1 195.8h0M439.4 193.9h0M439.5 193.4h0M416.5 193.9h0M415.7 193.9h0M424.6 196.2h0M425.0 195.6h0M427.6 194.6h0M422.9 197.3h0M417.0 195.4h0M413.6 193.7h0M428.2 195.9h0M407.3 195.7h0M407.9 193.0h0M407.7 198.4h0M436.8 195.0h0M424.8 196.3h0M436.3 195.0h0M412.3 195.7h0M408.9 194.6h0M435.4 197.0h0M438.2 194.1h0M408.1 194.3h0M432.2 197.0h0M406.8 193.5h0M424.6 198.0h0M418.2 189.2h0M417.9 190.6h0M416.5 190.7h0M419.0 187.5h0M418.9 189.8h0M415.7 187.8h0M416.1 190.7h0M416.9 191.1h0M417.4 191.1h0M415.8 188.7h0M417.0 188.8h0M416.5 187.6h0M417.3 189.4h0M415.7 187.1h0M423.1 190.9h0M425.4 193.2h0M423.8 190.5h0M425.4 191.7h0M425.7 192.0h0M423.5 191.7h0M422.6 190.8h0M424.7 191.9h0M423.1 193.8h0M423.2 191.7h0M425.3 191.4h0M424.1 191.5h0M440.1 191.2h0M438.2 192.9h0M436.7 189.9h0M438.2 189.1h0M440.2 192.3h0M436.5 192.5h0M436.3 189.9h0M438.9 190.6h0M436.3 189.1h0M439.2 189.6h0M438.9 192.7h0M437.3 188.9h0M437.2 192.0h0M438.2 191.5h0M439.7 190.8h0M437.9 188.8h0M439.1 191.7h0M443.3 204.5h0M443.1 204.4h0M441.8 200.7h0M437.3 195.6h0M445.8 205.5h0M443.8 204.2h0M438.7 192.5h0M440.0 198.7h0M444.8 204.9h0M441.0 204.7h0M441.3 204.6h0M443.7 207.6h0M443.1 207.1h0M441.8 202.7h0M437.1 193.5h0M440.9 202.1h0M440.3 196.1h0M439.8 196.1h0M439.6 198.7h0M442.3 202.4h0M441.2 195.4h0M445.8 208.1h0M441.1 197.2h0M442.0 200.9h0M436.9 192.7h0M440.2 196.4h0M440.1 191.7h0M442.5 201.9h0M445.2 206.2h0M442.3 204.5h0M442.7 206.6h0M443.9 205.2h0M439.1 192.7h0M443.1 205.6h0M439.8 193.1h0M440.9 197.9h0M438.5 193.4h0M439.2 194.8h0M443.9 204.7h0M442.6 197.9h0M443.5 204.8h0M440.9 202.7h0M445.0 208.3h0M442.7 200.3h0M438.7 193.7h0M440.4 197.1h0M439.3 192.5h0M439.1 193.2h0M438.7 194.5h0M445.4 207.5h0M443.2 204.3h0M445.3 205.6h0M442.9 207.2h0M439.4 198.3h0M443.5 205.4h0M439.9 198.0h0M439.7 196.7h0M443.5 208.9h0M444.6 208.9h0"/>
</g>
<circle cx="581.2" cy="44.40" r="4.3" fill="#F8766D"/>
<text x="595.6" y="48.85" font-size="12.85" fill="#1a1a1a">Lymphoid progenitor</text>
<circle cx="581.2" cy="60.45" r="4.3" fill="#E38900"/>
<text x="595.6" y="64.90" font-size="12.85" fill="#1a1a1a">Pro.B cell</text>
<circle cx="581.2" cy="76.50" r="4.3" fill="#C49A00"/>
<text x="595.6" y="80.95" font-size="12.85" fill="#1a1a1a">Pre.B cell</text>
<circle cx="581.2" cy="92.55" r="4.3" fill="#99A800"/>
<text x="595.6" y="97.00" font-size="12.85" fill="#1a1a1a">B cell</text>
<circle cx="581.2" cy="108.60" r="4.3" fill="#53B400"/>
<text x="595.6" y="113.05" font-size="12.85" fill="#1a1a1a">T cell</text>
<circle cx="581.2" cy="124.65" r="4.3" fill="#00BC56"/>
<text x="595.6" y="129.10" font-size="12.85" fill="#1a1a1a">Erythroid progenitor</text>
<circle cx="581.2" cy="140.70" r="4.3" fill="#00C094"/>
<text x="595.6" y="145.15" font-size="12.85" fill="#1a1a1a">Megakaryocyte</text>
<circle cx="581.2" cy="156.75" r="4.3" fill="#00BFC4"/>
<text x="595.6" y="161.20" font-size="12.85" fill="#1a1a1a">Myeloid progenitor</text>
<circle cx="581.2" cy="172.80" r="4.3" fill="#00B6EB"/>
<text x="595.6" y="177.25" font-size="12.85" fill="#1a1a1a">Basophil-Eosinophil</text>
<circle cx="581.2" cy="188.85" r="4.3" fill="#06A4FF"/>
<text x="595.6" y="193.30" font-size="12.85" fill="#1a1a1a">Dendritic</text>
<circle cx="581.2" cy="204.90" r="4.3" fill="#A58AFF"/>
<text x="595.6" y="209.35" font-size="12.85" fill="#1a1a1a">Monocyte</text>
<circle cx="581.2" cy="220.95" r="4.3" fill="#DF70F8"/>
<text x="595.6" y="225.40" font-size="12.85" fill="#1a1a1a">Neutrophil</text>
<circle cx="581.2" cy="237.00" r="4.3" fill="#FB61D7"/>
<text x="595.6" y="241.45" font-size="12.85" fill="#1a1a1a">Neutrophil progenitor</text>
<circle cx="581.2" cy="253.05" r="4.3" fill="#FF66A8"/>
<text x="595.6" y="257.50" font-size="12.85" fill="#1a1a1a">LMPPs</text>
<g font-size="17.0" stroke="#000" stroke-width="0.3">
<rect x="56.0" y="356.10" width="500.2" height="1.8" fill="#000"/>
<rect x="56.0" y="381.10" width="500.2" height="1.8" fill="#000"/>
<rect x="56.0" y="406.10" width="500.2" height="1.8" fill="#000"/>
<rect x="56.0" y="431.10" width="500.2" height="1.8" fill="#000"/>
<rect x="56.0" y="456.10" width="500.2" height="1.8" fill="#000"/>
<rect x="56.0" y="481.10" width="500.2" height="1.8" fill="#000"/>
<rect x="56.0" y="506.10" width="500.2" height="1.8" fill="#000"/>
<rect x="56.0" y="531.10" width="500.2" height="1.8" fill="#000"/>
<rect x="56.0" y="556.10" width="500.2" height="1.8" fill="#000"/>
<rect x="56.0" y="581.10" width="500.2" height="1.8" fill="#000"/>
<rect x="56.0" y="606.10" width="500.2" height="1.8" fill="#000"/>
<rect x="56.0" y="631.60" width="500.2" height="1.8" fill="#000"/>
<rect x="56.0" y="656.60" width="500.2" height="1.8" fill="#000"/>
<rect x="56.0" y="681.80" width="500.2" height="1.8" fill="#000"/>
<rect x="56.0" y="709.70" width="500.2" height="1.8" fill="#000"/>
<rect x="56.0" y="734.90" width="500.2" height="1.8" fill="#000"/>
<rect x="56.20" y="356.0" width="1.6" height="380.8" fill="#000"/>
<rect x="301.70" y="356.0" width="1.6" height="380.8" fill="#000"/>
<rect x="425.70" y="356.0" width="1.6" height="380.8" fill="#000"/>
<rect x="554.40" y="356.0" width="1.6" height="380.8" fill="#000"/>
<text x="58.0" y="376.8" font-weight="bold" textLength="54.6" lengthAdjust="spacingAndGlyphs">Cluster</text>
<text x="303.3" y="376.8" font-weight="bold" textLength="113.3" lengthAdjust="spacingAndGlyphs">Mouse-Mouse</text>
<text x="427.6" y="376.8" font-weight="bold" textLength="86.3" lengthAdjust="spacingAndGlyphs">Mouse-Rat</text>
<text x="58.0" y="401.7" textLength="159.9" lengthAdjust="spacingAndGlyphs">Lymphoid progenitor</text>
<text x="303.3" y="401.7" fill="#0070C0" stroke="#0070C0" textLength="37.0" lengthAdjust="spacingAndGlyphs">4.5%</text>
<text x="427.6" y="401.7" fill="#0070C0" stroke="#0070C0" textLength="46.4" lengthAdjust="spacingAndGlyphs">3.31%</text>
<text x="58.0" y="426.7" textLength="70.8" lengthAdjust="spacingAndGlyphs">Pro.B cell</text>
<text x="303.3" y="426.7" fill="#0070C0" stroke="#0070C0" textLength="55.9" lengthAdjust="spacingAndGlyphs">14.09%</text>
<text x="427.6" y="426.7" fill="#0070C0" stroke="#0070C0" textLength="46.4" lengthAdjust="spacingAndGlyphs">2.59%</text>
<text x="58.0" y="451.7" textLength="70.3" lengthAdjust="spacingAndGlyphs">Pre.B cell</text>
<text x="303.3" y="451.7" fill="#0070C0" stroke="#0070C0" textLength="55.9" lengthAdjust="spacingAndGlyphs">17.29%</text>
<text x="427.6" y="451.7" fill="#0070C0" stroke="#0070C0" textLength="46.4" lengthAdjust="spacingAndGlyphs">8.99%</text>
<text x="58.0" y="476.7" textLength="40.1" lengthAdjust="spacingAndGlyphs">B cell</text>
<text x="303.3" y="476.7" fill="#0070C0" stroke="#0070C0" textLength="55.9" lengthAdjust="spacingAndGlyphs">37.09%</text>
<text x="427.6" y="476.7" fill="#0070C0" stroke="#0070C0" textLength="55.9" lengthAdjust="spacingAndGlyphs">13.43%</text>
<text x="58.0" y="501.7" textLength="39.1" lengthAdjust="spacingAndGlyphs">T cell</text>
<text x="303.3" y="501.7" fill="#C00000" stroke="#C00000" textLength="46.4" lengthAdjust="spacingAndGlyphs">1.75%</text>
<text x="427.6" y="501.7" fill="#C00000" stroke="#C00000" textLength="46.4" lengthAdjust="spacingAndGlyphs">4.04%</text>
<text x="58.0" y="526.7" textLength="155.8" lengthAdjust="spacingAndGlyphs">Erythroid progenitor</text>
<text x="303.3" y="526.7" fill="#C00000" stroke="#C00000" textLength="46.4" lengthAdjust="spacingAndGlyphs">3.84%</text>
<text x="427.6" y="526.7" fill="#C00000" stroke="#C00000" textLength="55.9" lengthAdjust="spacingAndGlyphs">18.64%</text>
<text x="58.0" y="551.7" textLength="147.1" lengthAdjust="spacingAndGlyphs">Myeloid progenitor</text>
<text x="303.3" y="551.7" fill="#C00000" stroke="#C00000" textLength="46.4" lengthAdjust="spacingAndGlyphs">1.34%</text>
<text x="427.6" y="551.7" fill="#C00000" stroke="#C00000" textLength="46.4" lengthAdjust="spacingAndGlyphs">7.73%</text>
<text x="58.0" y="576.7" textLength="167.1" lengthAdjust="spacingAndGlyphs">Neutrophil progenitor</text>
<text x="303.3" y="576.7" fill="#C00000" stroke="#C00000" textLength="46.4" lengthAdjust="spacingAndGlyphs">2.51%</text>
<text x="427.6" y="576.7" fill="#C00000" stroke="#C00000" textLength="46.4" lengthAdjust="spacingAndGlyphs">5.95%</text>
<text x="58.0" y="601.7" textLength="148.5" lengthAdjust="spacingAndGlyphs">Basophil-Eosinophil</text>
<text x="303.3" y="601.7" fill="#C00000" stroke="#C00000" textLength="46.4" lengthAdjust="spacingAndGlyphs">1.02%</text>
<text x="427.6" y="601.7" fill="#C00000" stroke="#C00000" textLength="46.4" lengthAdjust="spacingAndGlyphs">9.02%</text>
<text x="58.0" y="626.7" textLength="69.6" lengthAdjust="spacingAndGlyphs">Dendritic</text>
<text x="303.3" y="626.7" fill="#C00000" stroke="#C00000" textLength="46.4" lengthAdjust="spacingAndGlyphs">1.83%</text>
<text x="427.6" y="626.7" fill="#C00000" stroke="#C00000" textLength="46.4" lengthAdjust="spacingAndGlyphs">6.96%</text>
<text x="58.0" y="652.2" textLength="77.4" lengthAdjust="spacingAndGlyphs">Monocyte</text>
<text x="303.3" y="652.2" fill="#000" stroke="#000" textLength="46.4" lengthAdjust="spacingAndGlyphs">2.52%</text>
<text x="427.6" y="652.2" fill="#000" stroke="#000" textLength="46.4" lengthAdjust="spacingAndGlyphs">2.74%</text>
<text x="58.0" y="677.2" textLength="81.9" lengthAdjust="spacingAndGlyphs">Neutrophil</text>
<text x="303.3" y="677.2" fill="#000" stroke="#000" textLength="46.4" lengthAdjust="spacingAndGlyphs">4.54%</text>
<text x="427.6" y="677.2" fill="#000" stroke="#000" textLength="46.4" lengthAdjust="spacingAndGlyphs">4.99%</text>
<text x="58.0" y="705.5" textLength="117.1" lengthAdjust="spacingAndGlyphs">Megakaryocyte</text>
<text x="303.3" y="705.5" fill="#0070C0" stroke="#0070C0" textLength="37.0" lengthAdjust="spacingAndGlyphs">7.2%</text>
<text x="427.6" y="705.5" fill="#0070C0" stroke="#0070C0" textLength="46.4" lengthAdjust="spacingAndGlyphs">1.68%</text>
<text x="58.0" y="730.3" textLength="50.4" lengthAdjust="spacingAndGlyphs">LMPPs</text>
<text x="303.3" y="730.3" fill="#C00000" stroke="#C00000" textLength="55.9" lengthAdjust="spacingAndGlyphs">0.047%</text>
<text x="427.6" y="730.3" fill="#C00000" stroke="#C00000" textLength="55.9" lengthAdjust="spacingAndGlyphs">0.994%</text>
</g>
</svg>
</body></html>
